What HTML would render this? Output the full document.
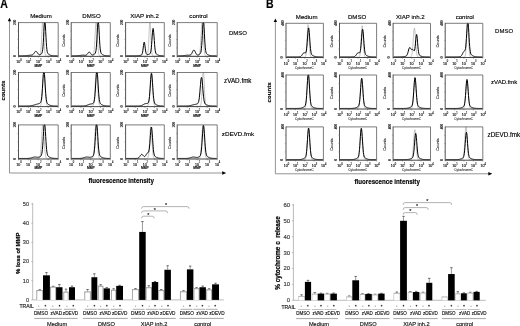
<!DOCTYPE html>
<html><head><meta charset="utf-8"><style>
html,body{margin:0;padding:0;background:#fff;width:520px;height:326px;overflow:hidden}
svg{display:block}
#w{filter:grayscale(1);width:520px;height:326px}
text{font-family:"Liberation Sans", sans-serif}
</style></head><body>
<div id="w"><svg width="520" height="326" viewBox="0 0 520 326">
<rect width="520" height="326" fill="#fff"/>
<text x="0.35" y="8.20" font-size="12" text-anchor="start" fill="#000" font-weight="bold" textLength="7.6" lengthAdjust="spacingAndGlyphs" stroke="#000" stroke-width="0.14">A</text>
<text x="266.10" y="8.20" font-size="12" text-anchor="start" fill="#000" font-weight="bold" textLength="7.6" lengthAdjust="spacingAndGlyphs" stroke="#000" stroke-width="0.14">B</text>
<path d="M19.00,56.10 L19.30,56.10 L19.60,56.10 L19.90,56.10 L20.20,56.10 L20.50,56.10 L20.80,56.10 L21.10,56.10 L21.40,56.10 L21.70,56.10 L22.00,56.10 L22.30,56.10 L22.60,56.10 L22.90,56.10 L23.20,56.10 L23.50,56.10 L23.80,56.10 L24.10,56.10 L24.40,56.10 L24.70,56.10 L25.00,56.10 L25.30,56.10 L25.60,56.10 L25.90,56.10 L26.20,56.10 L26.50,56.10 L26.80,56.10 L27.10,56.10 L27.40,56.10 L27.70,56.10 L28.00,56.10 L28.30,56.10 L28.60,56.10 L28.90,56.10 L29.20,56.10 L29.50,56.10 L29.80,56.10 L30.10,56.10 L30.40,56.10 L30.70,56.10 L31.00,56.10 L31.30,56.10 L31.60,56.10 L31.90,56.10 L32.20,56.10 L32.50,56.10 L32.80,56.10 L33.10,56.10 L33.40,56.10 L33.70,56.10 L34.00,56.10 L34.30,56.10 L34.60,56.10 L34.90,56.10 L35.20,56.10 L35.50,56.10 L35.80,56.10 L36.10,56.10 L36.40,56.10 L36.70,56.10 L37.00,56.10 L37.30,56.10 L37.60,56.10 L37.90,56.10 L38.20,56.10 L38.50,56.10 L38.80,56.09 L39.10,56.06 L39.40,55.99 L39.70,55.81 L40.00,55.40 L40.30,54.55 L40.60,52.97 L40.90,50.31 L41.20,46.32 L41.50,40.99 L41.80,34.77 L42.10,28.57 L42.40,23.63 L42.70,22.60 L43.00,22.60 L43.30,25.06 L43.60,30.56 L43.90,36.89 L44.20,42.90 L44.50,47.81 L44.80,51.34 L45.10,53.60 L45.40,54.90 L45.70,55.58 L46.00,55.89 L46.30,56.02 L46.60,56.07 L46.90,56.09 L47.20,56.10 L47.50,56.10 L47.80,56.10 L48.10,56.10 L48.40,56.10 L48.70,56.10 L49.00,56.10 L49.30,56.10 L49.60,56.10 L49.90,56.10 L50.20,56.10 L50.50,56.10 L50.80,56.10 L51.10,56.10 L51.40,56.10 L51.70,56.10 L52.00,56.10 L52.30,56.10 L52.60,56.10 L52.90,56.10 L53.20,56.10 L53.50,56.10 L53.80,56.10 L54.10,56.10 L54.40,56.10 L54.70,56.10 L55.00,56.10 L55.30,56.10 L55.60,56.10 L55.90,56.10 L56.20,56.10 L56.50,56.10 L56.80,56.10 L57.10,56.10 L57.40,56.10 L57.70,56.10" stroke="#959595" stroke-width="0.55" fill="none"/>
<path d="M19.00,55.85 L19.30,55.85 L19.60,55.85 L19.90,55.85 L20.20,55.85 L20.50,55.85 L20.80,55.85 L21.10,55.85 L21.40,55.85 L21.70,55.84 L22.00,55.84 L22.30,55.84 L22.60,55.84 L22.90,55.83 L23.20,55.83 L23.50,55.82 L23.80,55.81 L24.10,55.80 L24.40,55.79 L24.70,55.78 L25.00,55.76 L25.30,55.74 L25.60,55.72 L25.90,55.69 L26.20,55.66 L26.50,55.63 L26.80,55.60 L27.10,55.56 L27.40,55.52 L27.70,55.48 L28.00,55.44 L28.30,55.40 L28.60,55.36 L28.90,55.33 L29.20,55.29 L29.50,55.26 L29.80,55.23 L30.10,55.20 L30.40,55.18 L30.70,55.16 L31.00,55.14 L31.30,55.11 L31.60,55.08 L31.90,55.02 L32.20,54.93 L32.50,54.80 L32.80,54.62 L33.10,54.38 L33.40,54.08 L33.70,53.71 L34.00,53.29 L34.30,52.84 L34.60,52.39 L34.90,51.97 L35.20,51.62 L35.50,51.38 L35.80,51.28 L36.10,51.32 L36.40,51.50 L36.70,51.80 L37.00,52.19 L37.30,52.64 L37.60,53.10 L37.90,53.54 L38.20,53.93 L38.50,54.25 L38.80,54.48 L39.10,54.64 L39.40,54.71 L39.70,54.72 L40.00,54.67 L40.30,54.57 L40.60,54.43 L40.90,54.26 L41.20,54.04 L41.50,53.76 L41.80,53.34 L42.10,52.67 L42.40,51.53 L42.70,49.64 L43.00,46.70 L43.30,42.53 L43.60,37.27 L43.90,31.45 L44.20,26.03 L44.50,22.60 L44.80,22.60 L45.10,22.60 L45.40,26.03 L45.70,31.45 L46.00,37.27 L46.30,42.54 L46.60,46.70 L46.90,49.64 L47.20,51.53 L47.50,52.67 L47.80,53.35 L48.10,53.77 L48.40,54.06 L48.70,54.29 L49.00,54.49 L49.30,54.67 L49.60,54.84 L49.90,54.99 L50.20,55.12 L50.50,55.24 L50.80,55.35 L51.10,55.44 L51.40,55.52 L51.70,55.58 L52.00,55.64 L52.30,55.68 L52.60,55.72 L52.90,55.75 L53.20,55.77 L53.50,55.79 L53.80,55.81 L54.10,55.82 L54.40,55.83 L54.70,55.83 L55.00,55.84 L55.30,55.84 L55.60,55.84 L55.90,55.84 L56.20,55.85 L56.50,55.85 L56.80,55.85 L57.10,55.85 L57.40,55.85 L57.70,55.85" stroke="#000" stroke-width="1.0" fill="none" stroke-linejoin="round"/>
<line x1="18.50" y1="22.60" x2="58.20" y2="22.60" stroke="#5a5a5a" stroke-width="0.8"/>
<line x1="58.20" y1="22.60" x2="58.20" y2="56.40" stroke="#5a5a5a" stroke-width="0.8"/>
<line x1="18.50" y1="22.20" x2="18.50" y2="56.80" stroke="#404040" stroke-width="0.9"/>
<line x1="18.50" y1="56.40" x2="58.20" y2="56.40" stroke="#333" stroke-width="0.9"/>
<line x1="17.30" y1="31.05" x2="18.50" y2="31.05" stroke="#777" stroke-width="0.5"/>
<line x1="17.30" y1="39.50" x2="18.50" y2="39.50" stroke="#777" stroke-width="0.5"/>
<line x1="17.30" y1="47.95" x2="18.50" y2="47.95" stroke="#777" stroke-width="0.5"/>
<line x1="18.50" y1="56.40" x2="18.50" y2="57.70" stroke="#555" stroke-width="0.5"/>
<line x1="28.43" y1="56.40" x2="28.43" y2="57.70" stroke="#555" stroke-width="0.5"/>
<line x1="38.35" y1="56.40" x2="38.35" y2="57.70" stroke="#555" stroke-width="0.5"/>
<line x1="48.28" y1="56.40" x2="48.28" y2="57.70" stroke="#555" stroke-width="0.5"/>
<line x1="58.20" y1="56.40" x2="58.20" y2="57.70" stroke="#555" stroke-width="0.5"/>
<text x="16.25" y="22.40" font-size="3.1" text-anchor="middle" fill="#222" transform="rotate(-90 16.25 22.40)" stroke="#222" stroke-width="0.12">200</text>
<text x="15.90" y="56.20" font-size="3.1" text-anchor="middle" fill="#222" transform="rotate(-90 15.90 56.20)" stroke="#222" stroke-width="0.15">0</text>
<text x="18.20" y="62.90" font-size="3.6" text-anchor="middle" fill="#111" stroke="#111" stroke-width="0.15">10</text>
<text x="20.90" y="60.70" font-size="2.6" text-anchor="middle" fill="#111" stroke="#111" stroke-width="0.1">0</text>
<text x="28.12" y="62.90" font-size="3.6" text-anchor="middle" fill="#111" stroke="#111" stroke-width="0.15">10</text>
<text x="30.82" y="60.70" font-size="2.6" text-anchor="middle" fill="#111" stroke="#111" stroke-width="0.1">1</text>
<text x="38.05" y="62.90" font-size="3.6" text-anchor="middle" fill="#111" stroke="#111" stroke-width="0.15">10</text>
<text x="40.75" y="60.70" font-size="2.6" text-anchor="middle" fill="#111" stroke="#111" stroke-width="0.1">2</text>
<text x="47.98" y="62.90" font-size="3.6" text-anchor="middle" fill="#111" stroke="#111" stroke-width="0.15">10</text>
<text x="50.68" y="60.70" font-size="2.6" text-anchor="middle" fill="#111" stroke="#111" stroke-width="0.1">3</text>
<text x="57.90" y="62.90" font-size="3.6" text-anchor="middle" fill="#111" stroke="#111" stroke-width="0.15">10</text>
<text x="60.60" y="60.70" font-size="2.6" text-anchor="middle" fill="#111" stroke="#111" stroke-width="0.1">4</text>
<text x="38.35" y="66.60" font-size="3.3" text-anchor="middle" fill="#111" font-weight="bold" stroke="#111" stroke-width="0.12">MMP</text>
<path d="M71.70,56.10 L72.00,56.10 L72.30,56.10 L72.60,56.10 L72.90,56.10 L73.20,56.10 L73.50,56.10 L73.80,56.10 L74.10,56.10 L74.40,56.10 L74.70,56.10 L75.00,56.10 L75.30,56.10 L75.60,56.10 L75.90,56.10 L76.20,56.10 L76.50,56.10 L76.80,56.10 L77.10,56.10 L77.40,56.10 L77.70,56.10 L78.00,56.10 L78.30,56.10 L78.60,56.10 L78.90,56.10 L79.20,56.10 L79.50,56.10 L79.80,56.10 L80.10,56.10 L80.40,56.10 L80.70,56.10 L81.00,56.10 L81.30,56.10 L81.60,56.10 L81.90,56.10 L82.20,56.10 L82.50,56.10 L82.80,56.10 L83.10,56.10 L83.40,56.10 L83.70,56.10 L84.00,56.10 L84.30,56.10 L84.60,56.10 L84.90,56.10 L85.20,56.10 L85.50,56.10 L85.80,56.10 L86.10,56.10 L86.40,56.10 L86.70,56.10 L87.00,56.10 L87.30,56.10 L87.60,56.10 L87.90,56.10 L88.20,56.10 L88.50,56.10 L88.80,56.10 L89.10,56.10 L89.40,56.10 L89.70,56.10 L90.00,56.10 L90.30,56.10 L90.60,56.10 L90.90,56.10 L91.20,56.10 L91.50,56.10 L91.80,56.09 L92.10,56.07 L92.40,56.01 L92.70,55.88 L93.00,55.59 L93.30,55.01 L93.60,53.95 L93.90,52.15 L94.20,49.36 L94.50,45.44 L94.80,40.45 L95.10,34.77 L95.40,29.10 L95.70,24.38 L96.00,22.60 L96.30,22.60 L96.60,23.18 L96.90,27.37 L97.20,32.83 L97.50,38.60 L97.80,43.89 L98.10,48.19 L98.40,51.34 L98.70,53.44 L99.00,54.72 L99.30,55.44 L99.60,55.80 L99.90,55.98 L100.20,56.05 L100.50,56.08 L100.80,56.09 L101.10,56.10 L101.40,56.10 L101.70,56.10 L102.00,56.10 L102.30,56.10 L102.60,56.10 L102.90,56.10 L103.20,56.10 L103.50,56.10 L103.80,56.10 L104.10,56.10 L104.40,56.10 L104.70,56.10 L105.00,56.10 L105.30,56.10 L105.60,56.10 L105.90,56.10 L106.20,56.10 L106.50,56.10 L106.80,56.10 L107.10,56.10 L107.40,56.10 L107.70,56.10 L108.00,56.10 L108.30,56.10 L108.60,56.10 L108.90,56.10 L109.20,56.10 L109.50,56.10 L109.80,56.10" stroke="#959595" stroke-width="0.55" fill="none"/>
<path d="M71.70,55.85 L72.00,55.85 L72.30,55.85 L72.60,55.85 L72.90,55.85 L73.20,55.85 L73.50,55.84 L73.80,55.84 L74.10,55.84 L74.40,55.84 L74.70,55.83 L75.00,55.83 L75.30,55.82 L75.60,55.82 L75.90,55.81 L76.20,55.80 L76.50,55.79 L76.80,55.77 L77.10,55.75 L77.40,55.73 L77.70,55.71 L78.00,55.68 L78.30,55.65 L78.60,55.62 L78.90,55.59 L79.20,55.55 L79.50,55.51 L79.80,55.47 L80.10,55.43 L80.40,55.39 L80.70,55.35 L81.00,55.31 L81.30,55.28 L81.60,55.25 L81.90,55.22 L82.20,55.20 L82.50,55.19 L82.80,55.18 L83.10,55.18 L83.40,55.19 L83.70,55.20 L84.00,55.21 L84.30,55.23 L84.60,55.25 L84.90,55.27 L85.20,55.28 L85.50,55.26 L85.80,55.22 L86.10,55.14 L86.40,55.00 L86.70,54.79 L87.00,54.50 L87.30,54.14 L87.60,53.72 L87.90,53.27 L88.20,52.83 L88.50,52.46 L88.80,52.18 L89.10,52.05 L89.40,52.09 L89.70,52.27 L90.00,52.59 L90.30,52.99 L90.60,53.44 L90.90,53.87 L91.20,54.26 L91.50,54.57 L91.80,54.80 L92.10,54.94 L92.40,55.01 L92.70,55.00 L93.00,54.94 L93.30,54.84 L93.60,54.70 L93.90,54.54 L94.20,54.35 L94.50,54.14 L94.80,53.87 L95.10,53.51 L95.40,52.94 L95.70,51.98 L96.00,50.37 L96.30,47.81 L96.60,44.06 L96.90,39.12 L97.20,33.40 L97.50,27.72 L97.80,23.20 L98.10,22.60 L98.40,22.60 L98.70,24.51 L99.00,29.54 L99.30,35.35 L99.60,40.88 L99.90,45.45 L100.20,48.79 L100.50,51.00 L100.80,52.35 L101.10,53.16 L101.40,53.65 L101.70,53.97 L102.00,54.22 L102.30,54.43 L102.60,54.62 L102.90,54.79 L103.20,54.94 L103.50,55.08 L103.80,55.21 L104.10,55.32 L104.40,55.41 L104.70,55.49 L105.00,55.56 L105.30,55.62 L105.60,55.67 L105.90,55.71 L106.20,55.74 L106.50,55.76 L106.80,55.79 L107.10,55.80 L107.40,55.81 L107.70,55.82 L108.00,55.83 L108.30,55.84 L108.60,55.84 L108.90,55.84 L109.20,55.84 L109.50,55.85 L109.80,55.85" stroke="#000" stroke-width="1.0" fill="none" stroke-linejoin="round"/>
<line x1="71.20" y1="22.60" x2="110.30" y2="22.60" stroke="#5a5a5a" stroke-width="0.8"/>
<line x1="110.30" y1="22.60" x2="110.30" y2="56.40" stroke="#5a5a5a" stroke-width="0.8"/>
<line x1="71.20" y1="22.20" x2="71.20" y2="56.80" stroke="#404040" stroke-width="0.9"/>
<line x1="71.20" y1="56.40" x2="110.30" y2="56.40" stroke="#333" stroke-width="0.9"/>
<line x1="70.00" y1="31.05" x2="71.20" y2="31.05" stroke="#777" stroke-width="0.5"/>
<line x1="70.00" y1="39.50" x2="71.20" y2="39.50" stroke="#777" stroke-width="0.5"/>
<line x1="70.00" y1="47.95" x2="71.20" y2="47.95" stroke="#777" stroke-width="0.5"/>
<line x1="71.20" y1="56.40" x2="71.20" y2="57.70" stroke="#555" stroke-width="0.5"/>
<line x1="80.97" y1="56.40" x2="80.97" y2="57.70" stroke="#555" stroke-width="0.5"/>
<line x1="90.75" y1="56.40" x2="90.75" y2="57.70" stroke="#555" stroke-width="0.5"/>
<line x1="100.53" y1="56.40" x2="100.53" y2="57.70" stroke="#555" stroke-width="0.5"/>
<line x1="110.30" y1="56.40" x2="110.30" y2="57.70" stroke="#555" stroke-width="0.5"/>
<text x="68.95" y="22.40" font-size="3.1" text-anchor="middle" fill="#222" transform="rotate(-90 68.95 22.40)" stroke="#222" stroke-width="0.12">200</text>
<text x="68.60" y="56.20" font-size="3.1" text-anchor="middle" fill="#222" transform="rotate(-90 68.60 56.20)" stroke="#222" stroke-width="0.15">0</text>
<text x="64.55" y="40.50" font-size="3.9" text-anchor="middle" fill="#444" transform="rotate(-90 64.55 40.50)" stroke="#444" stroke-width="0.15">Counts</text>
<text x="70.90" y="62.90" font-size="3.6" text-anchor="middle" fill="#111" stroke="#111" stroke-width="0.15">10</text>
<text x="73.60" y="60.70" font-size="2.6" text-anchor="middle" fill="#111" stroke="#111" stroke-width="0.1">0</text>
<text x="80.67" y="62.90" font-size="3.6" text-anchor="middle" fill="#111" stroke="#111" stroke-width="0.15">10</text>
<text x="83.38" y="60.70" font-size="2.6" text-anchor="middle" fill="#111" stroke="#111" stroke-width="0.1">1</text>
<text x="90.45" y="62.90" font-size="3.6" text-anchor="middle" fill="#111" stroke="#111" stroke-width="0.15">10</text>
<text x="93.15" y="60.70" font-size="2.6" text-anchor="middle" fill="#111" stroke="#111" stroke-width="0.1">2</text>
<text x="100.23" y="62.90" font-size="3.6" text-anchor="middle" fill="#111" stroke="#111" stroke-width="0.15">10</text>
<text x="102.93" y="60.70" font-size="2.6" text-anchor="middle" fill="#111" stroke="#111" stroke-width="0.1">3</text>
<text x="110.00" y="62.90" font-size="3.6" text-anchor="middle" fill="#111" stroke="#111" stroke-width="0.15">10</text>
<text x="112.70" y="60.70" font-size="2.6" text-anchor="middle" fill="#111" stroke="#111" stroke-width="0.1">4</text>
<text x="90.75" y="66.60" font-size="3.3" text-anchor="middle" fill="#111" font-weight="bold" stroke="#111" stroke-width="0.12">MMP</text>
<path d="M126.10,56.10 L126.40,56.10 L126.70,56.10 L127.00,56.10 L127.30,56.10 L127.60,56.10 L127.90,56.10 L128.20,56.10 L128.50,56.10 L128.80,56.10 L129.10,56.10 L129.40,56.10 L129.70,56.10 L130.00,56.10 L130.30,56.10 L130.60,56.10 L130.90,56.10 L131.20,56.10 L131.50,56.10 L131.80,56.10 L132.10,56.10 L132.40,56.10 L132.70,56.10 L133.00,56.10 L133.30,56.10 L133.60,56.10 L133.90,56.10 L134.20,56.10 L134.50,56.10 L134.80,56.10 L135.10,56.10 L135.40,56.10 L135.70,56.10 L136.00,56.10 L136.30,56.10 L136.60,56.10 L136.90,56.10 L137.20,56.10 L137.50,56.10 L137.80,56.10 L138.10,56.10 L138.40,56.10 L138.70,56.10 L139.00,56.10 L139.30,56.10 L139.60,56.10 L139.90,56.10 L140.20,56.10 L140.50,56.10 L140.80,56.10 L141.10,56.10 L141.40,56.10 L141.70,56.10 L142.00,56.10 L142.30,56.10 L142.60,56.10 L142.90,56.10 L143.20,56.10 L143.50,56.10 L143.80,56.10 L144.10,56.10 L144.40,56.10 L144.70,56.10 L145.00,56.10 L145.30,56.10 L145.60,56.10 L145.90,56.10 L146.20,56.09 L146.50,56.07 L146.80,56.01 L147.10,55.82 L147.40,55.36 L147.70,54.33 L148.00,52.31 L148.30,48.86 L148.60,43.71 L148.90,37.13 L149.20,30.11 L149.50,24.23 L149.80,22.60 L150.10,22.60 L150.40,25.96 L150.70,32.40 L151.00,39.43 L151.30,45.61 L151.60,50.19 L151.90,53.12 L152.20,54.76 L152.50,55.56 L152.80,55.90 L153.10,56.04 L153.40,56.08 L153.70,56.10 L154.00,56.10 L154.30,56.10 L154.60,56.10 L154.90,56.10 L155.20,56.10 L155.50,56.10 L155.80,56.10 L156.10,56.10 L156.40,56.10 L156.70,56.10 L157.00,56.10 L157.30,56.10 L157.60,56.10 L157.90,56.10 L158.20,56.10 L158.50,56.10 L158.80,56.10 L159.10,56.10 L159.40,56.10 L159.70,56.10 L160.00,56.10 L160.30,56.10 L160.60,56.10 L160.90,56.10 L161.20,56.10 L161.50,56.10 L161.80,56.10 L162.10,56.10 L162.40,56.10 L162.70,56.10 L163.00,56.10 L163.30,56.10 L163.60,56.10" stroke="#959595" stroke-width="0.55" fill="none"/>
<path d="M126.10,55.85 L126.40,55.85 L126.70,55.85 L127.00,55.85 L127.30,55.85 L127.60,55.85 L127.90,55.85 L128.20,55.85 L128.50,55.85 L128.80,55.85 L129.10,55.85 L129.40,55.85 L129.70,55.85 L130.00,55.85 L130.30,55.85 L130.60,55.85 L130.90,55.85 L131.20,55.85 L131.50,55.85 L131.80,55.85 L132.10,55.85 L132.40,55.85 L132.70,55.85 L133.00,55.85 L133.30,55.85 L133.60,55.85 L133.90,55.85 L134.20,55.85 L134.50,55.85 L134.80,55.85 L135.10,55.84 L135.40,55.84 L135.70,55.84 L136.00,55.83 L136.30,55.83 L136.60,55.82 L136.90,55.81 L137.20,55.80 L137.50,55.78 L137.80,55.76 L138.10,55.74 L138.40,55.71 L138.70,55.67 L139.00,55.63 L139.30,55.58 L139.60,55.52 L139.90,55.46 L140.20,55.38 L140.50,55.30 L140.80,55.21 L141.10,55.10 L141.40,54.95 L141.70,54.70 L142.00,54.26 L142.30,53.49 L142.60,52.21 L142.90,50.34 L143.20,47.96 L143.50,45.42 L143.80,43.29 L144.10,42.16 L144.40,42.38 L144.70,43.86 L145.00,46.17 L145.30,48.67 L145.60,50.87 L145.90,52.49 L146.20,53.53 L146.50,54.12 L146.80,54.41 L147.10,54.54 L147.40,54.58 L147.70,54.58 L148.00,54.56 L148.30,54.52 L148.60,54.46 L148.90,54.37 L149.20,54.27 L149.50,54.12 L149.80,53.90 L150.10,53.53 L150.40,52.92 L150.70,51.89 L151.00,50.24 L151.30,47.78 L151.60,44.46 L151.90,40.42 L152.20,36.10 L152.50,32.17 L152.80,29.41 L153.10,28.41 L153.40,29.42 L153.70,32.18 L154.00,36.11 L154.30,40.44 L154.60,44.49 L154.90,47.83 L155.20,50.30 L155.50,51.97 L155.80,53.02 L156.10,53.67 L156.40,54.06 L156.70,54.32 L157.00,54.52 L157.30,54.68 L157.60,54.83 L157.90,54.96 L158.20,55.08 L158.50,55.19 L158.80,55.29 L159.10,55.38 L159.40,55.45 L159.70,55.52 L160.00,55.58 L160.30,55.63 L160.60,55.67 L160.90,55.71 L161.20,55.74 L161.50,55.76 L161.80,55.78 L162.10,55.80 L162.40,55.81 L162.70,55.82 L163.00,55.83 L163.30,55.83 L163.60,55.84" stroke="#000" stroke-width="1.0" fill="none" stroke-linejoin="round"/>
<line x1="125.60" y1="22.60" x2="164.30" y2="22.60" stroke="#5a5a5a" stroke-width="0.8"/>
<line x1="164.30" y1="22.60" x2="164.30" y2="56.40" stroke="#5a5a5a" stroke-width="0.8"/>
<line x1="125.60" y1="22.20" x2="125.60" y2="56.80" stroke="#404040" stroke-width="0.9"/>
<line x1="125.60" y1="56.40" x2="164.30" y2="56.40" stroke="#333" stroke-width="0.9"/>
<line x1="124.40" y1="31.05" x2="125.60" y2="31.05" stroke="#777" stroke-width="0.5"/>
<line x1="124.40" y1="39.50" x2="125.60" y2="39.50" stroke="#777" stroke-width="0.5"/>
<line x1="124.40" y1="47.95" x2="125.60" y2="47.95" stroke="#777" stroke-width="0.5"/>
<line x1="125.60" y1="56.40" x2="125.60" y2="57.70" stroke="#555" stroke-width="0.5"/>
<line x1="135.28" y1="56.40" x2="135.28" y2="57.70" stroke="#555" stroke-width="0.5"/>
<line x1="144.95" y1="56.40" x2="144.95" y2="57.70" stroke="#555" stroke-width="0.5"/>
<line x1="154.62" y1="56.40" x2="154.62" y2="57.70" stroke="#555" stroke-width="0.5"/>
<line x1="164.30" y1="56.40" x2="164.30" y2="57.70" stroke="#555" stroke-width="0.5"/>
<text x="123.35" y="22.40" font-size="3.1" text-anchor="middle" fill="#222" transform="rotate(-90 123.35 22.40)" stroke="#222" stroke-width="0.12">200</text>
<text x="123.00" y="56.20" font-size="3.1" text-anchor="middle" fill="#222" transform="rotate(-90 123.00 56.20)" stroke="#222" stroke-width="0.15">0</text>
<text x="118.95" y="40.50" font-size="3.9" text-anchor="middle" fill="#444" transform="rotate(-90 118.95 40.50)" stroke="#444" stroke-width="0.15">Counts</text>
<text x="125.30" y="62.90" font-size="3.6" text-anchor="middle" fill="#111" stroke="#111" stroke-width="0.15">10</text>
<text x="128.00" y="60.70" font-size="2.6" text-anchor="middle" fill="#111" stroke="#111" stroke-width="0.1">0</text>
<text x="134.97" y="62.90" font-size="3.6" text-anchor="middle" fill="#111" stroke="#111" stroke-width="0.15">10</text>
<text x="137.68" y="60.70" font-size="2.6" text-anchor="middle" fill="#111" stroke="#111" stroke-width="0.1">1</text>
<text x="144.65" y="62.90" font-size="3.6" text-anchor="middle" fill="#111" stroke="#111" stroke-width="0.15">10</text>
<text x="147.35" y="60.70" font-size="2.6" text-anchor="middle" fill="#111" stroke="#111" stroke-width="0.1">2</text>
<text x="154.32" y="62.90" font-size="3.6" text-anchor="middle" fill="#111" stroke="#111" stroke-width="0.15">10</text>
<text x="157.03" y="60.70" font-size="2.6" text-anchor="middle" fill="#111" stroke="#111" stroke-width="0.1">3</text>
<text x="164.00" y="62.90" font-size="3.6" text-anchor="middle" fill="#111" stroke="#111" stroke-width="0.15">10</text>
<text x="166.70" y="60.70" font-size="2.6" text-anchor="middle" fill="#111" stroke="#111" stroke-width="0.1">4</text>
<text x="144.95" y="66.60" font-size="3.3" text-anchor="middle" fill="#111" font-weight="bold" stroke="#111" stroke-width="0.12">MMP</text>
<path d="M177.70,56.10 L178.00,56.10 L178.30,56.10 L178.60,56.10 L178.90,56.10 L179.20,56.10 L179.50,56.10 L179.80,56.10 L180.10,56.10 L180.40,56.10 L180.70,56.10 L181.00,56.10 L181.30,56.10 L181.60,56.10 L181.90,56.10 L182.20,56.10 L182.50,56.10 L182.80,56.10 L183.10,56.10 L183.40,56.10 L183.70,56.10 L184.00,56.10 L184.30,56.10 L184.60,56.10 L184.90,56.10 L185.20,56.10 L185.50,56.10 L185.80,56.10 L186.10,56.10 L186.40,56.10 L186.70,56.10 L187.00,56.10 L187.30,56.10 L187.60,56.10 L187.90,56.10 L188.20,56.10 L188.50,56.10 L188.80,56.10 L189.10,56.10 L189.40,56.10 L189.70,56.10 L190.00,56.10 L190.30,56.10 L190.60,56.10 L190.90,56.10 L191.20,56.10 L191.50,56.10 L191.80,56.10 L192.10,56.10 L192.40,56.10 L192.70,56.10 L193.00,56.10 L193.30,56.10 L193.60,56.10 L193.90,56.10 L194.20,56.10 L194.50,56.10 L194.80,56.10 L195.10,56.10 L195.40,56.10 L195.70,56.10 L196.00,56.10 L196.30,56.10 L196.60,56.10 L196.90,56.10 L197.20,56.10 L197.50,56.10 L197.80,56.09 L198.10,56.07 L198.40,56.01 L198.70,55.88 L199.00,55.59 L199.30,55.01 L199.60,53.95 L199.90,52.15 L200.20,49.36 L200.50,45.44 L200.80,40.45 L201.10,34.77 L201.40,29.10 L201.70,24.38 L202.00,22.60 L202.30,22.60 L202.60,23.18 L202.90,27.37 L203.20,32.83 L203.50,38.60 L203.80,43.89 L204.10,48.19 L204.40,51.34 L204.70,53.44 L205.00,54.72 L205.30,55.44 L205.60,55.80 L205.90,55.98 L206.20,56.05 L206.50,56.08 L206.80,56.09 L207.10,56.10 L207.40,56.10 L207.70,56.10 L208.00,56.10 L208.30,56.10 L208.60,56.10 L208.90,56.10 L209.20,56.10 L209.50,56.10 L209.80,56.10 L210.10,56.10 L210.40,56.10 L210.70,56.10 L211.00,56.10 L211.30,56.10 L211.60,56.10 L211.90,56.10 L212.20,56.10 L212.50,56.10 L212.80,56.10 L213.10,56.10 L213.40,56.10 L213.70,56.10 L214.00,56.10 L214.30,56.10 L214.60,56.10 L214.90,56.10 L215.20,56.10 L215.50,56.10 L215.80,56.10 L216.10,56.10 L216.40,56.10 L216.70,56.10" stroke="#959595" stroke-width="0.55" fill="none"/>
<path d="M177.70,55.85 L178.00,55.85 L178.30,55.85 L178.60,55.84 L178.90,55.84 L179.20,55.84 L179.50,55.84 L179.80,55.83 L180.10,55.83 L180.40,55.82 L180.70,55.81 L181.00,55.81 L181.30,55.79 L181.60,55.78 L181.90,55.76 L182.20,55.75 L182.50,55.72 L182.80,55.70 L183.10,55.67 L183.40,55.64 L183.70,55.61 L184.00,55.57 L184.30,55.54 L184.60,55.50 L184.90,55.46 L185.20,55.42 L185.50,55.38 L185.80,55.34 L186.10,55.30 L186.40,55.27 L186.70,55.24 L187.00,55.22 L187.30,55.20 L187.60,55.19 L187.90,55.18 L188.20,55.18 L188.50,55.18 L188.80,55.19 L189.10,55.19 L189.40,55.19 L189.70,55.17 L190.00,55.12 L190.30,55.03 L190.60,54.88 L190.90,54.66 L191.20,54.34 L191.50,53.93 L191.80,53.41 L192.10,52.81 L192.40,52.17 L192.70,51.52 L193.00,50.92 L193.30,50.45 L193.60,50.14 L193.90,50.04 L194.20,50.16 L194.50,50.49 L194.80,50.98 L195.10,51.59 L195.40,52.26 L195.70,52.91 L196.00,53.51 L196.30,54.02 L196.60,54.43 L196.90,54.71 L197.20,54.90 L197.50,54.99 L197.80,55.01 L198.10,54.97 L198.40,54.88 L198.70,54.75 L199.00,54.60 L199.30,54.42 L199.60,54.21 L199.90,53.97 L200.20,53.65 L200.50,53.16 L200.80,52.35 L201.10,51.00 L201.40,48.79 L201.70,45.45 L202.00,40.88 L202.30,35.35 L202.60,29.54 L202.90,24.51 L203.20,22.60 L203.50,22.60 L203.80,23.20 L204.10,27.72 L204.40,33.40 L204.70,39.12 L205.00,44.06 L205.30,47.81 L205.60,50.37 L205.90,51.98 L206.20,52.94 L206.50,53.51 L206.80,53.88 L207.10,54.14 L207.40,54.36 L207.70,54.55 L208.00,54.73 L208.30,54.89 L208.60,55.04 L208.90,55.17 L209.20,55.28 L209.50,55.38 L209.80,55.47 L210.10,55.54 L210.40,55.60 L210.70,55.65 L211.00,55.69 L211.30,55.73 L211.60,55.76 L211.90,55.78 L212.20,55.80 L212.50,55.81 L212.80,55.82 L213.10,55.83 L213.40,55.83 L213.70,55.84 L214.00,55.84 L214.30,55.84 L214.60,55.85 L214.90,55.85 L215.20,55.85 L215.50,55.85 L215.80,55.85 L216.10,55.85 L216.40,55.85 L216.70,55.85" stroke="#000" stroke-width="1.0" fill="none" stroke-linejoin="round"/>
<line x1="177.20" y1="22.60" x2="217.20" y2="22.60" stroke="#5a5a5a" stroke-width="0.8"/>
<line x1="217.20" y1="22.60" x2="217.20" y2="56.40" stroke="#5a5a5a" stroke-width="0.8"/>
<line x1="177.20" y1="22.20" x2="177.20" y2="56.80" stroke="#404040" stroke-width="0.9"/>
<line x1="177.20" y1="56.40" x2="217.20" y2="56.40" stroke="#333" stroke-width="0.9"/>
<line x1="176.00" y1="31.05" x2="177.20" y2="31.05" stroke="#777" stroke-width="0.5"/>
<line x1="176.00" y1="39.50" x2="177.20" y2="39.50" stroke="#777" stroke-width="0.5"/>
<line x1="176.00" y1="47.95" x2="177.20" y2="47.95" stroke="#777" stroke-width="0.5"/>
<line x1="177.20" y1="56.40" x2="177.20" y2="57.70" stroke="#555" stroke-width="0.5"/>
<line x1="187.20" y1="56.40" x2="187.20" y2="57.70" stroke="#555" stroke-width="0.5"/>
<line x1="197.20" y1="56.40" x2="197.20" y2="57.70" stroke="#555" stroke-width="0.5"/>
<line x1="207.20" y1="56.40" x2="207.20" y2="57.70" stroke="#555" stroke-width="0.5"/>
<line x1="217.20" y1="56.40" x2="217.20" y2="57.70" stroke="#555" stroke-width="0.5"/>
<text x="174.95" y="22.40" font-size="3.1" text-anchor="middle" fill="#222" transform="rotate(-90 174.95 22.40)" stroke="#222" stroke-width="0.12">200</text>
<text x="174.60" y="56.20" font-size="3.1" text-anchor="middle" fill="#222" transform="rotate(-90 174.60 56.20)" stroke="#222" stroke-width="0.15">0</text>
<text x="170.55" y="40.50" font-size="3.9" text-anchor="middle" fill="#444" transform="rotate(-90 170.55 40.50)" stroke="#444" stroke-width="0.15">Counts</text>
<text x="176.90" y="62.90" font-size="3.6" text-anchor="middle" fill="#111" stroke="#111" stroke-width="0.15">10</text>
<text x="179.60" y="60.70" font-size="2.6" text-anchor="middle" fill="#111" stroke="#111" stroke-width="0.1">0</text>
<text x="186.90" y="62.90" font-size="3.6" text-anchor="middle" fill="#111" stroke="#111" stroke-width="0.15">10</text>
<text x="189.60" y="60.70" font-size="2.6" text-anchor="middle" fill="#111" stroke="#111" stroke-width="0.1">1</text>
<text x="196.90" y="62.90" font-size="3.6" text-anchor="middle" fill="#111" stroke="#111" stroke-width="0.15">10</text>
<text x="199.60" y="60.70" font-size="2.6" text-anchor="middle" fill="#111" stroke="#111" stroke-width="0.1">2</text>
<text x="206.90" y="62.90" font-size="3.6" text-anchor="middle" fill="#111" stroke="#111" stroke-width="0.15">10</text>
<text x="209.60" y="60.70" font-size="2.6" text-anchor="middle" fill="#111" stroke="#111" stroke-width="0.1">3</text>
<text x="216.90" y="62.90" font-size="3.6" text-anchor="middle" fill="#111" stroke="#111" stroke-width="0.15">10</text>
<text x="219.60" y="60.70" font-size="2.6" text-anchor="middle" fill="#111" stroke="#111" stroke-width="0.1">4</text>
<text x="197.20" y="66.60" font-size="3.3" text-anchor="middle" fill="#111" font-weight="bold" stroke="#111" stroke-width="0.12">MMP</text>
<path d="M19.00,106.30 L19.30,106.30 L19.60,106.30 L19.90,106.30 L20.20,106.30 L20.50,106.30 L20.80,106.30 L21.10,106.30 L21.40,106.30 L21.70,106.30 L22.00,106.30 L22.30,106.30 L22.60,106.30 L22.90,106.30 L23.20,106.30 L23.50,106.30 L23.80,106.30 L24.10,106.30 L24.40,106.30 L24.70,106.30 L25.00,106.30 L25.30,106.30 L25.60,106.30 L25.90,106.30 L26.20,106.30 L26.50,106.30 L26.80,106.30 L27.10,106.30 L27.40,106.30 L27.70,106.30 L28.00,106.30 L28.30,106.30 L28.60,106.30 L28.90,106.30 L29.20,106.30 L29.50,106.30 L29.80,106.30 L30.10,106.30 L30.40,106.30 L30.70,106.30 L31.00,106.30 L31.30,106.30 L31.60,106.30 L31.90,106.30 L32.20,106.30 L32.50,106.30 L32.80,106.30 L33.10,106.30 L33.40,106.30 L33.70,106.30 L34.00,106.30 L34.30,106.30 L34.60,106.30 L34.90,106.30 L35.20,106.30 L35.50,106.30 L35.80,106.30 L36.10,106.30 L36.40,106.30 L36.70,106.30 L37.00,106.30 L37.30,106.30 L37.60,106.30 L37.90,106.30 L38.20,106.30 L38.50,106.30 L38.80,106.30 L39.10,106.29 L39.40,106.27 L39.70,106.22 L40.00,106.12 L40.30,105.91 L40.60,105.49 L40.90,104.74 L41.20,103.48 L41.50,101.50 L41.80,98.62 L42.10,94.78 L42.40,90.05 L42.70,84.77 L43.00,79.51 L43.30,74.98 L43.60,72.50 L43.90,72.50 L44.20,72.50 L44.50,74.98 L44.80,79.51 L45.10,84.77 L45.40,90.05 L45.70,94.78 L46.00,98.62 L46.30,101.50 L46.60,103.48 L46.90,104.74 L47.20,105.49 L47.50,105.91 L47.80,106.12 L48.10,106.22 L48.40,106.27 L48.70,106.29 L49.00,106.30 L49.30,106.30 L49.60,106.30 L49.90,106.30 L50.20,106.30 L50.50,106.30 L50.80,106.30 L51.10,106.30 L51.40,106.30 L51.70,106.30 L52.00,106.30 L52.30,106.30 L52.60,106.30 L52.90,106.30 L53.20,106.30 L53.50,106.30 L53.80,106.30 L54.10,106.30 L54.40,106.30 L54.70,106.30 L55.00,106.30 L55.30,106.30 L55.60,106.30 L55.90,106.30 L56.20,106.30 L56.50,106.30 L56.80,106.30 L57.10,106.30 L57.40,106.30 L57.70,106.30" stroke="#959595" stroke-width="0.55" fill="none"/>
<path d="M19.00,106.05 L19.30,106.05 L19.60,106.05 L19.90,106.05 L20.20,106.05 L20.50,106.05 L20.80,106.05 L21.10,106.05 L21.40,106.05 L21.70,106.05 L22.00,106.05 L22.30,106.05 L22.60,106.05 L22.90,106.05 L23.20,106.05 L23.50,106.05 L23.80,106.05 L24.10,106.05 L24.40,106.05 L24.70,106.04 L25.00,106.04 L25.30,106.04 L25.60,106.04 L25.90,106.04 L26.20,106.04 L26.50,106.03 L26.80,106.03 L27.10,106.02 L27.40,106.02 L27.70,106.01 L28.00,106.00 L28.30,105.99 L28.60,105.97 L28.90,105.95 L29.20,105.93 L29.50,105.91 L29.80,105.88 L30.10,105.85 L30.40,105.82 L30.70,105.78 L31.00,105.73 L31.30,105.68 L31.60,105.63 L31.90,105.57 L32.20,105.51 L32.50,105.44 L32.80,105.37 L33.10,105.29 L33.40,105.21 L33.70,105.13 L34.00,105.04 L34.30,104.96 L34.60,104.87 L34.90,104.79 L35.20,104.70 L35.50,104.61 L35.80,104.52 L36.10,104.44 L36.40,104.35 L36.70,104.26 L37.00,104.18 L37.30,104.09 L37.60,104.00 L37.90,103.91 L38.20,103.82 L38.50,103.72 L38.80,103.62 L39.10,103.52 L39.40,103.40 L39.70,103.26 L40.00,103.09 L40.30,102.83 L40.60,102.43 L40.90,101.76 L41.20,100.67 L41.50,98.97 L41.80,96.45 L42.10,93.00 L42.40,88.68 L42.70,83.75 L43.00,78.76 L43.30,74.42 L43.60,72.50 L43.90,72.50 L44.20,72.50 L44.50,74.55 L44.80,78.96 L45.10,84.02 L45.40,89.01 L45.70,93.41 L46.00,96.92 L46.30,99.52 L46.60,101.30 L46.90,102.46 L47.20,103.21 L47.50,103.68 L47.80,104.01 L48.10,104.26 L48.40,104.46 L48.70,104.64 L49.00,104.80 L49.30,104.95 L49.60,105.09 L49.90,105.22 L50.20,105.33 L50.50,105.44 L50.80,105.53 L51.10,105.61 L51.40,105.68 L51.70,105.74 L52.00,105.80 L52.30,105.84 L52.60,105.88 L52.90,105.91 L53.20,105.94 L53.50,105.96 L53.80,105.98 L54.10,105.99 L54.40,106.01 L54.70,106.02 L55.00,106.02 L55.30,106.03 L55.60,106.03 L55.90,106.04 L56.20,106.04 L56.50,106.04 L56.80,106.04 L57.10,106.04 L57.40,106.05 L57.70,106.05" stroke="#000" stroke-width="1.0" fill="none" stroke-linejoin="round"/>
<line x1="18.50" y1="72.50" x2="58.20" y2="72.50" stroke="#5a5a5a" stroke-width="0.8"/>
<line x1="58.20" y1="72.50" x2="58.20" y2="106.60" stroke="#5a5a5a" stroke-width="0.8"/>
<line x1="18.50" y1="72.10" x2="18.50" y2="107.00" stroke="#404040" stroke-width="0.9"/>
<line x1="18.50" y1="106.60" x2="58.20" y2="106.60" stroke="#333" stroke-width="0.9"/>
<line x1="17.30" y1="81.03" x2="18.50" y2="81.03" stroke="#777" stroke-width="0.5"/>
<line x1="17.30" y1="89.55" x2="18.50" y2="89.55" stroke="#777" stroke-width="0.5"/>
<line x1="17.30" y1="98.07" x2="18.50" y2="98.07" stroke="#777" stroke-width="0.5"/>
<line x1="18.50" y1="106.60" x2="18.50" y2="107.90" stroke="#555" stroke-width="0.5"/>
<line x1="28.43" y1="106.60" x2="28.43" y2="107.90" stroke="#555" stroke-width="0.5"/>
<line x1="38.35" y1="106.60" x2="38.35" y2="107.90" stroke="#555" stroke-width="0.5"/>
<line x1="48.28" y1="106.60" x2="48.28" y2="107.90" stroke="#555" stroke-width="0.5"/>
<line x1="58.20" y1="106.60" x2="58.20" y2="107.90" stroke="#555" stroke-width="0.5"/>
<text x="16.25" y="72.30" font-size="3.1" text-anchor="middle" fill="#222" transform="rotate(-90 16.25 72.30)" stroke="#222" stroke-width="0.12">200</text>
<text x="15.90" y="106.40" font-size="3.1" text-anchor="middle" fill="#222" transform="rotate(-90 15.90 106.40)" stroke="#222" stroke-width="0.15">0</text>
<text x="18.20" y="113.10" font-size="3.6" text-anchor="middle" fill="#111" stroke="#111" stroke-width="0.15">10</text>
<text x="20.90" y="110.90" font-size="2.6" text-anchor="middle" fill="#111" stroke="#111" stroke-width="0.1">0</text>
<text x="28.12" y="113.10" font-size="3.6" text-anchor="middle" fill="#111" stroke="#111" stroke-width="0.15">10</text>
<text x="30.82" y="110.90" font-size="2.6" text-anchor="middle" fill="#111" stroke="#111" stroke-width="0.1">1</text>
<text x="38.05" y="113.10" font-size="3.6" text-anchor="middle" fill="#111" stroke="#111" stroke-width="0.15">10</text>
<text x="40.75" y="110.90" font-size="2.6" text-anchor="middle" fill="#111" stroke="#111" stroke-width="0.1">2</text>
<text x="47.98" y="113.10" font-size="3.6" text-anchor="middle" fill="#111" stroke="#111" stroke-width="0.15">10</text>
<text x="50.68" y="110.90" font-size="2.6" text-anchor="middle" fill="#111" stroke="#111" stroke-width="0.1">3</text>
<text x="57.90" y="113.10" font-size="3.6" text-anchor="middle" fill="#111" stroke="#111" stroke-width="0.15">10</text>
<text x="60.60" y="110.90" font-size="2.6" text-anchor="middle" fill="#111" stroke="#111" stroke-width="0.1">4</text>
<text x="38.35" y="116.80" font-size="3.3" text-anchor="middle" fill="#111" font-weight="bold" stroke="#111" stroke-width="0.12">MMP</text>
<path d="M71.70,106.30 L72.00,106.30 L72.30,106.30 L72.60,106.30 L72.90,106.30 L73.20,106.30 L73.50,106.30 L73.80,106.30 L74.10,106.30 L74.40,106.30 L74.70,106.30 L75.00,106.30 L75.30,106.30 L75.60,106.30 L75.90,106.30 L76.20,106.30 L76.50,106.30 L76.80,106.30 L77.10,106.30 L77.40,106.30 L77.70,106.30 L78.00,106.30 L78.30,106.30 L78.60,106.30 L78.90,106.30 L79.20,106.30 L79.50,106.30 L79.80,106.30 L80.10,106.30 L80.40,106.30 L80.70,106.30 L81.00,106.30 L81.30,106.30 L81.60,106.30 L81.90,106.30 L82.20,106.30 L82.50,106.30 L82.80,106.30 L83.10,106.30 L83.40,106.30 L83.70,106.30 L84.00,106.30 L84.30,106.30 L84.60,106.30 L84.90,106.30 L85.20,106.30 L85.50,106.30 L85.80,106.30 L86.10,106.30 L86.40,106.30 L86.70,106.30 L87.00,106.30 L87.30,106.30 L87.60,106.30 L87.90,106.30 L88.20,106.30 L88.50,106.30 L88.80,106.30 L89.10,106.30 L89.40,106.30 L89.70,106.30 L90.00,106.30 L90.30,106.30 L90.60,106.30 L90.90,106.30 L91.20,106.30 L91.50,106.29 L91.80,106.28 L92.10,106.24 L92.40,106.16 L92.70,105.99 L93.00,105.66 L93.30,105.04 L93.60,103.97 L93.90,102.25 L94.20,99.69 L94.50,96.17 L94.80,91.71 L95.10,86.56 L95.40,81.22 L95.70,76.36 L96.00,72.73 L96.30,72.50 L96.60,72.50 L96.90,73.76 L97.20,77.88 L97.50,82.98 L97.80,88.33 L98.10,93.29 L98.40,97.45 L98.70,100.65 L99.00,102.91 L99.30,104.39 L99.60,105.29 L99.90,105.80 L100.20,106.06 L100.50,106.20 L100.80,106.26 L101.10,106.28 L101.40,106.29 L101.70,106.30 L102.00,106.30 L102.30,106.30 L102.60,106.30 L102.90,106.30 L103.20,106.30 L103.50,106.30 L103.80,106.30 L104.10,106.30 L104.40,106.30 L104.70,106.30 L105.00,106.30 L105.30,106.30 L105.60,106.30 L105.90,106.30 L106.20,106.30 L106.50,106.30 L106.80,106.30 L107.10,106.30 L107.40,106.30 L107.70,106.30 L108.00,106.30 L108.30,106.30 L108.60,106.30 L108.90,106.30 L109.20,106.30 L109.50,106.30 L109.80,106.30" stroke="#959595" stroke-width="0.55" fill="none"/>
<path d="M71.70,106.05 L72.00,106.05 L72.30,106.05 L72.60,106.05 L72.90,106.05 L73.20,106.05 L73.50,106.05 L73.80,106.05 L74.10,106.05 L74.40,106.05 L74.70,106.05 L75.00,106.05 L75.30,106.05 L75.60,106.05 L75.90,106.05 L76.20,106.05 L76.50,106.05 L76.80,106.05 L77.10,106.05 L77.40,106.05 L77.70,106.05 L78.00,106.05 L78.30,106.05 L78.60,106.05 L78.90,106.05 L79.20,106.05 L79.50,106.05 L79.80,106.05 L80.10,106.05 L80.40,106.05 L80.70,106.05 L81.00,106.04 L81.30,106.04 L81.60,106.04 L81.90,106.04 L82.20,106.03 L82.50,106.03 L82.80,106.02 L83.10,106.01 L83.40,105.99 L83.70,105.98 L84.00,105.95 L84.30,105.92 L84.60,105.88 L84.90,105.84 L85.20,105.78 L85.50,105.72 L85.80,105.65 L86.10,105.56 L86.40,105.47 L86.70,105.37 L87.00,105.26 L87.30,105.14 L87.60,105.02 L87.90,104.90 L88.20,104.78 L88.50,104.66 L88.80,104.55 L89.10,104.45 L89.40,104.35 L89.70,104.26 L90.00,104.18 L90.30,104.11 L90.60,104.05 L90.90,103.99 L91.20,103.94 L91.50,103.88 L91.80,103.82 L92.10,103.76 L92.40,103.68 L92.70,103.58 L93.00,103.43 L93.30,103.19 L93.60,102.80 L93.90,102.14 L94.20,101.04 L94.50,99.33 L94.80,96.79 L95.10,93.33 L95.40,88.98 L95.70,84.03 L96.00,79.01 L96.30,74.64 L96.60,72.50 L96.90,72.50 L97.20,72.50 L97.50,74.68 L97.80,79.07 L98.10,84.11 L98.40,89.08 L98.70,93.47 L99.00,96.97 L99.30,99.56 L99.60,101.33 L99.90,102.49 L100.20,103.23 L100.50,103.70 L100.80,104.02 L101.10,104.27 L101.40,104.47 L101.70,104.64 L102.00,104.81 L102.30,104.95 L102.60,105.09 L102.90,105.22 L103.20,105.33 L103.50,105.44 L103.80,105.53 L104.10,105.61 L104.40,105.68 L104.70,105.74 L105.00,105.80 L105.30,105.84 L105.60,105.88 L105.90,105.91 L106.20,105.94 L106.50,105.96 L106.80,105.98 L107.10,105.99 L107.40,106.01 L107.70,106.02 L108.00,106.02 L108.30,106.03 L108.60,106.03 L108.90,106.04 L109.20,106.04 L109.50,106.04 L109.80,106.04" stroke="#000" stroke-width="1.0" fill="none" stroke-linejoin="round"/>
<line x1="71.20" y1="72.50" x2="110.30" y2="72.50" stroke="#5a5a5a" stroke-width="0.8"/>
<line x1="110.30" y1="72.50" x2="110.30" y2="106.60" stroke="#5a5a5a" stroke-width="0.8"/>
<line x1="71.20" y1="72.10" x2="71.20" y2="107.00" stroke="#404040" stroke-width="0.9"/>
<line x1="71.20" y1="106.60" x2="110.30" y2="106.60" stroke="#333" stroke-width="0.9"/>
<line x1="70.00" y1="81.03" x2="71.20" y2="81.03" stroke="#777" stroke-width="0.5"/>
<line x1="70.00" y1="89.55" x2="71.20" y2="89.55" stroke="#777" stroke-width="0.5"/>
<line x1="70.00" y1="98.07" x2="71.20" y2="98.07" stroke="#777" stroke-width="0.5"/>
<line x1="71.20" y1="106.60" x2="71.20" y2="107.90" stroke="#555" stroke-width="0.5"/>
<line x1="80.97" y1="106.60" x2="80.97" y2="107.90" stroke="#555" stroke-width="0.5"/>
<line x1="90.75" y1="106.60" x2="90.75" y2="107.90" stroke="#555" stroke-width="0.5"/>
<line x1="100.53" y1="106.60" x2="100.53" y2="107.90" stroke="#555" stroke-width="0.5"/>
<line x1="110.30" y1="106.60" x2="110.30" y2="107.90" stroke="#555" stroke-width="0.5"/>
<text x="68.95" y="72.30" font-size="3.1" text-anchor="middle" fill="#222" transform="rotate(-90 68.95 72.30)" stroke="#222" stroke-width="0.12">200</text>
<text x="68.60" y="106.40" font-size="3.1" text-anchor="middle" fill="#222" transform="rotate(-90 68.60 106.40)" stroke="#222" stroke-width="0.15">0</text>
<text x="64.55" y="90.55" font-size="3.9" text-anchor="middle" fill="#444" transform="rotate(-90 64.55 90.55)" stroke="#444" stroke-width="0.15">Counts</text>
<text x="70.90" y="113.10" font-size="3.6" text-anchor="middle" fill="#111" stroke="#111" stroke-width="0.15">10</text>
<text x="73.60" y="110.90" font-size="2.6" text-anchor="middle" fill="#111" stroke="#111" stroke-width="0.1">0</text>
<text x="80.67" y="113.10" font-size="3.6" text-anchor="middle" fill="#111" stroke="#111" stroke-width="0.15">10</text>
<text x="83.38" y="110.90" font-size="2.6" text-anchor="middle" fill="#111" stroke="#111" stroke-width="0.1">1</text>
<text x="90.45" y="113.10" font-size="3.6" text-anchor="middle" fill="#111" stroke="#111" stroke-width="0.15">10</text>
<text x="93.15" y="110.90" font-size="2.6" text-anchor="middle" fill="#111" stroke="#111" stroke-width="0.1">2</text>
<text x="100.23" y="113.10" font-size="3.6" text-anchor="middle" fill="#111" stroke="#111" stroke-width="0.15">10</text>
<text x="102.93" y="110.90" font-size="2.6" text-anchor="middle" fill="#111" stroke="#111" stroke-width="0.1">3</text>
<text x="110.00" y="113.10" font-size="3.6" text-anchor="middle" fill="#111" stroke="#111" stroke-width="0.15">10</text>
<text x="112.70" y="110.90" font-size="2.6" text-anchor="middle" fill="#111" stroke="#111" stroke-width="0.1">4</text>
<text x="90.75" y="116.80" font-size="3.3" text-anchor="middle" fill="#111" font-weight="bold" stroke="#111" stroke-width="0.12">MMP</text>
<path d="M126.10,106.30 L126.40,106.30 L126.70,106.30 L127.00,106.30 L127.30,106.30 L127.60,106.30 L127.90,106.30 L128.20,106.30 L128.50,106.30 L128.80,106.30 L129.10,106.30 L129.40,106.30 L129.70,106.30 L130.00,106.30 L130.30,106.30 L130.60,106.30 L130.90,106.30 L131.20,106.30 L131.50,106.30 L131.80,106.30 L132.10,106.30 L132.40,106.30 L132.70,106.30 L133.00,106.30 L133.30,106.30 L133.60,106.30 L133.90,106.30 L134.20,106.30 L134.50,106.30 L134.80,106.30 L135.10,106.30 L135.40,106.30 L135.70,106.30 L136.00,106.30 L136.30,106.30 L136.60,106.30 L136.90,106.30 L137.20,106.30 L137.50,106.30 L137.80,106.30 L138.10,106.30 L138.40,106.30 L138.70,106.30 L139.00,106.30 L139.30,106.30 L139.60,106.30 L139.90,106.30 L140.20,106.30 L140.50,106.30 L140.80,106.30 L141.10,106.30 L141.40,106.30 L141.70,106.30 L142.00,106.30 L142.30,106.30 L142.60,106.30 L142.90,106.30 L143.20,106.30 L143.50,106.30 L143.80,106.30 L144.10,106.30 L144.40,106.30 L144.70,106.30 L145.00,106.30 L145.30,106.30 L145.60,106.30 L145.90,106.30 L146.20,106.30 L146.50,106.29 L146.80,106.27 L147.10,106.23 L147.40,106.13 L147.70,105.92 L148.00,105.53 L148.30,104.81 L148.60,103.61 L148.90,101.73 L149.20,98.99 L149.50,95.33 L149.80,90.83 L150.10,85.80 L150.40,80.79 L150.70,76.47 L151.00,73.54 L151.30,72.50 L151.60,73.54 L151.90,76.47 L152.20,80.79 L152.50,85.80 L152.80,90.83 L153.10,95.33 L153.40,98.99 L153.70,101.73 L154.00,103.61 L154.30,104.81 L154.60,105.53 L154.90,105.92 L155.20,106.13 L155.50,106.23 L155.80,106.27 L156.10,106.29 L156.40,106.30 L156.70,106.30 L157.00,106.30 L157.30,106.30 L157.60,106.30 L157.90,106.30 L158.20,106.30 L158.50,106.30 L158.80,106.30 L159.10,106.30 L159.40,106.30 L159.70,106.30 L160.00,106.30 L160.30,106.30 L160.60,106.30 L160.90,106.30 L161.20,106.30 L161.50,106.30 L161.80,106.30 L162.10,106.30 L162.40,106.30 L162.70,106.30 L163.00,106.30 L163.30,106.30 L163.60,106.30" stroke="#959595" stroke-width="0.55" fill="none"/>
<path d="M126.10,106.05 L126.40,106.05 L126.70,106.05 L127.00,106.05 L127.30,106.05 L127.60,106.05 L127.90,106.05 L128.20,106.05 L128.50,106.05 L128.80,106.05 L129.10,106.05 L129.40,106.05 L129.70,106.05 L130.00,106.05 L130.30,106.05 L130.60,106.05 L130.90,106.05 L131.20,106.05 L131.50,106.05 L131.80,106.05 L132.10,106.05 L132.40,106.05 L132.70,106.05 L133.00,106.05 L133.30,106.05 L133.60,106.05 L133.90,106.05 L134.20,106.05 L134.50,106.05 L134.80,106.05 L135.10,106.05 L135.40,106.05 L135.70,106.05 L136.00,106.05 L136.30,106.05 L136.60,106.05 L136.90,106.04 L137.20,106.04 L137.50,106.04 L137.80,106.04 L138.10,106.03 L138.40,106.03 L138.70,106.02 L139.00,106.00 L139.30,105.98 L139.60,105.95 L139.90,105.92 L140.20,105.87 L140.50,105.81 L140.80,105.74 L141.10,105.66 L141.40,105.55 L141.70,105.43 L142.00,105.30 L142.30,105.15 L142.60,104.98 L142.90,104.81 L143.20,104.64 L143.50,104.46 L143.80,104.29 L144.10,104.14 L144.40,103.99 L144.70,103.87 L145.00,103.76 L145.30,103.68 L145.60,103.62 L145.90,103.57 L146.20,103.54 L146.50,103.51 L146.80,103.49 L147.10,103.46 L147.40,103.40 L147.70,103.29 L148.00,103.09 L148.30,102.70 L148.60,102.01 L148.90,100.87 L149.20,99.07 L149.50,96.47 L149.80,93.00 L150.10,88.77 L150.40,84.13 L150.70,79.62 L151.00,75.94 L151.30,73.73 L151.60,73.40 L151.90,75.03 L152.20,78.31 L152.50,82.64 L152.80,87.35 L153.10,91.81 L153.40,95.60 L153.70,98.55 L154.00,100.67 L154.30,102.10 L154.60,103.02 L154.90,103.61 L155.20,103.99 L155.50,104.26 L155.80,104.47 L156.10,104.64 L156.40,104.80 L156.70,104.95 L157.00,105.08 L157.30,105.21 L157.60,105.32 L157.90,105.42 L158.20,105.51 L158.50,105.59 L158.80,105.67 L159.10,105.73 L159.40,105.78 L159.70,105.83 L160.00,105.87 L160.30,105.90 L160.60,105.93 L160.90,105.95 L161.20,105.97 L161.50,105.99 L161.80,106.00 L162.10,106.01 L162.40,106.02 L162.70,106.03 L163.00,106.03 L163.30,106.04 L163.60,106.04" stroke="#000" stroke-width="1.0" fill="none" stroke-linejoin="round"/>
<line x1="125.60" y1="72.50" x2="164.30" y2="72.50" stroke="#5a5a5a" stroke-width="0.8"/>
<line x1="164.30" y1="72.50" x2="164.30" y2="106.60" stroke="#5a5a5a" stroke-width="0.8"/>
<line x1="125.60" y1="72.10" x2="125.60" y2="107.00" stroke="#404040" stroke-width="0.9"/>
<line x1="125.60" y1="106.60" x2="164.30" y2="106.60" stroke="#333" stroke-width="0.9"/>
<line x1="124.40" y1="81.03" x2="125.60" y2="81.03" stroke="#777" stroke-width="0.5"/>
<line x1="124.40" y1="89.55" x2="125.60" y2="89.55" stroke="#777" stroke-width="0.5"/>
<line x1="124.40" y1="98.07" x2="125.60" y2="98.07" stroke="#777" stroke-width="0.5"/>
<line x1="125.60" y1="106.60" x2="125.60" y2="107.90" stroke="#555" stroke-width="0.5"/>
<line x1="135.28" y1="106.60" x2="135.28" y2="107.90" stroke="#555" stroke-width="0.5"/>
<line x1="144.95" y1="106.60" x2="144.95" y2="107.90" stroke="#555" stroke-width="0.5"/>
<line x1="154.62" y1="106.60" x2="154.62" y2="107.90" stroke="#555" stroke-width="0.5"/>
<line x1="164.30" y1="106.60" x2="164.30" y2="107.90" stroke="#555" stroke-width="0.5"/>
<text x="123.35" y="72.30" font-size="3.1" text-anchor="middle" fill="#222" transform="rotate(-90 123.35 72.30)" stroke="#222" stroke-width="0.12">200</text>
<text x="123.00" y="106.40" font-size="3.1" text-anchor="middle" fill="#222" transform="rotate(-90 123.00 106.40)" stroke="#222" stroke-width="0.15">0</text>
<text x="118.95" y="90.55" font-size="3.9" text-anchor="middle" fill="#444" transform="rotate(-90 118.95 90.55)" stroke="#444" stroke-width="0.15">Counts</text>
<text x="125.30" y="113.10" font-size="3.6" text-anchor="middle" fill="#111" stroke="#111" stroke-width="0.15">10</text>
<text x="128.00" y="110.90" font-size="2.6" text-anchor="middle" fill="#111" stroke="#111" stroke-width="0.1">0</text>
<text x="134.97" y="113.10" font-size="3.6" text-anchor="middle" fill="#111" stroke="#111" stroke-width="0.15">10</text>
<text x="137.68" y="110.90" font-size="2.6" text-anchor="middle" fill="#111" stroke="#111" stroke-width="0.1">1</text>
<text x="144.65" y="113.10" font-size="3.6" text-anchor="middle" fill="#111" stroke="#111" stroke-width="0.15">10</text>
<text x="147.35" y="110.90" font-size="2.6" text-anchor="middle" fill="#111" stroke="#111" stroke-width="0.1">2</text>
<text x="154.32" y="113.10" font-size="3.6" text-anchor="middle" fill="#111" stroke="#111" stroke-width="0.15">10</text>
<text x="157.03" y="110.90" font-size="2.6" text-anchor="middle" fill="#111" stroke="#111" stroke-width="0.1">3</text>
<text x="164.00" y="113.10" font-size="3.6" text-anchor="middle" fill="#111" stroke="#111" stroke-width="0.15">10</text>
<text x="166.70" y="110.90" font-size="2.6" text-anchor="middle" fill="#111" stroke="#111" stroke-width="0.1">4</text>
<text x="144.95" y="116.80" font-size="3.3" text-anchor="middle" fill="#111" font-weight="bold" stroke="#111" stroke-width="0.12">MMP</text>
<path d="M177.70,106.30 L178.00,106.30 L178.30,106.30 L178.60,106.30 L178.90,106.30 L179.20,106.30 L179.50,106.30 L179.80,106.30 L180.10,106.30 L180.40,106.30 L180.70,106.30 L181.00,106.30 L181.30,106.30 L181.60,106.30 L181.90,106.30 L182.20,106.30 L182.50,106.30 L182.80,106.30 L183.10,106.30 L183.40,106.30 L183.70,106.30 L184.00,106.30 L184.30,106.30 L184.60,106.30 L184.90,106.30 L185.20,106.30 L185.50,106.30 L185.80,106.30 L186.10,106.30 L186.40,106.30 L186.70,106.30 L187.00,106.30 L187.30,106.30 L187.60,106.30 L187.90,106.30 L188.20,106.30 L188.50,106.30 L188.80,106.30 L189.10,106.30 L189.40,106.30 L189.70,106.30 L190.00,106.30 L190.30,106.30 L190.60,106.30 L190.90,106.30 L191.20,106.30 L191.50,106.30 L191.80,106.30 L192.10,106.30 L192.40,106.30 L192.70,106.30 L193.00,106.30 L193.30,106.30 L193.60,106.30 L193.90,106.30 L194.20,106.30 L194.50,106.30 L194.80,106.30 L195.10,106.30 L195.40,106.30 L195.70,106.30 L196.00,106.30 L196.30,106.30 L196.60,106.30 L196.90,106.30 L197.20,106.30 L197.50,106.30 L197.80,106.30 L198.10,106.30 L198.40,106.30 L198.70,106.30 L199.00,106.30 L199.30,106.29 L199.60,106.26 L199.90,106.19 L200.20,106.01 L200.50,105.60 L200.80,104.74 L201.10,103.14 L201.40,100.46 L201.70,96.43 L202.00,91.06 L202.30,84.77 L202.60,78.52 L202.90,73.54 L203.20,72.50 L203.50,72.50 L203.80,74.98 L204.10,80.53 L204.40,86.92 L204.70,92.98 L205.00,97.93 L205.30,101.50 L205.60,103.78 L205.90,105.09 L206.20,105.77 L206.50,106.09 L206.80,106.22 L207.10,106.27 L207.40,106.29 L207.70,106.30 L208.00,106.30 L208.30,106.30 L208.60,106.30 L208.90,106.30 L209.20,106.30 L209.50,106.30 L209.80,106.30 L210.10,106.30 L210.40,106.30 L210.70,106.30 L211.00,106.30 L211.30,106.30 L211.60,106.30 L211.90,106.30 L212.20,106.30 L212.50,106.30 L212.80,106.30 L213.10,106.30 L213.40,106.30 L213.70,106.30 L214.00,106.30 L214.30,106.30 L214.60,106.30 L214.90,106.30 L215.20,106.30 L215.50,106.30 L215.80,106.30 L216.10,106.30 L216.40,106.30 L216.70,106.30" stroke="#959595" stroke-width="0.55" fill="none"/>
<path d="M177.70,106.05 L178.00,106.05 L178.30,106.05 L178.60,106.05 L178.90,106.05 L179.20,106.05 L179.50,106.05 L179.80,106.05 L180.10,106.05 L180.40,106.05 L180.70,106.05 L181.00,106.05 L181.30,106.05 L181.60,106.05 L181.90,106.05 L182.20,106.05 L182.50,106.05 L182.80,106.05 L183.10,106.05 L183.40,106.05 L183.70,106.04 L184.00,106.04 L184.30,106.04 L184.60,106.04 L184.90,106.04 L185.20,106.03 L185.50,106.03 L185.80,106.02 L186.10,106.01 L186.40,106.01 L186.70,105.99 L187.00,105.98 L187.30,105.96 L187.60,105.94 L187.90,105.91 L188.20,105.88 L188.50,105.85 L188.80,105.81 L189.10,105.77 L189.40,105.71 L189.70,105.66 L190.00,105.60 L190.30,105.53 L190.60,105.46 L190.90,105.39 L191.20,105.31 L191.50,105.24 L191.80,105.16 L192.10,105.08 L192.40,105.00 L192.70,104.92 L193.00,104.84 L193.30,104.77 L193.60,104.70 L193.90,104.63 L194.20,104.57 L194.50,104.50 L194.80,104.44 L195.10,104.39 L195.40,104.33 L195.70,104.27 L196.00,104.21 L196.30,104.14 L196.60,104.07 L196.90,103.98 L197.20,103.87 L197.50,103.70 L197.80,103.44 L198.10,103.03 L198.40,102.38 L198.70,101.37 L199.00,99.87 L199.30,97.78 L199.60,95.05 L199.90,91.74 L200.20,88.06 L200.50,84.33 L200.80,81.02 L201.10,78.58 L201.40,77.39 L201.70,77.65 L202.00,79.31 L202.30,82.11 L202.60,85.64 L202.90,89.42 L203.20,93.05 L203.50,96.21 L203.80,98.77 L204.10,100.69 L204.40,102.06 L204.70,102.99 L205.00,103.61 L205.30,104.02 L205.60,104.29 L205.90,104.50 L206.20,104.67 L206.50,104.81 L206.80,104.94 L207.10,105.06 L207.40,105.17 L207.70,105.27 L208.00,105.36 L208.30,105.45 L208.60,105.53 L208.90,105.60 L209.20,105.66 L209.50,105.72 L209.80,105.77 L210.10,105.81 L210.40,105.85 L210.70,105.88 L211.00,105.91 L211.30,105.94 L211.60,105.96 L211.90,105.97 L212.20,105.99 L212.50,106.00 L212.80,106.01 L213.10,106.02 L213.40,106.02 L213.70,106.03 L214.00,106.03 L214.30,106.04 L214.60,106.04 L214.90,106.04 L215.20,106.04 L215.50,106.04 L215.80,106.04 L216.10,106.05 L216.40,106.05 L216.70,106.05" stroke="#000" stroke-width="1.0" fill="none" stroke-linejoin="round"/>
<line x1="177.20" y1="72.50" x2="217.20" y2="72.50" stroke="#5a5a5a" stroke-width="0.8"/>
<line x1="217.20" y1="72.50" x2="217.20" y2="106.60" stroke="#5a5a5a" stroke-width="0.8"/>
<line x1="177.20" y1="72.10" x2="177.20" y2="107.00" stroke="#404040" stroke-width="0.9"/>
<line x1="177.20" y1="106.60" x2="217.20" y2="106.60" stroke="#333" stroke-width="0.9"/>
<line x1="176.00" y1="81.03" x2="177.20" y2="81.03" stroke="#777" stroke-width="0.5"/>
<line x1="176.00" y1="89.55" x2="177.20" y2="89.55" stroke="#777" stroke-width="0.5"/>
<line x1="176.00" y1="98.07" x2="177.20" y2="98.07" stroke="#777" stroke-width="0.5"/>
<line x1="177.20" y1="106.60" x2="177.20" y2="107.90" stroke="#555" stroke-width="0.5"/>
<line x1="187.20" y1="106.60" x2="187.20" y2="107.90" stroke="#555" stroke-width="0.5"/>
<line x1="197.20" y1="106.60" x2="197.20" y2="107.90" stroke="#555" stroke-width="0.5"/>
<line x1="207.20" y1="106.60" x2="207.20" y2="107.90" stroke="#555" stroke-width="0.5"/>
<line x1="217.20" y1="106.60" x2="217.20" y2="107.90" stroke="#555" stroke-width="0.5"/>
<text x="174.95" y="72.30" font-size="3.1" text-anchor="middle" fill="#222" transform="rotate(-90 174.95 72.30)" stroke="#222" stroke-width="0.12">200</text>
<text x="174.60" y="106.40" font-size="3.1" text-anchor="middle" fill="#222" transform="rotate(-90 174.60 106.40)" stroke="#222" stroke-width="0.15">0</text>
<text x="170.55" y="90.55" font-size="3.9" text-anchor="middle" fill="#444" transform="rotate(-90 170.55 90.55)" stroke="#444" stroke-width="0.15">Counts</text>
<text x="176.90" y="113.10" font-size="3.6" text-anchor="middle" fill="#111" stroke="#111" stroke-width="0.15">10</text>
<text x="179.60" y="110.90" font-size="2.6" text-anchor="middle" fill="#111" stroke="#111" stroke-width="0.1">0</text>
<text x="186.90" y="113.10" font-size="3.6" text-anchor="middle" fill="#111" stroke="#111" stroke-width="0.15">10</text>
<text x="189.60" y="110.90" font-size="2.6" text-anchor="middle" fill="#111" stroke="#111" stroke-width="0.1">1</text>
<text x="196.90" y="113.10" font-size="3.6" text-anchor="middle" fill="#111" stroke="#111" stroke-width="0.15">10</text>
<text x="199.60" y="110.90" font-size="2.6" text-anchor="middle" fill="#111" stroke="#111" stroke-width="0.1">2</text>
<text x="206.90" y="113.10" font-size="3.6" text-anchor="middle" fill="#111" stroke="#111" stroke-width="0.15">10</text>
<text x="209.60" y="110.90" font-size="2.6" text-anchor="middle" fill="#111" stroke="#111" stroke-width="0.1">3</text>
<text x="216.90" y="113.10" font-size="3.6" text-anchor="middle" fill="#111" stroke="#111" stroke-width="0.15">10</text>
<text x="219.60" y="110.90" font-size="2.6" text-anchor="middle" fill="#111" stroke="#111" stroke-width="0.1">4</text>
<text x="197.20" y="116.80" font-size="3.3" text-anchor="middle" fill="#111" font-weight="bold" stroke="#111" stroke-width="0.12">MMP</text>
<path d="M19.00,158.70 L19.30,158.70 L19.60,158.70 L19.90,158.70 L20.20,158.70 L20.50,158.70 L20.80,158.70 L21.10,158.70 L21.40,158.70 L21.70,158.70 L22.00,158.70 L22.30,158.70 L22.60,158.70 L22.90,158.70 L23.20,158.70 L23.50,158.70 L23.80,158.70 L24.10,158.70 L24.40,158.70 L24.70,158.70 L25.00,158.70 L25.30,158.70 L25.60,158.70 L25.90,158.70 L26.20,158.70 L26.50,158.70 L26.80,158.70 L27.10,158.70 L27.40,158.70 L27.70,158.70 L28.00,158.70 L28.30,158.70 L28.60,158.70 L28.90,158.70 L29.20,158.70 L29.50,158.70 L29.80,158.70 L30.10,158.70 L30.40,158.70 L30.70,158.70 L31.00,158.70 L31.30,158.70 L31.60,158.70 L31.90,158.70 L32.20,158.70 L32.50,158.70 L32.80,158.70 L33.10,158.70 L33.40,158.70 L33.70,158.70 L34.00,158.70 L34.30,158.70 L34.60,158.70 L34.90,158.70 L35.20,158.70 L35.50,158.70 L35.80,158.70 L36.10,158.70 L36.40,158.70 L36.70,158.70 L37.00,158.70 L37.30,158.70 L37.60,158.70 L37.90,158.69 L38.20,158.68 L38.50,158.66 L38.80,158.60 L39.10,158.46 L39.40,158.20 L39.70,157.69 L40.00,156.79 L40.30,155.31 L40.60,153.05 L40.90,149.85 L41.20,145.69 L41.50,140.73 L41.80,135.38 L42.10,130.28 L42.40,126.16 L42.70,124.90 L43.00,124.90 L43.30,125.13 L43.60,128.76 L43.90,133.62 L44.20,138.96 L44.50,144.11 L44.80,148.57 L45.10,152.09 L45.40,154.65 L45.70,156.37 L46.00,157.44 L46.30,158.06 L46.60,158.39 L46.90,158.56 L47.20,158.64 L47.50,158.68 L47.80,158.69 L48.10,158.70 L48.40,158.70 L48.70,158.70 L49.00,158.70 L49.30,158.70 L49.60,158.70 L49.90,158.70 L50.20,158.70 L50.50,158.70 L50.80,158.70 L51.10,158.70 L51.40,158.70 L51.70,158.70 L52.00,158.70 L52.30,158.70 L52.60,158.70 L52.90,158.70 L53.20,158.70 L53.50,158.70 L53.80,158.70 L54.10,158.70 L54.40,158.70 L54.70,158.70 L55.00,158.70 L55.30,158.70 L55.60,158.70 L55.90,158.70 L56.20,158.70 L56.50,158.70 L56.80,158.70 L57.10,158.70 L57.40,158.70 L57.70,158.70" stroke="#959595" stroke-width="0.55" fill="none"/>
<path d="M19.00,158.45 L19.30,158.45 L19.60,158.45 L19.90,158.45 L20.20,158.45 L20.50,158.45 L20.80,158.45 L21.10,158.45 L21.40,158.45 L21.70,158.45 L22.00,158.45 L22.30,158.45 L22.60,158.45 L22.90,158.45 L23.20,158.45 L23.50,158.45 L23.80,158.45 L24.10,158.45 L24.40,158.45 L24.70,158.45 L25.00,158.45 L25.30,158.45 L25.60,158.45 L25.90,158.44 L26.20,158.44 L26.50,158.44 L26.80,158.44 L27.10,158.43 L27.40,158.43 L27.70,158.42 L28.00,158.41 L28.30,158.39 L28.60,158.37 L28.90,158.35 L29.20,158.32 L29.50,158.28 L29.80,158.23 L30.10,158.18 L30.40,158.12 L30.70,158.05 L31.00,157.97 L31.30,157.88 L31.60,157.79 L31.90,157.69 L32.20,157.59 L32.50,157.49 L32.80,157.39 L33.10,157.30 L33.40,157.22 L33.70,157.15 L34.00,157.09 L34.30,157.05 L34.60,157.03 L34.90,157.02 L35.20,157.03 L35.50,157.05 L35.80,157.08 L36.10,157.11 L36.40,157.15 L36.70,157.19 L37.00,157.23 L37.30,157.26 L37.60,157.27 L37.90,157.27 L38.20,157.25 L38.50,157.22 L38.80,157.16 L39.10,157.09 L39.40,156.99 L39.70,156.87 L40.00,156.74 L40.30,156.57 L40.60,156.35 L40.90,156.04 L41.20,155.58 L41.50,154.86 L41.80,153.71 L42.10,151.94 L42.40,149.36 L42.70,145.86 L43.00,141.48 L43.30,136.51 L43.60,131.47 L43.90,127.09 L44.20,124.90 L44.50,124.90 L44.80,124.90 L45.10,127.09 L45.40,131.47 L45.70,136.51 L46.00,141.49 L46.30,145.87 L46.60,149.37 L46.90,151.96 L47.20,153.73 L47.50,154.89 L47.80,155.63 L48.10,156.10 L48.40,156.42 L48.70,156.67 L49.00,156.87 L49.30,157.04 L49.60,157.21 L49.90,157.35 L50.20,157.49 L50.50,157.62 L50.80,157.73 L51.10,157.84 L51.40,157.93 L51.70,158.01 L52.00,158.08 L52.30,158.14 L52.60,158.20 L52.90,158.24 L53.20,158.28 L53.50,158.31 L53.80,158.34 L54.10,158.36 L54.40,158.38 L54.70,158.39 L55.00,158.41 L55.30,158.42 L55.60,158.42 L55.90,158.43 L56.20,158.43 L56.50,158.44 L56.80,158.44 L57.10,158.44 L57.40,158.44 L57.70,158.44" stroke="#000" stroke-width="1.0" fill="none" stroke-linejoin="round"/>
<line x1="18.50" y1="124.90" x2="58.20" y2="124.90" stroke="#5a5a5a" stroke-width="0.8"/>
<line x1="58.20" y1="124.90" x2="58.20" y2="159.00" stroke="#5a5a5a" stroke-width="0.8"/>
<line x1="18.50" y1="124.50" x2="18.50" y2="159.40" stroke="#404040" stroke-width="0.9"/>
<line x1="18.50" y1="159.00" x2="58.20" y2="159.00" stroke="#333" stroke-width="0.9"/>
<line x1="17.30" y1="133.43" x2="18.50" y2="133.43" stroke="#777" stroke-width="0.5"/>
<line x1="17.30" y1="141.95" x2="18.50" y2="141.95" stroke="#777" stroke-width="0.5"/>
<line x1="17.30" y1="150.47" x2="18.50" y2="150.47" stroke="#777" stroke-width="0.5"/>
<line x1="18.50" y1="159.00" x2="18.50" y2="160.30" stroke="#555" stroke-width="0.5"/>
<line x1="28.43" y1="159.00" x2="28.43" y2="160.30" stroke="#555" stroke-width="0.5"/>
<line x1="38.35" y1="159.00" x2="38.35" y2="160.30" stroke="#555" stroke-width="0.5"/>
<line x1="48.28" y1="159.00" x2="48.28" y2="160.30" stroke="#555" stroke-width="0.5"/>
<line x1="58.20" y1="159.00" x2="58.20" y2="160.30" stroke="#555" stroke-width="0.5"/>
<text x="16.25" y="124.70" font-size="3.1" text-anchor="middle" fill="#222" transform="rotate(-90 16.25 124.70)" stroke="#222" stroke-width="0.12">200</text>
<text x="15.90" y="158.80" font-size="3.1" text-anchor="middle" fill="#222" transform="rotate(-90 15.90 158.80)" stroke="#222" stroke-width="0.15">0</text>
<text x="18.20" y="165.50" font-size="3.6" text-anchor="middle" fill="#111" stroke="#111" stroke-width="0.15">10</text>
<text x="20.90" y="163.30" font-size="2.6" text-anchor="middle" fill="#111" stroke="#111" stroke-width="0.1">0</text>
<text x="28.12" y="165.50" font-size="3.6" text-anchor="middle" fill="#111" stroke="#111" stroke-width="0.15">10</text>
<text x="30.82" y="163.30" font-size="2.6" text-anchor="middle" fill="#111" stroke="#111" stroke-width="0.1">1</text>
<text x="38.05" y="165.50" font-size="3.6" text-anchor="middle" fill="#111" stroke="#111" stroke-width="0.15">10</text>
<text x="40.75" y="163.30" font-size="2.6" text-anchor="middle" fill="#111" stroke="#111" stroke-width="0.1">2</text>
<text x="47.98" y="165.50" font-size="3.6" text-anchor="middle" fill="#111" stroke="#111" stroke-width="0.15">10</text>
<text x="50.68" y="163.30" font-size="2.6" text-anchor="middle" fill="#111" stroke="#111" stroke-width="0.1">3</text>
<text x="57.90" y="165.50" font-size="3.6" text-anchor="middle" fill="#111" stroke="#111" stroke-width="0.15">10</text>
<text x="60.60" y="163.30" font-size="2.6" text-anchor="middle" fill="#111" stroke="#111" stroke-width="0.1">4</text>
<text x="38.35" y="169.20" font-size="3.3" text-anchor="middle" fill="#111" font-weight="bold" stroke="#111" stroke-width="0.12">MMP</text>
<path d="M71.70,158.70 L72.00,158.70 L72.30,158.70 L72.60,158.70 L72.90,158.70 L73.20,158.70 L73.50,158.70 L73.80,158.70 L74.10,158.70 L74.40,158.70 L74.70,158.70 L75.00,158.70 L75.30,158.70 L75.60,158.70 L75.90,158.70 L76.20,158.70 L76.50,158.70 L76.80,158.70 L77.10,158.70 L77.40,158.70 L77.70,158.70 L78.00,158.70 L78.30,158.70 L78.60,158.70 L78.90,158.70 L79.20,158.70 L79.50,158.70 L79.80,158.70 L80.10,158.70 L80.40,158.70 L80.70,158.70 L81.00,158.70 L81.30,158.70 L81.60,158.70 L81.90,158.70 L82.20,158.70 L82.50,158.70 L82.80,158.70 L83.10,158.70 L83.40,158.70 L83.70,158.70 L84.00,158.70 L84.30,158.70 L84.60,158.70 L84.90,158.70 L85.20,158.70 L85.50,158.70 L85.80,158.70 L86.10,158.70 L86.40,158.70 L86.70,158.70 L87.00,158.70 L87.30,158.70 L87.60,158.70 L87.90,158.70 L88.20,158.70 L88.50,158.70 L88.80,158.70 L89.10,158.70 L89.40,158.70 L89.70,158.70 L90.00,158.70 L90.30,158.70 L90.60,158.70 L90.90,158.70 L91.20,158.69 L91.50,158.67 L91.80,158.62 L92.10,158.52 L92.40,158.31 L92.70,157.89 L93.00,157.14 L93.30,155.88 L93.60,153.90 L93.90,151.02 L94.20,147.18 L94.50,142.45 L94.80,137.17 L95.10,131.91 L95.40,127.38 L95.70,124.90 L96.00,124.90 L96.30,124.90 L96.60,127.38 L96.90,131.91 L97.20,137.17 L97.50,142.45 L97.80,147.18 L98.10,151.02 L98.40,153.90 L98.70,155.88 L99.00,157.14 L99.30,157.89 L99.60,158.31 L99.90,158.52 L100.20,158.62 L100.50,158.67 L100.80,158.69 L101.10,158.70 L101.40,158.70 L101.70,158.70 L102.00,158.70 L102.30,158.70 L102.60,158.70 L102.90,158.70 L103.20,158.70 L103.50,158.70 L103.80,158.70 L104.10,158.70 L104.40,158.70 L104.70,158.70 L105.00,158.70 L105.30,158.70 L105.60,158.70 L105.90,158.70 L106.20,158.70 L106.50,158.70 L106.80,158.70 L107.10,158.70 L107.40,158.70 L107.70,158.70 L108.00,158.70 L108.30,158.70 L108.60,158.70 L108.90,158.70 L109.20,158.70 L109.50,158.70 L109.80,158.70" stroke="#959595" stroke-width="0.55" fill="none"/>
<path d="M71.70,158.45 L72.00,158.45 L72.30,158.45 L72.60,158.45 L72.90,158.45 L73.20,158.45 L73.50,158.45 L73.80,158.45 L74.10,158.45 L74.40,158.45 L74.70,158.45 L75.00,158.45 L75.30,158.45 L75.60,158.45 L75.90,158.45 L76.20,158.45 L76.50,158.45 L76.80,158.45 L77.10,158.45 L77.40,158.45 L77.70,158.45 L78.00,158.44 L78.30,158.44 L78.60,158.44 L78.90,158.44 L79.20,158.43 L79.50,158.42 L79.80,158.41 L80.10,158.40 L80.40,158.39 L80.70,158.36 L81.00,158.34 L81.30,158.30 L81.60,158.26 L81.90,158.22 L82.20,158.16 L82.50,158.09 L82.80,158.02 L83.10,157.94 L83.40,157.85 L83.70,157.75 L84.00,157.66 L84.30,157.56 L84.60,157.46 L84.90,157.36 L85.20,157.27 L85.50,157.20 L85.80,157.13 L86.10,157.08 L86.40,157.05 L86.70,157.03 L87.00,157.03 L87.30,157.04 L87.60,157.07 L87.90,157.10 L88.20,157.14 L88.50,157.19 L88.80,157.23 L89.10,157.26 L89.40,157.29 L89.70,157.30 L90.00,157.30 L90.30,157.28 L90.60,157.24 L90.90,157.18 L91.20,157.11 L91.50,157.01 L91.80,156.89 L92.10,156.75 L92.40,156.57 L92.70,156.35 L93.00,156.05 L93.30,155.59 L93.60,154.86 L93.90,153.71 L94.20,151.94 L94.50,149.36 L94.80,145.86 L95.10,141.48 L95.40,136.51 L95.70,131.47 L96.00,127.09 L96.30,124.90 L96.60,124.90 L96.90,124.90 L97.20,127.09 L97.50,131.47 L97.80,136.51 L98.10,141.49 L98.40,145.87 L98.70,149.37 L99.00,151.96 L99.30,153.73 L99.60,154.89 L99.90,155.63 L100.20,156.10 L100.50,156.42 L100.80,156.67 L101.10,156.87 L101.40,157.04 L101.70,157.21 L102.00,157.35 L102.30,157.49 L102.60,157.62 L102.90,157.73 L103.20,157.84 L103.50,157.93 L103.80,158.01 L104.10,158.08 L104.40,158.14 L104.70,158.20 L105.00,158.24 L105.30,158.28 L105.60,158.31 L105.90,158.34 L106.20,158.36 L106.50,158.38 L106.80,158.39 L107.10,158.41 L107.40,158.42 L107.70,158.42 L108.00,158.43 L108.30,158.43 L108.60,158.44 L108.90,158.44 L109.20,158.44 L109.50,158.44 L109.80,158.44" stroke="#000" stroke-width="1.0" fill="none" stroke-linejoin="round"/>
<line x1="71.20" y1="124.90" x2="110.30" y2="124.90" stroke="#5a5a5a" stroke-width="0.8"/>
<line x1="110.30" y1="124.90" x2="110.30" y2="159.00" stroke="#5a5a5a" stroke-width="0.8"/>
<line x1="71.20" y1="124.50" x2="71.20" y2="159.40" stroke="#404040" stroke-width="0.9"/>
<line x1="71.20" y1="159.00" x2="110.30" y2="159.00" stroke="#333" stroke-width="0.9"/>
<line x1="70.00" y1="133.43" x2="71.20" y2="133.43" stroke="#777" stroke-width="0.5"/>
<line x1="70.00" y1="141.95" x2="71.20" y2="141.95" stroke="#777" stroke-width="0.5"/>
<line x1="70.00" y1="150.47" x2="71.20" y2="150.47" stroke="#777" stroke-width="0.5"/>
<line x1="71.20" y1="159.00" x2="71.20" y2="160.30" stroke="#555" stroke-width="0.5"/>
<line x1="80.97" y1="159.00" x2="80.97" y2="160.30" stroke="#555" stroke-width="0.5"/>
<line x1="90.75" y1="159.00" x2="90.75" y2="160.30" stroke="#555" stroke-width="0.5"/>
<line x1="100.53" y1="159.00" x2="100.53" y2="160.30" stroke="#555" stroke-width="0.5"/>
<line x1="110.30" y1="159.00" x2="110.30" y2="160.30" stroke="#555" stroke-width="0.5"/>
<text x="68.95" y="124.70" font-size="3.1" text-anchor="middle" fill="#222" transform="rotate(-90 68.95 124.70)" stroke="#222" stroke-width="0.12">200</text>
<text x="68.60" y="158.80" font-size="3.1" text-anchor="middle" fill="#222" transform="rotate(-90 68.60 158.80)" stroke="#222" stroke-width="0.15">0</text>
<text x="64.55" y="142.95" font-size="3.9" text-anchor="middle" fill="#444" transform="rotate(-90 64.55 142.95)" stroke="#444" stroke-width="0.15">Counts</text>
<text x="70.90" y="165.50" font-size="3.6" text-anchor="middle" fill="#111" stroke="#111" stroke-width="0.15">10</text>
<text x="73.60" y="163.30" font-size="2.6" text-anchor="middle" fill="#111" stroke="#111" stroke-width="0.1">0</text>
<text x="80.67" y="165.50" font-size="3.6" text-anchor="middle" fill="#111" stroke="#111" stroke-width="0.15">10</text>
<text x="83.38" y="163.30" font-size="2.6" text-anchor="middle" fill="#111" stroke="#111" stroke-width="0.1">1</text>
<text x="90.45" y="165.50" font-size="3.6" text-anchor="middle" fill="#111" stroke="#111" stroke-width="0.15">10</text>
<text x="93.15" y="163.30" font-size="2.6" text-anchor="middle" fill="#111" stroke="#111" stroke-width="0.1">2</text>
<text x="100.23" y="165.50" font-size="3.6" text-anchor="middle" fill="#111" stroke="#111" stroke-width="0.15">10</text>
<text x="102.93" y="163.30" font-size="2.6" text-anchor="middle" fill="#111" stroke="#111" stroke-width="0.1">3</text>
<text x="110.00" y="165.50" font-size="3.6" text-anchor="middle" fill="#111" stroke="#111" stroke-width="0.15">10</text>
<text x="112.70" y="163.30" font-size="2.6" text-anchor="middle" fill="#111" stroke="#111" stroke-width="0.1">4</text>
<text x="90.75" y="169.20" font-size="3.3" text-anchor="middle" fill="#111" font-weight="bold" stroke="#111" stroke-width="0.12">MMP</text>
<path d="M126.10,158.70 L126.40,158.70 L126.70,158.70 L127.00,158.70 L127.30,158.70 L127.60,158.70 L127.90,158.70 L128.20,158.70 L128.50,158.70 L128.80,158.70 L129.10,158.70 L129.40,158.70 L129.70,158.70 L130.00,158.70 L130.30,158.70 L130.60,158.70 L130.90,158.70 L131.20,158.70 L131.50,158.70 L131.80,158.70 L132.10,158.70 L132.40,158.70 L132.70,158.70 L133.00,158.70 L133.30,158.70 L133.60,158.70 L133.90,158.70 L134.20,158.70 L134.50,158.70 L134.80,158.70 L135.10,158.70 L135.40,158.70 L135.70,158.70 L136.00,158.70 L136.30,158.70 L136.60,158.70 L136.90,158.70 L137.20,158.70 L137.50,158.70 L137.80,158.70 L138.10,158.70 L138.40,158.70 L138.70,158.70 L139.00,158.70 L139.30,158.70 L139.60,158.70 L139.90,158.70 L140.20,158.70 L140.50,158.70 L140.80,158.70 L141.10,158.70 L141.40,158.70 L141.70,158.70 L142.00,158.70 L142.30,158.70 L142.60,158.70 L142.90,158.70 L143.20,158.70 L143.50,158.70 L143.80,158.70 L144.10,158.70 L144.40,158.70 L144.70,158.70 L145.00,158.70 L145.30,158.70 L145.60,158.70 L145.90,158.70 L146.20,158.69 L146.50,158.68 L146.80,158.66 L147.10,158.59 L147.40,158.43 L147.70,158.09 L148.00,157.44 L148.30,156.27 L148.60,154.35 L148.90,151.48 L149.20,147.55 L149.50,142.73 L149.80,137.46 L150.10,132.48 L150.40,128.64 L150.70,126.72 L151.00,127.12 L151.30,129.74 L151.60,134.05 L151.90,139.22 L152.20,144.41 L152.50,148.97 L152.80,152.55 L153.10,155.09 L153.40,156.73 L153.70,157.71 L154.00,158.23 L154.30,158.50 L154.60,158.62 L154.90,158.67 L155.20,158.69 L155.50,158.70 L155.80,158.70 L156.10,158.70 L156.40,158.70 L156.70,158.70 L157.00,158.70 L157.30,158.70 L157.60,158.70 L157.90,158.70 L158.20,158.70 L158.50,158.70 L158.80,158.70 L159.10,158.70 L159.40,158.70 L159.70,158.70 L160.00,158.70 L160.30,158.70 L160.60,158.70 L160.90,158.70 L161.20,158.70 L161.50,158.70 L161.80,158.70 L162.10,158.70 L162.40,158.70 L162.70,158.70 L163.00,158.70 L163.30,158.70 L163.60,158.70" stroke="#959595" stroke-width="0.55" fill="none"/>
<path d="M126.10,158.45 L126.40,158.45 L126.70,158.45 L127.00,158.45 L127.30,158.45 L127.60,158.45 L127.90,158.45 L128.20,158.45 L128.50,158.45 L128.80,158.45 L129.10,158.45 L129.40,158.45 L129.70,158.45 L130.00,158.45 L130.30,158.45 L130.60,158.45 L130.90,158.45 L131.20,158.45 L131.50,158.45 L131.80,158.45 L132.10,158.45 L132.40,158.45 L132.70,158.45 L133.00,158.45 L133.30,158.45 L133.60,158.45 L133.90,158.45 L134.20,158.45 L134.50,158.45 L134.80,158.45 L135.10,158.45 L135.40,158.45 L135.70,158.44 L136.00,158.44 L136.30,158.43 L136.60,158.42 L136.90,158.40 L137.20,158.37 L137.50,158.32 L137.80,158.24 L138.10,158.12 L138.40,157.96 L138.70,157.74 L139.00,157.47 L139.30,157.12 L139.60,156.72 L139.90,156.28 L140.20,155.82 L140.50,155.36 L140.80,154.96 L141.10,154.63 L141.40,154.41 L141.70,154.32 L142.00,154.37 L142.30,154.55 L142.60,154.83 L142.90,155.18 L143.20,155.56 L143.50,155.92 L143.80,156.22 L144.10,156.44 L144.40,156.54 L144.70,156.50 L145.00,156.33 L145.30,156.03 L145.60,155.63 L145.90,155.14 L146.20,154.62 L146.50,154.11 L146.80,153.65 L147.10,153.28 L147.40,153.01 L147.70,152.83 L148.00,152.68 L148.30,152.45 L148.60,151.97 L148.90,151.04 L149.20,149.45 L149.50,147.04 L149.80,143.76 L150.10,139.79 L150.40,135.51 L150.70,131.53 L151.00,128.52 L151.30,127.04 L151.60,127.41 L151.90,129.58 L152.20,133.14 L152.50,137.50 L152.80,141.99 L153.10,146.09 L153.40,149.47 L153.70,152.02 L154.00,153.82 L154.30,155.00 L154.60,155.76 L154.90,156.25 L155.20,156.57 L155.50,156.80 L155.80,156.99 L156.10,157.15 L156.40,157.30 L156.70,157.44 L157.00,157.56 L157.30,157.68 L157.60,157.78 L157.90,157.88 L158.20,157.96 L158.50,158.04 L158.80,158.10 L159.10,158.16 L159.40,158.21 L159.70,158.25 L160.00,158.29 L160.30,158.32 L160.60,158.34 L160.90,158.37 L161.20,158.38 L161.50,158.40 L161.80,158.41 L162.10,158.42 L162.40,158.42 L162.70,158.43 L163.00,158.43 L163.30,158.44 L163.60,158.44" stroke="#000" stroke-width="1.0" fill="none" stroke-linejoin="round"/>
<line x1="125.60" y1="124.90" x2="164.30" y2="124.90" stroke="#5a5a5a" stroke-width="0.8"/>
<line x1="164.30" y1="124.90" x2="164.30" y2="159.00" stroke="#5a5a5a" stroke-width="0.8"/>
<line x1="125.60" y1="124.50" x2="125.60" y2="159.40" stroke="#404040" stroke-width="0.9"/>
<line x1="125.60" y1="159.00" x2="164.30" y2="159.00" stroke="#333" stroke-width="0.9"/>
<line x1="124.40" y1="133.43" x2="125.60" y2="133.43" stroke="#777" stroke-width="0.5"/>
<line x1="124.40" y1="141.95" x2="125.60" y2="141.95" stroke="#777" stroke-width="0.5"/>
<line x1="124.40" y1="150.47" x2="125.60" y2="150.47" stroke="#777" stroke-width="0.5"/>
<line x1="125.60" y1="159.00" x2="125.60" y2="160.30" stroke="#555" stroke-width="0.5"/>
<line x1="135.28" y1="159.00" x2="135.28" y2="160.30" stroke="#555" stroke-width="0.5"/>
<line x1="144.95" y1="159.00" x2="144.95" y2="160.30" stroke="#555" stroke-width="0.5"/>
<line x1="154.62" y1="159.00" x2="154.62" y2="160.30" stroke="#555" stroke-width="0.5"/>
<line x1="164.30" y1="159.00" x2="164.30" y2="160.30" stroke="#555" stroke-width="0.5"/>
<text x="123.35" y="124.70" font-size="3.1" text-anchor="middle" fill="#222" transform="rotate(-90 123.35 124.70)" stroke="#222" stroke-width="0.12">200</text>
<text x="123.00" y="158.80" font-size="3.1" text-anchor="middle" fill="#222" transform="rotate(-90 123.00 158.80)" stroke="#222" stroke-width="0.15">0</text>
<text x="118.95" y="142.95" font-size="3.9" text-anchor="middle" fill="#444" transform="rotate(-90 118.95 142.95)" stroke="#444" stroke-width="0.15">Counts</text>
<text x="125.30" y="165.50" font-size="3.6" text-anchor="middle" fill="#111" stroke="#111" stroke-width="0.15">10</text>
<text x="128.00" y="163.30" font-size="2.6" text-anchor="middle" fill="#111" stroke="#111" stroke-width="0.1">0</text>
<text x="134.97" y="165.50" font-size="3.6" text-anchor="middle" fill="#111" stroke="#111" stroke-width="0.15">10</text>
<text x="137.68" y="163.30" font-size="2.6" text-anchor="middle" fill="#111" stroke="#111" stroke-width="0.1">1</text>
<text x="144.65" y="165.50" font-size="3.6" text-anchor="middle" fill="#111" stroke="#111" stroke-width="0.15">10</text>
<text x="147.35" y="163.30" font-size="2.6" text-anchor="middle" fill="#111" stroke="#111" stroke-width="0.1">2</text>
<text x="154.32" y="165.50" font-size="3.6" text-anchor="middle" fill="#111" stroke="#111" stroke-width="0.15">10</text>
<text x="157.03" y="163.30" font-size="2.6" text-anchor="middle" fill="#111" stroke="#111" stroke-width="0.1">3</text>
<text x="164.00" y="165.50" font-size="3.6" text-anchor="middle" fill="#111" stroke="#111" stroke-width="0.15">10</text>
<text x="166.70" y="163.30" font-size="2.6" text-anchor="middle" fill="#111" stroke="#111" stroke-width="0.1">4</text>
<text x="144.95" y="169.20" font-size="3.3" text-anchor="middle" fill="#111" font-weight="bold" stroke="#111" stroke-width="0.12">MMP</text>
<path d="M177.70,158.70 L178.00,158.70 L178.30,158.70 L178.60,158.70 L178.90,158.70 L179.20,158.70 L179.50,158.70 L179.80,158.70 L180.10,158.70 L180.40,158.70 L180.70,158.70 L181.00,158.70 L181.30,158.70 L181.60,158.70 L181.90,158.70 L182.20,158.70 L182.50,158.70 L182.80,158.70 L183.10,158.70 L183.40,158.70 L183.70,158.70 L184.00,158.70 L184.30,158.70 L184.60,158.70 L184.90,158.70 L185.20,158.70 L185.50,158.70 L185.80,158.70 L186.10,158.70 L186.40,158.70 L186.70,158.70 L187.00,158.70 L187.30,158.70 L187.60,158.70 L187.90,158.70 L188.20,158.70 L188.50,158.70 L188.80,158.70 L189.10,158.70 L189.40,158.70 L189.70,158.70 L190.00,158.70 L190.30,158.70 L190.60,158.70 L190.90,158.70 L191.20,158.70 L191.50,158.70 L191.80,158.70 L192.10,158.70 L192.40,158.70 L192.70,158.70 L193.00,158.70 L193.30,158.70 L193.60,158.70 L193.90,158.70 L194.20,158.70 L194.50,158.70 L194.80,158.70 L195.10,158.70 L195.40,158.70 L195.70,158.70 L196.00,158.70 L196.30,158.70 L196.60,158.70 L196.90,158.70 L197.20,158.70 L197.50,158.70 L197.80,158.70 L198.10,158.69 L198.40,158.68 L198.70,158.64 L199.00,158.57 L199.30,158.41 L199.60,158.09 L199.90,157.50 L200.20,156.48 L200.50,154.84 L200.80,152.40 L201.10,149.05 L201.40,144.80 L201.70,139.90 L202.00,134.82 L202.30,130.19 L202.60,126.73 L202.90,125.02 L203.20,125.37 L203.50,127.71 L203.80,131.64 L204.10,136.49 L204.40,141.59 L204.70,146.31 L205.00,150.27 L205.30,153.31 L205.60,155.47 L205.90,156.88 L206.20,157.73 L206.50,158.22 L206.80,158.48 L207.10,158.60 L207.40,158.66 L207.70,158.68 L208.00,158.69 L208.30,158.70 L208.60,158.70 L208.90,158.70 L209.20,158.70 L209.50,158.70 L209.80,158.70 L210.10,158.70 L210.40,158.70 L210.70,158.70 L211.00,158.70 L211.30,158.70 L211.60,158.70 L211.90,158.70 L212.20,158.70 L212.50,158.70 L212.80,158.70 L213.10,158.70 L213.40,158.70 L213.70,158.70 L214.00,158.70 L214.30,158.70 L214.60,158.70 L214.90,158.70 L215.20,158.70 L215.50,158.70 L215.80,158.70 L216.10,158.70 L216.40,158.70 L216.70,158.70" stroke="#959595" stroke-width="0.55" fill="none"/>
<path d="M177.70,158.45 L178.00,158.45 L178.30,158.45 L178.60,158.45 L178.90,158.45 L179.20,158.45 L179.50,158.45 L179.80,158.45 L180.10,158.45 L180.40,158.45 L180.70,158.45 L181.00,158.45 L181.30,158.45 L181.60,158.45 L181.90,158.45 L182.20,158.45 L182.50,158.45 L182.80,158.45 L183.10,158.45 L183.40,158.45 L183.70,158.45 L184.00,158.45 L184.30,158.45 L184.60,158.44 L184.90,158.44 L185.20,158.44 L185.50,158.44 L185.80,158.43 L186.10,158.42 L186.40,158.41 L186.70,158.40 L187.00,158.39 L187.30,158.36 L187.60,158.34 L187.90,158.30 L188.20,158.26 L188.50,158.22 L188.80,158.16 L189.10,158.09 L189.40,158.02 L189.70,157.94 L190.00,157.85 L190.30,157.76 L190.60,157.66 L190.90,157.56 L191.20,157.46 L191.50,157.37 L191.80,157.28 L192.10,157.20 L192.40,157.14 L192.70,157.09 L193.00,157.06 L193.30,157.05 L193.60,157.05 L193.90,157.07 L194.20,157.10 L194.50,157.14 L194.80,157.19 L195.10,157.24 L195.40,157.30 L195.70,157.34 L196.00,157.38 L196.30,157.41 L196.60,157.43 L196.90,157.43 L197.20,157.41 L197.50,157.37 L197.80,157.31 L198.10,157.23 L198.40,157.13 L198.70,157.02 L199.00,156.88 L199.30,156.72 L199.60,156.51 L199.90,156.22 L200.20,155.79 L200.50,155.11 L200.80,154.03 L201.10,152.38 L201.40,149.97 L201.70,146.70 L202.00,142.62 L202.30,137.97 L202.60,133.27 L202.90,129.18 L203.20,126.37 L203.50,125.37 L203.80,126.37 L204.10,129.18 L204.40,133.27 L204.70,137.97 L205.00,142.62 L205.30,146.71 L205.60,149.98 L205.90,152.39 L206.20,154.05 L206.50,155.13 L206.80,155.81 L207.10,156.26 L207.40,156.56 L207.70,156.78 L208.00,156.97 L208.30,157.14 L208.60,157.29 L208.90,157.43 L209.20,157.56 L209.50,157.67 L209.80,157.78 L210.10,157.88 L210.40,157.96 L210.70,158.04 L211.00,158.11 L211.30,158.16 L211.60,158.21 L211.90,158.26 L212.20,158.29 L212.50,158.32 L212.80,158.35 L213.10,158.37 L213.40,158.38 L213.70,158.40 L214.00,158.41 L214.30,158.42 L214.60,158.42 L214.90,158.43 L215.20,158.43 L215.50,158.44 L215.80,158.44 L216.10,158.44 L216.40,158.44 L216.70,158.44" stroke="#000" stroke-width="1.0" fill="none" stroke-linejoin="round"/>
<line x1="177.20" y1="124.90" x2="217.20" y2="124.90" stroke="#5a5a5a" stroke-width="0.8"/>
<line x1="217.20" y1="124.90" x2="217.20" y2="159.00" stroke="#5a5a5a" stroke-width="0.8"/>
<line x1="177.20" y1="124.50" x2="177.20" y2="159.40" stroke="#404040" stroke-width="0.9"/>
<line x1="177.20" y1="159.00" x2="217.20" y2="159.00" stroke="#333" stroke-width="0.9"/>
<line x1="176.00" y1="133.43" x2="177.20" y2="133.43" stroke="#777" stroke-width="0.5"/>
<line x1="176.00" y1="141.95" x2="177.20" y2="141.95" stroke="#777" stroke-width="0.5"/>
<line x1="176.00" y1="150.47" x2="177.20" y2="150.47" stroke="#777" stroke-width="0.5"/>
<line x1="177.20" y1="159.00" x2="177.20" y2="160.30" stroke="#555" stroke-width="0.5"/>
<line x1="187.20" y1="159.00" x2="187.20" y2="160.30" stroke="#555" stroke-width="0.5"/>
<line x1="197.20" y1="159.00" x2="197.20" y2="160.30" stroke="#555" stroke-width="0.5"/>
<line x1="207.20" y1="159.00" x2="207.20" y2="160.30" stroke="#555" stroke-width="0.5"/>
<line x1="217.20" y1="159.00" x2="217.20" y2="160.30" stroke="#555" stroke-width="0.5"/>
<text x="174.95" y="124.70" font-size="3.1" text-anchor="middle" fill="#222" transform="rotate(-90 174.95 124.70)" stroke="#222" stroke-width="0.12">200</text>
<text x="174.60" y="158.80" font-size="3.1" text-anchor="middle" fill="#222" transform="rotate(-90 174.60 158.80)" stroke="#222" stroke-width="0.15">0</text>
<text x="170.55" y="142.95" font-size="3.9" text-anchor="middle" fill="#444" transform="rotate(-90 170.55 142.95)" stroke="#444" stroke-width="0.15">Counts</text>
<text x="176.90" y="165.50" font-size="3.6" text-anchor="middle" fill="#111" stroke="#111" stroke-width="0.15">10</text>
<text x="179.60" y="163.30" font-size="2.6" text-anchor="middle" fill="#111" stroke="#111" stroke-width="0.1">0</text>
<text x="186.90" y="165.50" font-size="3.6" text-anchor="middle" fill="#111" stroke="#111" stroke-width="0.15">10</text>
<text x="189.60" y="163.30" font-size="2.6" text-anchor="middle" fill="#111" stroke="#111" stroke-width="0.1">1</text>
<text x="196.90" y="165.50" font-size="3.6" text-anchor="middle" fill="#111" stroke="#111" stroke-width="0.15">10</text>
<text x="199.60" y="163.30" font-size="2.6" text-anchor="middle" fill="#111" stroke="#111" stroke-width="0.1">2</text>
<text x="206.90" y="165.50" font-size="3.6" text-anchor="middle" fill="#111" stroke="#111" stroke-width="0.15">10</text>
<text x="209.60" y="163.30" font-size="2.6" text-anchor="middle" fill="#111" stroke="#111" stroke-width="0.1">3</text>
<text x="216.90" y="165.50" font-size="3.6" text-anchor="middle" fill="#111" stroke="#111" stroke-width="0.15">10</text>
<text x="219.60" y="163.30" font-size="2.6" text-anchor="middle" fill="#111" stroke="#111" stroke-width="0.1">4</text>
<text x="197.20" y="169.20" font-size="3.3" text-anchor="middle" fill="#111" font-weight="bold" stroke="#111" stroke-width="0.12">MMP</text>
<path d="M286.50,57.20 L286.80,57.20 L287.10,57.20 L287.40,57.20 L287.70,57.20 L288.00,57.20 L288.30,57.20 L288.60,57.20 L288.90,57.20 L289.20,57.20 L289.50,57.20 L289.80,57.20 L290.10,57.20 L290.40,57.20 L290.70,57.20 L291.00,57.20 L291.30,57.20 L291.60,57.20 L291.90,57.20 L292.20,57.20 L292.50,57.20 L292.80,57.20 L293.10,57.20 L293.40,57.20 L293.70,57.20 L294.00,57.20 L294.30,57.20 L294.60,57.20 L294.90,57.20 L295.20,57.20 L295.50,57.20 L295.80,57.20 L296.10,57.20 L296.40,57.20 L296.70,57.20 L297.00,57.20 L297.30,57.20 L297.60,57.20 L297.90,57.20 L298.20,57.20 L298.50,57.20 L298.80,57.20 L299.10,57.20 L299.40,57.20 L299.70,57.20 L300.00,57.20 L300.30,57.20 L300.60,57.20 L300.90,57.20 L301.20,57.20 L301.50,57.20 L301.80,57.20 L302.10,57.20 L302.40,57.20 L302.70,57.20 L303.00,57.20 L303.30,57.20 L303.60,57.20 L303.90,57.20 L304.20,57.19 L304.50,57.18 L304.80,57.12 L305.10,56.98 L305.40,56.63 L305.70,55.86 L306.00,54.37 L306.30,51.79 L306.60,47.84 L306.90,42.54 L307.20,36.42 L307.50,30.54 L307.80,26.24 L308.10,24.66 L308.40,26.24 L308.70,30.54 L309.00,36.42 L309.30,42.54 L309.60,47.84 L309.90,51.79 L310.20,54.37 L310.50,55.86 L310.80,56.63 L311.10,56.98 L311.40,57.12 L311.70,57.18 L312.00,57.19 L312.30,57.20 L312.60,57.20 L312.90,57.20 L313.20,57.20 L313.50,57.20 L313.80,57.20 L314.10,57.20 L314.40,57.20 L314.70,57.20 L315.00,57.20 L315.30,57.20 L315.60,57.20 L315.90,57.20 L316.20,57.20 L316.50,57.20 L316.80,57.20 L317.10,57.20 L317.40,57.20 L317.70,57.20 L318.00,57.20 L318.30,57.20 L318.60,57.20 L318.90,57.20 L319.20,57.20 L319.50,57.20 L319.80,57.20 L320.10,57.20 L320.40,57.20 L320.70,57.20 L321.00,57.20 L321.30,57.20 L321.60,57.20 L321.90,57.20 L322.20,57.20 L322.50,57.20 L322.80,57.20" stroke="#959595" stroke-width="0.55" fill="none"/>
<path d="M286.50,56.95 L286.80,56.95 L287.10,56.95 L287.40,56.95 L287.70,56.95 L288.00,56.95 L288.30,56.95 L288.60,56.95 L288.90,56.95 L289.20,56.95 L289.50,56.95 L289.80,56.95 L290.10,56.95 L290.40,56.95 L290.70,56.95 L291.00,56.95 L291.30,56.95 L291.60,56.95 L291.90,56.95 L292.20,56.95 L292.50,56.95 L292.80,56.95 L293.10,56.95 L293.40,56.95 L293.70,56.95 L294.00,56.95 L294.30,56.95 L294.60,56.95 L294.90,56.95 L295.20,56.95 L295.50,56.95 L295.80,56.94 L296.10,56.94 L296.40,56.94 L296.70,56.94 L297.00,56.94 L297.30,56.94 L297.60,56.93 L297.90,56.93 L298.20,56.92 L298.50,56.91 L298.80,56.89 L299.10,56.87 L299.40,56.84 L299.70,56.79 L300.00,56.71 L300.30,56.61 L300.60,56.46 L300.90,56.27 L301.20,56.01 L301.50,55.69 L301.80,55.32 L302.10,54.90 L302.40,54.45 L302.70,54.00 L303.00,53.58 L303.30,53.23 L303.60,52.96 L303.90,52.81 L304.20,52.76 L304.50,52.81 L304.80,52.90 L305.10,52.99 L305.40,52.98 L305.70,52.75 L306.00,52.13 L306.30,50.91 L306.60,48.92 L306.90,46.05 L307.20,42.35 L307.50,38.12 L307.80,33.89 L308.10,30.38 L308.40,28.24 L308.70,27.93 L309.00,29.52 L309.30,32.68 L309.60,36.80 L309.90,41.17 L310.20,45.21 L310.50,48.53 L310.80,51.02 L311.10,52.74 L311.40,53.85 L311.70,54.54 L312.00,54.98 L312.30,55.27 L312.60,55.48 L312.90,55.65 L313.20,55.80 L313.50,55.94 L313.80,56.07 L314.10,56.18 L314.40,56.29 L314.70,56.39 L315.00,56.47 L315.30,56.55 L315.60,56.61 L315.90,56.67 L316.20,56.72 L316.50,56.76 L316.80,56.80 L317.10,56.83 L317.40,56.85 L317.70,56.87 L318.00,56.89 L318.30,56.90 L318.60,56.91 L318.90,56.92 L319.20,56.93 L319.50,56.93 L319.80,56.94 L320.10,56.94 L320.40,56.94 L320.70,56.94 L321.00,56.94 L321.30,56.94 L321.60,56.95 L321.90,56.95 L322.20,56.95 L322.50,56.95 L322.80,56.95" stroke="#000" stroke-width="1.0" fill="none" stroke-linejoin="round"/>
<line x1="286.00" y1="23.30" x2="323.40" y2="23.30" stroke="#5a5a5a" stroke-width="0.8"/>
<line x1="323.40" y1="23.30" x2="323.40" y2="57.50" stroke="#5a5a5a" stroke-width="0.8"/>
<line x1="286.00" y1="22.90" x2="286.00" y2="57.90" stroke="#404040" stroke-width="0.9"/>
<line x1="286.00" y1="57.50" x2="323.40" y2="57.50" stroke="#333" stroke-width="0.9"/>
<line x1="284.80" y1="31.85" x2="286.00" y2="31.85" stroke="#777" stroke-width="0.5"/>
<line x1="284.80" y1="40.40" x2="286.00" y2="40.40" stroke="#777" stroke-width="0.5"/>
<line x1="284.80" y1="48.95" x2="286.00" y2="48.95" stroke="#777" stroke-width="0.5"/>
<line x1="286.00" y1="57.50" x2="286.00" y2="58.80" stroke="#555" stroke-width="0.5"/>
<line x1="295.35" y1="57.50" x2="295.35" y2="58.80" stroke="#555" stroke-width="0.5"/>
<line x1="304.70" y1="57.50" x2="304.70" y2="58.80" stroke="#555" stroke-width="0.5"/>
<line x1="314.05" y1="57.50" x2="314.05" y2="58.80" stroke="#555" stroke-width="0.5"/>
<line x1="323.40" y1="57.50" x2="323.40" y2="58.80" stroke="#555" stroke-width="0.5"/>
<text x="283.75" y="23.10" font-size="3.1" text-anchor="middle" fill="#222" transform="rotate(-90 283.75 23.10)" stroke="#222" stroke-width="0.12">400</text>
<text x="283.40" y="57.30" font-size="3.1" text-anchor="middle" fill="#222" transform="rotate(-90 283.40 57.30)" stroke="#222" stroke-width="0.15">0</text>
<text x="285.70" y="64.60" font-size="3.6" text-anchor="middle" fill="#111" stroke="#111" stroke-width="0.15">10</text>
<text x="288.40" y="62.40" font-size="2.6" text-anchor="middle" fill="#111" stroke="#111" stroke-width="0.1">0</text>
<text x="295.05" y="64.60" font-size="3.6" text-anchor="middle" fill="#111" stroke="#111" stroke-width="0.15">10</text>
<text x="297.75" y="62.40" font-size="2.6" text-anchor="middle" fill="#111" stroke="#111" stroke-width="0.1">1</text>
<text x="304.40" y="64.60" font-size="3.6" text-anchor="middle" fill="#111" stroke="#111" stroke-width="0.15">10</text>
<text x="307.10" y="62.40" font-size="2.6" text-anchor="middle" fill="#111" stroke="#111" stroke-width="0.1">2</text>
<text x="313.75" y="64.60" font-size="3.6" text-anchor="middle" fill="#111" stroke="#111" stroke-width="0.15">10</text>
<text x="316.45" y="62.40" font-size="2.6" text-anchor="middle" fill="#111" stroke="#111" stroke-width="0.1">3</text>
<text x="323.10" y="64.60" font-size="3.6" text-anchor="middle" fill="#111" stroke="#111" stroke-width="0.15">10</text>
<text x="325.80" y="62.40" font-size="2.6" text-anchor="middle" fill="#111" stroke="#111" stroke-width="0.1">4</text>
<text x="304.40" y="68.50" font-size="3.3" text-anchor="middle" fill="#333" stroke="#333" stroke-width="0.1" textLength="18.8" lengthAdjust="spacingAndGlyphs">CytochromeC</text>
<path d="M340.00,57.20 L340.30,57.20 L340.60,57.20 L340.90,57.20 L341.20,57.20 L341.50,57.20 L341.80,57.20 L342.10,57.20 L342.40,57.20 L342.70,57.20 L343.00,57.20 L343.30,57.20 L343.60,57.20 L343.90,57.20 L344.20,57.20 L344.50,57.20 L344.80,57.20 L345.10,57.20 L345.40,57.20 L345.70,57.20 L346.00,57.20 L346.30,57.20 L346.60,57.20 L346.90,57.20 L347.20,57.20 L347.50,57.20 L347.80,57.20 L348.10,57.20 L348.40,57.20 L348.70,57.20 L349.00,57.20 L349.30,57.20 L349.60,57.20 L349.90,57.20 L350.20,57.20 L350.50,57.20 L350.80,57.20 L351.10,57.20 L351.40,57.20 L351.70,57.20 L352.00,57.20 L352.30,57.20 L352.60,57.20 L352.90,57.20 L353.20,57.20 L353.50,57.20 L353.80,57.20 L354.10,57.20 L354.40,57.20 L354.70,57.20 L355.00,57.20 L355.30,57.20 L355.60,57.20 L355.90,57.20 L356.20,57.20 L356.50,57.20 L356.80,57.20 L357.10,57.20 L357.40,57.20 L357.70,57.20 L358.00,57.20 L358.30,57.19 L358.60,57.18 L358.90,57.12 L359.20,56.98 L359.50,56.64 L359.80,55.90 L360.10,54.46 L360.40,51.96 L360.70,48.14 L361.00,43.00 L361.30,37.07 L361.60,31.37 L361.90,27.21 L362.20,25.67 L362.50,27.21 L362.80,31.37 L363.10,37.07 L363.40,43.00 L363.70,48.14 L364.00,51.96 L364.30,54.46 L364.60,55.90 L364.90,56.64 L365.20,56.98 L365.50,57.12 L365.80,57.18 L366.10,57.19 L366.40,57.20 L366.70,57.20 L367.00,57.20 L367.30,57.20 L367.60,57.20 L367.90,57.20 L368.20,57.20 L368.50,57.20 L368.80,57.20 L369.10,57.20 L369.40,57.20 L369.70,57.20 L370.00,57.20 L370.30,57.20 L370.60,57.20 L370.90,57.20 L371.20,57.20 L371.50,57.20 L371.80,57.20 L372.10,57.20 L372.40,57.20 L372.70,57.20 L373.00,57.20 L373.30,57.20 L373.60,57.20 L373.90,57.20 L374.20,57.20 L374.50,57.20 L374.80,57.20 L375.10,57.20 L375.40,57.20 L375.70,57.20 L376.00,57.20" stroke="#959595" stroke-width="0.55" fill="none"/>
<path d="M340.00,56.95 L340.30,56.95 L340.60,56.95 L340.90,56.95 L341.20,56.95 L341.50,56.95 L341.80,56.95 L342.10,56.95 L342.40,56.95 L342.70,56.95 L343.00,56.95 L343.30,56.95 L343.60,56.95 L343.90,56.95 L344.20,56.95 L344.50,56.95 L344.80,56.95 L345.10,56.95 L345.40,56.95 L345.70,56.95 L346.00,56.95 L346.30,56.95 L346.60,56.95 L346.90,56.95 L347.20,56.95 L347.50,56.95 L347.80,56.95 L348.10,56.95 L348.40,56.95 L348.70,56.95 L349.00,56.95 L349.30,56.95 L349.60,56.95 L349.90,56.94 L350.20,56.94 L350.50,56.94 L350.80,56.94 L351.10,56.94 L351.40,56.94 L351.70,56.93 L352.00,56.93 L352.30,56.92 L352.60,56.91 L352.90,56.89 L353.20,56.87 L353.50,56.83 L353.80,56.78 L354.10,56.71 L354.40,56.61 L354.70,56.46 L355.00,56.26 L355.30,56.01 L355.60,55.69 L355.90,55.31 L356.20,54.89 L356.50,54.44 L356.80,53.99 L357.10,53.58 L357.40,53.23 L357.70,52.97 L358.00,52.82 L358.30,52.77 L358.60,52.81 L358.90,52.90 L359.20,52.98 L359.50,52.93 L359.80,52.63 L360.10,51.89 L360.40,50.54 L360.70,48.39 L361.00,45.39 L361.30,41.67 L361.60,37.59 L361.90,33.72 L362.20,30.75 L362.50,29.27 L362.80,29.59 L363.10,31.65 L363.40,35.05 L363.70,39.13 L364.00,43.25 L364.30,46.90 L364.60,49.80 L364.90,51.92 L365.20,53.34 L365.50,54.25 L365.80,54.81 L366.10,55.17 L366.40,55.42 L366.70,55.60 L367.00,55.76 L367.30,55.90 L367.60,56.03 L367.90,56.15 L368.20,56.25 L368.50,56.35 L368.80,56.44 L369.10,56.52 L369.40,56.59 L369.70,56.65 L370.00,56.70 L370.30,56.75 L370.60,56.78 L370.90,56.82 L371.20,56.84 L371.50,56.86 L371.80,56.88 L372.10,56.90 L372.40,56.91 L372.70,56.92 L373.00,56.92 L373.30,56.93 L373.60,56.93 L373.90,56.94 L374.20,56.94 L374.50,56.94 L374.80,56.94 L375.10,56.94 L375.40,56.94 L375.70,56.95 L376.00,56.95" stroke="#000" stroke-width="1.0" fill="none" stroke-linejoin="round"/>
<line x1="339.50" y1="23.30" x2="376.60" y2="23.30" stroke="#5a5a5a" stroke-width="0.8"/>
<line x1="376.60" y1="23.30" x2="376.60" y2="57.50" stroke="#5a5a5a" stroke-width="0.8"/>
<line x1="339.50" y1="22.90" x2="339.50" y2="57.90" stroke="#404040" stroke-width="0.9"/>
<line x1="339.50" y1="57.50" x2="376.60" y2="57.50" stroke="#333" stroke-width="0.9"/>
<line x1="338.30" y1="31.85" x2="339.50" y2="31.85" stroke="#777" stroke-width="0.5"/>
<line x1="338.30" y1="40.40" x2="339.50" y2="40.40" stroke="#777" stroke-width="0.5"/>
<line x1="338.30" y1="48.95" x2="339.50" y2="48.95" stroke="#777" stroke-width="0.5"/>
<line x1="339.50" y1="57.50" x2="339.50" y2="58.80" stroke="#555" stroke-width="0.5"/>
<line x1="348.77" y1="57.50" x2="348.77" y2="58.80" stroke="#555" stroke-width="0.5"/>
<line x1="358.05" y1="57.50" x2="358.05" y2="58.80" stroke="#555" stroke-width="0.5"/>
<line x1="367.33" y1="57.50" x2="367.33" y2="58.80" stroke="#555" stroke-width="0.5"/>
<line x1="376.60" y1="57.50" x2="376.60" y2="58.80" stroke="#555" stroke-width="0.5"/>
<text x="337.25" y="23.10" font-size="3.1" text-anchor="middle" fill="#222" transform="rotate(-90 337.25 23.10)" stroke="#222" stroke-width="0.12">400</text>
<text x="336.90" y="57.30" font-size="3.1" text-anchor="middle" fill="#222" transform="rotate(-90 336.90 57.30)" stroke="#222" stroke-width="0.15">0</text>
<text x="332.85" y="41.40" font-size="3.9" text-anchor="middle" fill="#444" transform="rotate(-90 332.85 41.40)" stroke="#444" stroke-width="0.15">Counts</text>
<text x="339.20" y="64.60" font-size="3.6" text-anchor="middle" fill="#111" stroke="#111" stroke-width="0.15">10</text>
<text x="341.90" y="62.40" font-size="2.6" text-anchor="middle" fill="#111" stroke="#111" stroke-width="0.1">0</text>
<text x="348.47" y="64.60" font-size="3.6" text-anchor="middle" fill="#111" stroke="#111" stroke-width="0.15">10</text>
<text x="351.17" y="62.40" font-size="2.6" text-anchor="middle" fill="#111" stroke="#111" stroke-width="0.1">1</text>
<text x="357.75" y="64.60" font-size="3.6" text-anchor="middle" fill="#111" stroke="#111" stroke-width="0.15">10</text>
<text x="360.45" y="62.40" font-size="2.6" text-anchor="middle" fill="#111" stroke="#111" stroke-width="0.1">2</text>
<text x="367.03" y="64.60" font-size="3.6" text-anchor="middle" fill="#111" stroke="#111" stroke-width="0.15">10</text>
<text x="369.73" y="62.40" font-size="2.6" text-anchor="middle" fill="#111" stroke="#111" stroke-width="0.1">3</text>
<text x="376.30" y="64.60" font-size="3.6" text-anchor="middle" fill="#111" stroke="#111" stroke-width="0.15">10</text>
<text x="379.00" y="62.40" font-size="2.6" text-anchor="middle" fill="#111" stroke="#111" stroke-width="0.1">4</text>
<text x="357.75" y="68.50" font-size="3.3" text-anchor="middle" fill="#333" stroke="#333" stroke-width="0.1" textLength="18.8" lengthAdjust="spacingAndGlyphs">CytochromeC</text>
<path d="M393.60,57.20 L393.90,57.20 L394.20,57.20 L394.50,57.20 L394.80,57.20 L395.10,57.20 L395.40,57.20 L395.70,57.20 L396.00,57.20 L396.30,57.20 L396.60,57.20 L396.90,57.20 L397.20,57.20 L397.50,57.20 L397.80,57.20 L398.10,57.20 L398.40,57.20 L398.70,57.20 L399.00,57.20 L399.30,57.20 L399.60,57.20 L399.90,57.20 L400.20,57.20 L400.50,57.20 L400.80,57.20 L401.10,57.20 L401.40,57.20 L401.70,57.20 L402.00,57.20 L402.30,57.20 L402.60,57.20 L402.90,57.20 L403.20,57.20 L403.50,57.20 L403.80,57.20 L404.10,57.20 L404.40,57.20 L404.70,57.20 L405.00,57.20 L405.30,57.20 L405.60,57.20 L405.90,57.20 L406.20,57.20 L406.50,57.20 L406.80,57.20 L407.10,57.20 L407.40,57.20 L407.70,57.20 L408.00,57.20 L408.30,57.20 L408.60,57.20 L408.90,57.20 L409.20,57.20 L409.50,57.20 L409.80,57.19 L410.10,57.17 L410.40,57.13 L410.70,57.04 L411.00,56.83 L411.30,56.43 L411.60,55.70 L411.90,54.46 L412.20,52.52 L412.50,49.75 L412.80,46.12 L413.10,41.81 L413.40,37.22 L413.70,32.98 L414.00,29.76 L414.30,28.16 L414.60,28.48 L414.90,30.68 L415.20,34.31 L415.50,38.75 L415.80,43.30 L416.10,47.42 L416.40,50.77 L416.70,53.25 L417.00,54.94 L417.30,55.99 L417.60,56.59 L417.90,56.92 L418.20,57.08 L418.50,57.15 L418.80,57.18 L419.10,57.19 L419.40,57.20 L419.70,57.20 L420.00,57.20 L420.30,57.20 L420.60,57.20 L420.90,57.20 L421.20,57.20 L421.50,57.20 L421.80,57.20 L422.10,57.20 L422.40,57.20 L422.70,57.20 L423.00,57.20 L423.30,57.20 L423.60,57.20 L423.90,57.20 L424.20,57.20 L424.50,57.20 L424.80,57.20 L425.10,57.20 L425.40,57.20 L425.70,57.20 L426.00,57.20 L426.30,57.20 L426.60,57.20 L426.90,57.20 L427.20,57.20 L427.50,57.20 L427.80,57.20 L428.10,57.20 L428.40,57.20 L428.70,57.20 L429.00,57.20 L429.30,57.20 L429.60,57.20 L429.90,57.20" stroke="#959595" stroke-width="0.55" fill="none"/>
<path d="M393.60,56.95 L393.90,56.95 L394.20,56.95 L394.50,56.95 L394.80,56.95 L395.10,56.94 L395.40,56.94 L395.70,56.94 L396.00,56.94 L396.30,56.94 L396.60,56.94 L396.90,56.94 L397.20,56.94 L397.50,56.93 L397.80,56.93 L398.10,56.93 L398.40,56.92 L398.70,56.92 L399.00,56.91 L399.30,56.91 L399.60,56.90 L399.90,56.89 L400.20,56.88 L400.50,56.87 L400.80,56.85 L401.10,56.84 L401.40,56.82 L401.70,56.80 L402.00,56.78 L402.30,56.76 L402.60,56.73 L402.90,56.71 L403.20,56.68 L403.50,56.65 L403.80,56.61 L404.10,56.58 L404.40,56.54 L404.70,56.49 L405.00,56.44 L405.30,56.38 L405.60,56.29 L405.90,56.17 L406.20,55.99 L406.50,55.73 L406.80,55.36 L407.10,54.84 L407.40,54.15 L407.70,53.29 L408.00,52.28 L408.30,51.17 L408.60,50.04 L408.90,49.01 L409.20,48.19 L409.50,47.66 L409.80,47.47 L410.10,47.60 L410.40,47.97 L410.70,48.48 L411.00,48.99 L411.30,49.38 L411.60,49.60 L411.90,49.64 L412.20,49.58 L412.50,49.51 L412.80,49.53 L413.10,49.72 L413.40,50.07 L413.70,50.48 L414.00,50.80 L414.30,50.77 L414.60,50.12 L414.90,48.64 L415.20,46.24 L415.50,43.08 L415.80,39.63 L416.10,36.58 L416.40,34.69 L416.70,34.45 L417.00,35.97 L417.30,38.87 L417.60,42.51 L417.90,46.18 L418.20,49.33 L418.50,51.73 L418.80,53.38 L419.10,54.41 L419.40,55.03 L419.70,55.41 L420.00,55.65 L420.30,55.83 L420.60,55.97 L420.90,56.10 L421.20,56.22 L421.50,56.32 L421.80,56.42 L422.10,56.50 L422.40,56.58 L422.70,56.64 L423.00,56.70 L423.30,56.75 L423.60,56.79 L423.90,56.82 L424.20,56.85 L424.50,56.87 L424.80,56.89 L425.10,56.90 L425.40,56.91 L425.70,56.92 L426.00,56.93 L426.30,56.93 L426.60,56.94 L426.90,56.94 L427.20,56.94 L427.50,56.94 L427.80,56.94 L428.10,56.95 L428.40,56.95 L428.70,56.95 L429.00,56.95 L429.30,56.95 L429.60,56.95 L429.90,56.95" stroke="#000" stroke-width="1.0" fill="none" stroke-linejoin="round"/>
<line x1="393.10" y1="23.30" x2="430.50" y2="23.30" stroke="#5a5a5a" stroke-width="0.8"/>
<line x1="430.50" y1="23.30" x2="430.50" y2="57.50" stroke="#5a5a5a" stroke-width="0.8"/>
<line x1="393.10" y1="22.90" x2="393.10" y2="57.90" stroke="#404040" stroke-width="0.9"/>
<line x1="393.10" y1="57.50" x2="430.50" y2="57.50" stroke="#333" stroke-width="0.9"/>
<line x1="391.90" y1="31.85" x2="393.10" y2="31.85" stroke="#777" stroke-width="0.5"/>
<line x1="391.90" y1="40.40" x2="393.10" y2="40.40" stroke="#777" stroke-width="0.5"/>
<line x1="391.90" y1="48.95" x2="393.10" y2="48.95" stroke="#777" stroke-width="0.5"/>
<line x1="393.10" y1="57.50" x2="393.10" y2="58.80" stroke="#555" stroke-width="0.5"/>
<line x1="402.45" y1="57.50" x2="402.45" y2="58.80" stroke="#555" stroke-width="0.5"/>
<line x1="411.80" y1="57.50" x2="411.80" y2="58.80" stroke="#555" stroke-width="0.5"/>
<line x1="421.15" y1="57.50" x2="421.15" y2="58.80" stroke="#555" stroke-width="0.5"/>
<line x1="430.50" y1="57.50" x2="430.50" y2="58.80" stroke="#555" stroke-width="0.5"/>
<text x="390.85" y="23.10" font-size="3.1" text-anchor="middle" fill="#222" transform="rotate(-90 390.85 23.10)" stroke="#222" stroke-width="0.12">400</text>
<text x="390.50" y="57.30" font-size="3.1" text-anchor="middle" fill="#222" transform="rotate(-90 390.50 57.30)" stroke="#222" stroke-width="0.15">0</text>
<text x="386.45" y="41.40" font-size="3.9" text-anchor="middle" fill="#444" transform="rotate(-90 386.45 41.40)" stroke="#444" stroke-width="0.15">Counts</text>
<text x="392.80" y="64.60" font-size="3.6" text-anchor="middle" fill="#111" stroke="#111" stroke-width="0.15">10</text>
<text x="395.50" y="62.40" font-size="2.6" text-anchor="middle" fill="#111" stroke="#111" stroke-width="0.1">0</text>
<text x="402.15" y="64.60" font-size="3.6" text-anchor="middle" fill="#111" stroke="#111" stroke-width="0.15">10</text>
<text x="404.85" y="62.40" font-size="2.6" text-anchor="middle" fill="#111" stroke="#111" stroke-width="0.1">1</text>
<text x="411.50" y="64.60" font-size="3.6" text-anchor="middle" fill="#111" stroke="#111" stroke-width="0.15">10</text>
<text x="414.20" y="62.40" font-size="2.6" text-anchor="middle" fill="#111" stroke="#111" stroke-width="0.1">2</text>
<text x="420.85" y="64.60" font-size="3.6" text-anchor="middle" fill="#111" stroke="#111" stroke-width="0.15">10</text>
<text x="423.55" y="62.40" font-size="2.6" text-anchor="middle" fill="#111" stroke="#111" stroke-width="0.1">3</text>
<text x="430.20" y="64.60" font-size="3.6" text-anchor="middle" fill="#111" stroke="#111" stroke-width="0.15">10</text>
<text x="432.90" y="62.40" font-size="2.6" text-anchor="middle" fill="#111" stroke="#111" stroke-width="0.1">4</text>
<text x="411.50" y="68.50" font-size="3.3" text-anchor="middle" fill="#333" stroke="#333" stroke-width="0.1" textLength="18.8" lengthAdjust="spacingAndGlyphs">CytochromeC</text>
<path d="M445.70,57.20 L446.00,57.20 L446.30,57.20 L446.60,57.20 L446.90,57.20 L447.20,57.20 L447.50,57.20 L447.80,57.20 L448.10,57.20 L448.40,57.20 L448.70,57.20 L449.00,57.20 L449.30,57.20 L449.60,57.20 L449.90,57.20 L450.20,57.20 L450.50,57.20 L450.80,57.20 L451.10,57.20 L451.40,57.20 L451.70,57.20 L452.00,57.20 L452.30,57.20 L452.60,57.20 L452.90,57.20 L453.20,57.20 L453.50,57.20 L453.80,57.20 L454.10,57.20 L454.40,57.20 L454.70,57.20 L455.00,57.20 L455.30,57.20 L455.60,57.20 L455.90,57.20 L456.20,57.20 L456.50,57.20 L456.80,57.20 L457.10,57.20 L457.40,57.20 L457.70,57.20 L458.00,57.20 L458.30,57.20 L458.60,57.20 L458.90,57.20 L459.20,57.20 L459.50,57.20 L459.80,57.20 L460.10,57.20 L460.40,57.20 L460.70,57.20 L461.00,57.20 L461.30,57.20 L461.60,57.20 L461.90,57.20 L462.20,57.20 L462.50,57.20 L462.80,57.20 L463.10,57.20 L463.40,57.20 L463.70,57.19 L464.00,57.17 L464.30,57.12 L464.60,56.97 L464.90,56.60 L465.20,55.81 L465.50,54.25 L465.80,51.57 L466.10,47.45 L466.40,41.93 L466.70,35.56 L467.00,29.43 L467.30,24.95 L467.60,23.30 L467.90,24.95 L468.20,29.43 L468.50,35.56 L468.80,41.93 L469.10,47.45 L469.40,51.57 L469.70,54.25 L470.00,55.81 L470.30,56.60 L470.60,56.97 L470.90,57.12 L471.20,57.17 L471.50,57.19 L471.80,57.20 L472.10,57.20 L472.40,57.20 L472.70,57.20 L473.00,57.20 L473.30,57.20 L473.60,57.20 L473.90,57.20 L474.20,57.20 L474.50,57.20 L474.80,57.20 L475.10,57.20 L475.40,57.20 L475.70,57.20 L476.00,57.20 L476.30,57.20 L476.60,57.20 L476.90,57.20 L477.20,57.20 L477.50,57.20 L477.80,57.20 L478.10,57.20 L478.40,57.20 L478.70,57.20 L479.00,57.20 L479.30,57.20 L479.60,57.20 L479.90,57.20 L480.20,57.20 L480.50,57.20 L480.80,57.20 L481.10,57.20 L481.40,57.20 L481.70,57.20 L482.00,57.20 L482.30,57.20" stroke="#959595" stroke-width="0.55" fill="none"/>
<path d="M445.70,56.95 L446.00,56.95 L446.30,56.95 L446.60,56.95 L446.90,56.95 L447.20,56.95 L447.50,56.95 L447.80,56.95 L448.10,56.95 L448.40,56.95 L448.70,56.95 L449.00,56.95 L449.30,56.95 L449.60,56.95 L449.90,56.95 L450.20,56.95 L450.50,56.95 L450.80,56.95 L451.10,56.95 L451.40,56.95 L451.70,56.95 L452.00,56.95 L452.30,56.95 L452.60,56.95 L452.90,56.95 L453.20,56.95 L453.50,56.95 L453.80,56.95 L454.10,56.95 L454.40,56.95 L454.70,56.95 L455.00,56.94 L455.30,56.94 L455.60,56.94 L455.90,56.94 L456.20,56.94 L456.50,56.93 L456.80,56.93 L457.10,56.92 L457.40,56.92 L457.70,56.91 L458.00,56.90 L458.30,56.88 L458.60,56.86 L458.90,56.84 L459.20,56.80 L459.50,56.76 L459.80,56.70 L460.10,56.61 L460.40,56.50 L460.70,56.33 L461.00,56.11 L461.30,55.82 L461.60,55.44 L461.90,54.98 L462.20,54.43 L462.50,53.82 L462.80,53.19 L463.10,52.58 L463.40,52.03 L463.70,51.59 L464.00,51.26 L464.30,51.03 L464.60,50.82 L464.90,50.46 L465.20,49.75 L465.50,48.41 L465.80,46.17 L466.10,42.87 L466.40,38.55 L466.70,33.55 L467.00,28.53 L467.30,24.34 L467.60,23.30 L467.90,23.30 L468.20,23.43 L468.50,27.30 L468.80,32.34 L469.10,37.68 L469.40,42.61 L469.70,46.67 L470.00,49.71 L470.30,51.81 L470.60,53.16 L470.90,54.01 L471.20,54.54 L471.50,54.89 L471.80,55.15 L472.10,55.36 L472.40,55.55 L472.70,55.72 L473.00,55.87 L473.30,56.02 L473.60,56.15 L473.90,56.26 L474.20,56.37 L474.50,56.46 L474.80,56.54 L475.10,56.61 L475.40,56.67 L475.70,56.72 L476.00,56.77 L476.30,56.80 L476.60,56.83 L476.90,56.86 L477.20,56.88 L477.50,56.89 L477.80,56.90 L478.10,56.91 L478.40,56.92 L478.70,56.93 L479.00,56.93 L479.30,56.94 L479.60,56.94 L479.90,56.94 L480.20,56.94 L480.50,56.94 L480.80,56.94 L481.10,56.95 L481.40,56.95 L481.70,56.95 L482.00,56.95 L482.30,56.95" stroke="#000" stroke-width="1.0" fill="none" stroke-linejoin="round"/>
<line x1="445.20" y1="23.30" x2="482.80" y2="23.30" stroke="#5a5a5a" stroke-width="0.8"/>
<line x1="482.80" y1="23.30" x2="482.80" y2="57.50" stroke="#5a5a5a" stroke-width="0.8"/>
<line x1="445.20" y1="22.90" x2="445.20" y2="57.90" stroke="#404040" stroke-width="0.9"/>
<line x1="445.20" y1="57.50" x2="482.80" y2="57.50" stroke="#333" stroke-width="0.9"/>
<line x1="444.00" y1="31.85" x2="445.20" y2="31.85" stroke="#777" stroke-width="0.5"/>
<line x1="444.00" y1="40.40" x2="445.20" y2="40.40" stroke="#777" stroke-width="0.5"/>
<line x1="444.00" y1="48.95" x2="445.20" y2="48.95" stroke="#777" stroke-width="0.5"/>
<line x1="445.20" y1="57.50" x2="445.20" y2="58.80" stroke="#555" stroke-width="0.5"/>
<line x1="454.60" y1="57.50" x2="454.60" y2="58.80" stroke="#555" stroke-width="0.5"/>
<line x1="464.00" y1="57.50" x2="464.00" y2="58.80" stroke="#555" stroke-width="0.5"/>
<line x1="473.40" y1="57.50" x2="473.40" y2="58.80" stroke="#555" stroke-width="0.5"/>
<line x1="482.80" y1="57.50" x2="482.80" y2="58.80" stroke="#555" stroke-width="0.5"/>
<text x="442.95" y="23.10" font-size="3.1" text-anchor="middle" fill="#222" transform="rotate(-90 442.95 23.10)" stroke="#222" stroke-width="0.12">400</text>
<text x="442.60" y="57.30" font-size="3.1" text-anchor="middle" fill="#222" transform="rotate(-90 442.60 57.30)" stroke="#222" stroke-width="0.15">0</text>
<text x="438.55" y="41.40" font-size="3.9" text-anchor="middle" fill="#444" transform="rotate(-90 438.55 41.40)" stroke="#444" stroke-width="0.15">Counts</text>
<text x="444.90" y="64.60" font-size="3.6" text-anchor="middle" fill="#111" stroke="#111" stroke-width="0.15">10</text>
<text x="447.60" y="62.40" font-size="2.6" text-anchor="middle" fill="#111" stroke="#111" stroke-width="0.1">0</text>
<text x="454.30" y="64.60" font-size="3.6" text-anchor="middle" fill="#111" stroke="#111" stroke-width="0.15">10</text>
<text x="457.00" y="62.40" font-size="2.6" text-anchor="middle" fill="#111" stroke="#111" stroke-width="0.1">1</text>
<text x="463.70" y="64.60" font-size="3.6" text-anchor="middle" fill="#111" stroke="#111" stroke-width="0.15">10</text>
<text x="466.40" y="62.40" font-size="2.6" text-anchor="middle" fill="#111" stroke="#111" stroke-width="0.1">2</text>
<text x="473.10" y="64.60" font-size="3.6" text-anchor="middle" fill="#111" stroke="#111" stroke-width="0.15">10</text>
<text x="475.80" y="62.40" font-size="2.6" text-anchor="middle" fill="#111" stroke="#111" stroke-width="0.1">3</text>
<text x="482.50" y="64.60" font-size="3.6" text-anchor="middle" fill="#111" stroke="#111" stroke-width="0.15">10</text>
<text x="485.20" y="62.40" font-size="2.6" text-anchor="middle" fill="#111" stroke="#111" stroke-width="0.1">4</text>
<text x="463.70" y="68.50" font-size="3.3" text-anchor="middle" fill="#333" stroke="#333" stroke-width="0.1" textLength="18.8" lengthAdjust="spacingAndGlyphs">CytochromeC</text>
<path d="M286.50,108.70 L286.80,108.70 L287.10,108.70 L287.40,108.70 L287.70,108.70 L288.00,108.70 L288.30,108.70 L288.60,108.70 L288.90,108.70 L289.20,108.70 L289.50,108.70 L289.80,108.70 L290.10,108.70 L290.40,108.70 L290.70,108.70 L291.00,108.70 L291.30,108.70 L291.60,108.70 L291.90,108.70 L292.20,108.70 L292.50,108.70 L292.80,108.70 L293.10,108.70 L293.40,108.70 L293.70,108.70 L294.00,108.70 L294.30,108.70 L294.60,108.70 L294.90,108.70 L295.20,108.70 L295.50,108.70 L295.80,108.70 L296.10,108.70 L296.40,108.70 L296.70,108.70 L297.00,108.70 L297.30,108.70 L297.60,108.70 L297.90,108.70 L298.20,108.70 L298.50,108.70 L298.80,108.70 L299.10,108.70 L299.40,108.70 L299.70,108.70 L300.00,108.70 L300.30,108.70 L300.60,108.70 L300.90,108.70 L301.20,108.70 L301.50,108.70 L301.80,108.70 L302.10,108.70 L302.40,108.70 L302.70,108.70 L303.00,108.70 L303.30,108.69 L303.60,108.68 L303.90,108.66 L304.20,108.60 L304.50,108.48 L304.80,108.22 L305.10,107.74 L305.40,106.88 L305.70,105.48 L306.00,103.33 L306.30,100.30 L306.60,96.35 L306.90,91.64 L307.20,86.56 L307.50,81.72 L307.80,77.80 L308.10,75.46 L308.40,75.12 L308.70,76.82 L309.00,80.27 L309.30,84.89 L309.60,89.96 L309.90,94.85 L310.20,99.08 L310.50,102.42 L310.80,104.85 L311.10,106.48 L311.40,107.50 L311.70,108.09 L312.00,108.41 L312.30,108.57 L312.60,108.65 L312.90,108.68 L313.20,108.69 L313.50,108.70 L313.80,108.70 L314.10,108.70 L314.40,108.70 L314.70,108.70 L315.00,108.70 L315.30,108.70 L315.60,108.70 L315.90,108.70 L316.20,108.70 L316.50,108.70 L316.80,108.70 L317.10,108.70 L317.40,108.70 L317.70,108.70 L318.00,108.70 L318.30,108.70 L318.60,108.70 L318.90,108.70 L319.20,108.70 L319.50,108.70 L319.80,108.70 L320.10,108.70 L320.40,108.70 L320.70,108.70 L321.00,108.70 L321.30,108.70 L321.60,108.70 L321.90,108.70 L322.20,108.70 L322.50,108.70 L322.80,108.70" stroke="#959595" stroke-width="0.55" fill="none"/>
<path d="M286.50,108.45 L286.80,108.45 L287.10,108.45 L287.40,108.45 L287.70,108.45 L288.00,108.45 L288.30,108.45 L288.60,108.45 L288.90,108.45 L289.20,108.45 L289.50,108.45 L289.80,108.45 L290.10,108.45 L290.40,108.45 L290.70,108.45 L291.00,108.45 L291.30,108.45 L291.60,108.45 L291.90,108.45 L292.20,108.45 L292.50,108.45 L292.80,108.45 L293.10,108.45 L293.40,108.45 L293.70,108.45 L294.00,108.45 L294.30,108.45 L294.60,108.45 L294.90,108.45 L295.20,108.45 L295.50,108.45 L295.80,108.44 L296.10,108.44 L296.40,108.44 L296.70,108.44 L297.00,108.44 L297.30,108.43 L297.60,108.43 L297.90,108.42 L298.20,108.41 L298.50,108.40 L298.80,108.38 L299.10,108.36 L299.40,108.34 L299.70,108.31 L300.00,108.28 L300.30,108.24 L300.60,108.19 L300.90,108.14 L301.20,108.07 L301.50,107.99 L301.80,107.90 L302.10,107.80 L302.40,107.69 L302.70,107.57 L303.00,107.43 L303.30,107.28 L303.60,107.12 L303.90,106.94 L304.20,106.74 L304.50,106.50 L304.80,106.19 L305.10,105.73 L305.40,105.01 L305.70,103.86 L306.00,102.04 L306.30,99.35 L306.60,95.65 L306.90,91.01 L307.20,85.77 L307.50,80.57 L307.80,76.26 L308.10,75.00 L308.40,75.00 L308.70,75.17 L309.00,79.00 L309.30,83.99 L309.60,89.30 L309.90,94.20 L310.20,98.23 L310.50,101.25 L310.80,103.34 L311.10,104.69 L311.40,105.53 L311.70,106.06 L312.00,106.41 L312.30,106.66 L312.60,106.87 L312.90,107.06 L313.20,107.23 L313.50,107.38 L313.80,107.52 L314.10,107.65 L314.40,107.77 L314.70,107.87 L315.00,107.96 L315.30,108.04 L315.60,108.11 L315.90,108.17 L316.20,108.23 L316.50,108.27 L316.80,108.30 L317.10,108.33 L317.40,108.36 L317.70,108.38 L318.00,108.39 L318.30,108.41 L318.60,108.42 L318.90,108.42 L319.20,108.43 L319.50,108.43 L319.80,108.44 L320.10,108.44 L320.40,108.44 L320.70,108.44 L321.00,108.45 L321.30,108.45 L321.60,108.45 L321.90,108.45 L322.20,108.45 L322.50,108.45 L322.80,108.45" stroke="#000" stroke-width="1.0" fill="none" stroke-linejoin="round"/>
<line x1="286.00" y1="75.00" x2="323.40" y2="75.00" stroke="#5a5a5a" stroke-width="0.8"/>
<line x1="323.40" y1="75.00" x2="323.40" y2="109.00" stroke="#5a5a5a" stroke-width="0.8"/>
<line x1="286.00" y1="74.60" x2="286.00" y2="109.40" stroke="#404040" stroke-width="0.9"/>
<line x1="286.00" y1="109.00" x2="323.40" y2="109.00" stroke="#333" stroke-width="0.9"/>
<line x1="284.80" y1="83.50" x2="286.00" y2="83.50" stroke="#777" stroke-width="0.5"/>
<line x1="284.80" y1="92.00" x2="286.00" y2="92.00" stroke="#777" stroke-width="0.5"/>
<line x1="284.80" y1="100.50" x2="286.00" y2="100.50" stroke="#777" stroke-width="0.5"/>
<line x1="286.00" y1="109.00" x2="286.00" y2="110.30" stroke="#555" stroke-width="0.5"/>
<line x1="295.35" y1="109.00" x2="295.35" y2="110.30" stroke="#555" stroke-width="0.5"/>
<line x1="304.70" y1="109.00" x2="304.70" y2="110.30" stroke="#555" stroke-width="0.5"/>
<line x1="314.05" y1="109.00" x2="314.05" y2="110.30" stroke="#555" stroke-width="0.5"/>
<line x1="323.40" y1="109.00" x2="323.40" y2="110.30" stroke="#555" stroke-width="0.5"/>
<text x="283.75" y="74.80" font-size="3.1" text-anchor="middle" fill="#222" transform="rotate(-90 283.75 74.80)" stroke="#222" stroke-width="0.12">400</text>
<text x="283.40" y="108.80" font-size="3.1" text-anchor="middle" fill="#222" transform="rotate(-90 283.40 108.80)" stroke="#222" stroke-width="0.15">0</text>
<text x="285.70" y="116.10" font-size="3.6" text-anchor="middle" fill="#111" stroke="#111" stroke-width="0.15">10</text>
<text x="288.40" y="113.90" font-size="2.6" text-anchor="middle" fill="#111" stroke="#111" stroke-width="0.1">0</text>
<text x="295.05" y="116.10" font-size="3.6" text-anchor="middle" fill="#111" stroke="#111" stroke-width="0.15">10</text>
<text x="297.75" y="113.90" font-size="2.6" text-anchor="middle" fill="#111" stroke="#111" stroke-width="0.1">1</text>
<text x="304.40" y="116.10" font-size="3.6" text-anchor="middle" fill="#111" stroke="#111" stroke-width="0.15">10</text>
<text x="307.10" y="113.90" font-size="2.6" text-anchor="middle" fill="#111" stroke="#111" stroke-width="0.1">2</text>
<text x="313.75" y="116.10" font-size="3.6" text-anchor="middle" fill="#111" stroke="#111" stroke-width="0.15">10</text>
<text x="316.45" y="113.90" font-size="2.6" text-anchor="middle" fill="#111" stroke="#111" stroke-width="0.1">3</text>
<text x="323.10" y="116.10" font-size="3.6" text-anchor="middle" fill="#111" stroke="#111" stroke-width="0.15">10</text>
<text x="325.80" y="113.90" font-size="2.6" text-anchor="middle" fill="#111" stroke="#111" stroke-width="0.1">4</text>
<text x="304.40" y="120.00" font-size="3.3" text-anchor="middle" fill="#333" stroke="#333" stroke-width="0.1" textLength="18.8" lengthAdjust="spacingAndGlyphs">CytochromeC</text>
<path d="M340.00,108.70 L340.30,108.70 L340.60,108.70 L340.90,108.70 L341.20,108.70 L341.50,108.70 L341.80,108.70 L342.10,108.70 L342.40,108.70 L342.70,108.70 L343.00,108.70 L343.30,108.70 L343.60,108.70 L343.90,108.70 L344.20,108.70 L344.50,108.70 L344.80,108.70 L345.10,108.70 L345.40,108.70 L345.70,108.70 L346.00,108.70 L346.30,108.70 L346.60,108.70 L346.90,108.70 L347.20,108.70 L347.50,108.70 L347.80,108.70 L348.10,108.70 L348.40,108.70 L348.70,108.70 L349.00,108.70 L349.30,108.70 L349.60,108.70 L349.90,108.70 L350.20,108.70 L350.50,108.70 L350.80,108.70 L351.10,108.70 L351.40,108.70 L351.70,108.70 L352.00,108.70 L352.30,108.70 L352.60,108.70 L352.90,108.70 L353.20,108.70 L353.50,108.70 L353.80,108.70 L354.10,108.70 L354.40,108.70 L354.70,108.70 L355.00,108.70 L355.30,108.70 L355.60,108.70 L355.90,108.70 L356.20,108.70 L356.50,108.70 L356.80,108.69 L357.10,108.68 L357.40,108.65 L357.70,108.58 L358.00,108.44 L358.30,108.15 L358.60,107.62 L358.90,106.71 L359.20,105.24 L359.50,103.05 L359.80,100.04 L360.10,96.23 L360.40,91.83 L360.70,87.27 L361.00,83.12 L361.30,80.01 L361.60,78.48 L361.90,78.79 L362.20,80.89 L362.50,84.41 L362.80,88.77 L363.10,93.34 L363.40,97.58 L363.70,101.14 L364.00,103.87 L364.30,105.80 L364.60,107.06 L364.90,107.83 L365.20,108.27 L365.50,108.50 L365.80,108.61 L366.10,108.66 L366.40,108.69 L366.70,108.69 L367.00,108.70 L367.30,108.70 L367.60,108.70 L367.90,108.70 L368.20,108.70 L368.50,108.70 L368.80,108.70 L369.10,108.70 L369.40,108.70 L369.70,108.70 L370.00,108.70 L370.30,108.70 L370.60,108.70 L370.90,108.70 L371.20,108.70 L371.50,108.70 L371.80,108.70 L372.10,108.70 L372.40,108.70 L372.70,108.70 L373.00,108.70 L373.30,108.70 L373.60,108.70 L373.90,108.70 L374.20,108.70 L374.50,108.70 L374.80,108.70 L375.10,108.70 L375.40,108.70 L375.70,108.70 L376.00,108.70" stroke="#959595" stroke-width="0.55" fill="none"/>
<path d="M340.00,108.45 L340.30,108.45 L340.60,108.45 L340.90,108.45 L341.20,108.45 L341.50,108.45 L341.80,108.45 L342.10,108.45 L342.40,108.45 L342.70,108.45 L343.00,108.45 L343.30,108.45 L343.60,108.45 L343.90,108.45 L344.20,108.45 L344.50,108.45 L344.80,108.45 L345.10,108.45 L345.40,108.45 L345.70,108.45 L346.00,108.45 L346.30,108.45 L346.60,108.45 L346.90,108.45 L347.20,108.45 L347.50,108.45 L347.80,108.45 L348.10,108.45 L348.40,108.45 L348.70,108.45 L349.00,108.45 L349.30,108.44 L349.60,108.44 L349.90,108.44 L350.20,108.44 L350.50,108.44 L350.80,108.43 L351.10,108.43 L351.40,108.42 L351.70,108.41 L352.00,108.40 L352.30,108.39 L352.60,108.37 L352.90,108.35 L353.20,108.32 L353.50,108.29 L353.80,108.26 L354.10,108.21 L354.40,108.16 L354.70,108.10 L355.00,108.03 L355.30,107.95 L355.60,107.87 L355.90,107.77 L356.20,107.65 L356.50,107.53 L356.80,107.40 L357.10,107.26 L357.40,107.10 L357.70,106.92 L358.00,106.70 L358.30,106.40 L358.60,105.95 L358.90,105.22 L359.20,104.07 L359.50,102.28 L359.80,99.69 L360.10,96.24 L360.40,92.04 L360.70,87.49 L361.00,83.20 L361.30,79.92 L361.60,78.28 L361.90,78.61 L362.20,80.86 L362.50,84.56 L362.80,89.01 L363.10,93.50 L363.40,97.48 L363.70,100.65 L364.00,102.96 L364.30,104.51 L364.60,105.50 L364.90,106.12 L365.20,106.51 L365.50,106.78 L365.80,106.98 L366.10,107.15 L366.40,107.31 L366.70,107.45 L367.00,107.57 L367.30,107.69 L367.60,107.80 L367.90,107.90 L368.20,107.98 L368.50,108.06 L368.80,108.12 L369.10,108.18 L369.40,108.23 L369.70,108.27 L370.00,108.30 L370.30,108.33 L370.60,108.36 L370.90,108.38 L371.20,108.39 L371.50,108.41 L371.80,108.42 L372.10,108.42 L372.40,108.43 L372.70,108.43 L373.00,108.44 L373.30,108.44 L373.60,108.44 L373.90,108.44 L374.20,108.45 L374.50,108.45 L374.80,108.45 L375.10,108.45 L375.40,108.45 L375.70,108.45 L376.00,108.45" stroke="#000" stroke-width="1.0" fill="none" stroke-linejoin="round"/>
<line x1="339.50" y1="75.00" x2="376.60" y2="75.00" stroke="#5a5a5a" stroke-width="0.8"/>
<line x1="376.60" y1="75.00" x2="376.60" y2="109.00" stroke="#5a5a5a" stroke-width="0.8"/>
<line x1="339.50" y1="74.60" x2="339.50" y2="109.40" stroke="#404040" stroke-width="0.9"/>
<line x1="339.50" y1="109.00" x2="376.60" y2="109.00" stroke="#333" stroke-width="0.9"/>
<line x1="338.30" y1="83.50" x2="339.50" y2="83.50" stroke="#777" stroke-width="0.5"/>
<line x1="338.30" y1="92.00" x2="339.50" y2="92.00" stroke="#777" stroke-width="0.5"/>
<line x1="338.30" y1="100.50" x2="339.50" y2="100.50" stroke="#777" stroke-width="0.5"/>
<line x1="339.50" y1="109.00" x2="339.50" y2="110.30" stroke="#555" stroke-width="0.5"/>
<line x1="348.77" y1="109.00" x2="348.77" y2="110.30" stroke="#555" stroke-width="0.5"/>
<line x1="358.05" y1="109.00" x2="358.05" y2="110.30" stroke="#555" stroke-width="0.5"/>
<line x1="367.33" y1="109.00" x2="367.33" y2="110.30" stroke="#555" stroke-width="0.5"/>
<line x1="376.60" y1="109.00" x2="376.60" y2="110.30" stroke="#555" stroke-width="0.5"/>
<text x="337.25" y="74.80" font-size="3.1" text-anchor="middle" fill="#222" transform="rotate(-90 337.25 74.80)" stroke="#222" stroke-width="0.12">400</text>
<text x="336.90" y="108.80" font-size="3.1" text-anchor="middle" fill="#222" transform="rotate(-90 336.90 108.80)" stroke="#222" stroke-width="0.15">0</text>
<text x="332.85" y="93.00" font-size="3.9" text-anchor="middle" fill="#444" transform="rotate(-90 332.85 93.00)" stroke="#444" stroke-width="0.15">Counts</text>
<text x="339.20" y="116.10" font-size="3.6" text-anchor="middle" fill="#111" stroke="#111" stroke-width="0.15">10</text>
<text x="341.90" y="113.90" font-size="2.6" text-anchor="middle" fill="#111" stroke="#111" stroke-width="0.1">0</text>
<text x="348.47" y="116.10" font-size="3.6" text-anchor="middle" fill="#111" stroke="#111" stroke-width="0.15">10</text>
<text x="351.17" y="113.90" font-size="2.6" text-anchor="middle" fill="#111" stroke="#111" stroke-width="0.1">1</text>
<text x="357.75" y="116.10" font-size="3.6" text-anchor="middle" fill="#111" stroke="#111" stroke-width="0.15">10</text>
<text x="360.45" y="113.90" font-size="2.6" text-anchor="middle" fill="#111" stroke="#111" stroke-width="0.1">2</text>
<text x="367.03" y="116.10" font-size="3.6" text-anchor="middle" fill="#111" stroke="#111" stroke-width="0.15">10</text>
<text x="369.73" y="113.90" font-size="2.6" text-anchor="middle" fill="#111" stroke="#111" stroke-width="0.1">3</text>
<text x="376.30" y="116.10" font-size="3.6" text-anchor="middle" fill="#111" stroke="#111" stroke-width="0.15">10</text>
<text x="379.00" y="113.90" font-size="2.6" text-anchor="middle" fill="#111" stroke="#111" stroke-width="0.1">4</text>
<text x="357.75" y="120.00" font-size="3.3" text-anchor="middle" fill="#333" stroke="#333" stroke-width="0.1" textLength="18.8" lengthAdjust="spacingAndGlyphs">CytochromeC</text>
<path d="M393.60,108.70 L393.90,108.70 L394.20,108.70 L394.50,108.70 L394.80,108.70 L395.10,108.70 L395.40,108.70 L395.70,108.70 L396.00,108.70 L396.30,108.70 L396.60,108.70 L396.90,108.70 L397.20,108.70 L397.50,108.70 L397.80,108.70 L398.10,108.70 L398.40,108.70 L398.70,108.70 L399.00,108.70 L399.30,108.70 L399.60,108.70 L399.90,108.70 L400.20,108.70 L400.50,108.70 L400.80,108.70 L401.10,108.70 L401.40,108.70 L401.70,108.70 L402.00,108.70 L402.30,108.70 L402.60,108.70 L402.90,108.70 L403.20,108.70 L403.50,108.70 L403.80,108.70 L404.10,108.70 L404.40,108.70 L404.70,108.70 L405.00,108.70 L405.30,108.70 L405.60,108.70 L405.90,108.70 L406.20,108.70 L406.50,108.70 L406.80,108.70 L407.10,108.70 L407.40,108.70 L407.70,108.70 L408.00,108.70 L408.30,108.70 L408.60,108.70 L408.90,108.70 L409.20,108.70 L409.50,108.70 L409.80,108.70 L410.10,108.69 L410.40,108.68 L410.70,108.65 L411.00,108.58 L411.30,108.44 L411.60,108.15 L411.90,107.62 L412.20,106.71 L412.50,105.24 L412.80,103.05 L413.10,100.04 L413.40,96.23 L413.70,91.83 L414.00,87.27 L414.30,83.12 L414.60,80.01 L414.90,78.48 L415.20,78.79 L415.50,80.89 L415.80,84.41 L416.10,88.77 L416.40,93.34 L416.70,97.58 L417.00,101.14 L417.30,103.87 L417.60,105.80 L417.90,107.06 L418.20,107.83 L418.50,108.27 L418.80,108.50 L419.10,108.61 L419.40,108.66 L419.70,108.69 L420.00,108.69 L420.30,108.70 L420.60,108.70 L420.90,108.70 L421.20,108.70 L421.50,108.70 L421.80,108.70 L422.10,108.70 L422.40,108.70 L422.70,108.70 L423.00,108.70 L423.30,108.70 L423.60,108.70 L423.90,108.70 L424.20,108.70 L424.50,108.70 L424.80,108.70 L425.10,108.70 L425.40,108.70 L425.70,108.70 L426.00,108.70 L426.30,108.70 L426.60,108.70 L426.90,108.70 L427.20,108.70 L427.50,108.70 L427.80,108.70 L428.10,108.70 L428.40,108.70 L428.70,108.70 L429.00,108.70 L429.30,108.70 L429.60,108.70 L429.90,108.70" stroke="#959595" stroke-width="0.55" fill="none"/>
<path d="M393.60,108.45 L393.90,108.45 L394.20,108.45 L394.50,108.45 L394.80,108.45 L395.10,108.45 L395.40,108.45 L395.70,108.45 L396.00,108.45 L396.30,108.45 L396.60,108.45 L396.90,108.45 L397.20,108.45 L397.50,108.45 L397.80,108.45 L398.10,108.45 L398.40,108.45 L398.70,108.45 L399.00,108.45 L399.30,108.45 L399.60,108.45 L399.90,108.45 L400.20,108.45 L400.50,108.45 L400.80,108.45 L401.10,108.45 L401.40,108.45 L401.70,108.45 L402.00,108.45 L402.30,108.45 L402.60,108.44 L402.90,108.44 L403.20,108.44 L403.50,108.44 L403.80,108.44 L404.10,108.43 L404.40,108.43 L404.70,108.42 L405.00,108.41 L405.30,108.40 L405.60,108.39 L405.90,108.37 L406.20,108.35 L406.50,108.32 L406.80,108.29 L407.10,108.25 L407.40,108.21 L407.70,108.16 L408.00,108.09 L408.30,108.02 L408.60,107.94 L408.90,107.85 L409.20,107.75 L409.50,107.64 L409.80,107.51 L410.10,107.38 L410.40,107.23 L410.70,107.07 L411.00,106.89 L411.30,106.66 L411.60,106.35 L411.90,105.89 L412.20,105.15 L412.50,103.97 L412.80,102.14 L413.10,99.50 L413.40,95.96 L413.70,91.67 L414.00,87.02 L414.30,82.64 L414.60,79.29 L414.90,77.61 L415.20,77.95 L415.50,80.25 L415.80,84.03 L416.10,88.58 L416.40,93.17 L416.70,97.24 L417.00,100.48 L417.30,102.84 L417.60,104.43 L417.90,105.44 L418.20,106.07 L418.50,106.47 L418.80,106.74 L419.10,106.95 L419.40,107.13 L419.70,107.28 L420.00,107.42 L420.30,107.56 L420.60,107.68 L420.90,107.79 L421.20,107.88 L421.50,107.97 L421.80,108.05 L422.10,108.12 L422.40,108.17 L422.70,108.22 L423.00,108.27 L423.30,108.30 L423.60,108.33 L423.90,108.36 L424.20,108.38 L424.50,108.39 L424.80,108.40 L425.10,108.41 L425.40,108.42 L425.70,108.43 L426.00,108.43 L426.30,108.44 L426.60,108.44 L426.90,108.44 L427.20,108.44 L427.50,108.45 L427.80,108.45 L428.10,108.45 L428.40,108.45 L428.70,108.45 L429.00,108.45 L429.30,108.45 L429.60,108.45 L429.90,108.45" stroke="#000" stroke-width="1.0" fill="none" stroke-linejoin="round"/>
<line x1="393.10" y1="75.00" x2="430.50" y2="75.00" stroke="#5a5a5a" stroke-width="0.8"/>
<line x1="430.50" y1="75.00" x2="430.50" y2="109.00" stroke="#5a5a5a" stroke-width="0.8"/>
<line x1="393.10" y1="74.60" x2="393.10" y2="109.40" stroke="#404040" stroke-width="0.9"/>
<line x1="393.10" y1="109.00" x2="430.50" y2="109.00" stroke="#333" stroke-width="0.9"/>
<line x1="391.90" y1="83.50" x2="393.10" y2="83.50" stroke="#777" stroke-width="0.5"/>
<line x1="391.90" y1="92.00" x2="393.10" y2="92.00" stroke="#777" stroke-width="0.5"/>
<line x1="391.90" y1="100.50" x2="393.10" y2="100.50" stroke="#777" stroke-width="0.5"/>
<line x1="393.10" y1="109.00" x2="393.10" y2="110.30" stroke="#555" stroke-width="0.5"/>
<line x1="402.45" y1="109.00" x2="402.45" y2="110.30" stroke="#555" stroke-width="0.5"/>
<line x1="411.80" y1="109.00" x2="411.80" y2="110.30" stroke="#555" stroke-width="0.5"/>
<line x1="421.15" y1="109.00" x2="421.15" y2="110.30" stroke="#555" stroke-width="0.5"/>
<line x1="430.50" y1="109.00" x2="430.50" y2="110.30" stroke="#555" stroke-width="0.5"/>
<text x="390.85" y="74.80" font-size="3.1" text-anchor="middle" fill="#222" transform="rotate(-90 390.85 74.80)" stroke="#222" stroke-width="0.12">400</text>
<text x="390.50" y="108.80" font-size="3.1" text-anchor="middle" fill="#222" transform="rotate(-90 390.50 108.80)" stroke="#222" stroke-width="0.15">0</text>
<text x="386.45" y="93.00" font-size="3.9" text-anchor="middle" fill="#444" transform="rotate(-90 386.45 93.00)" stroke="#444" stroke-width="0.15">Counts</text>
<text x="392.80" y="116.10" font-size="3.6" text-anchor="middle" fill="#111" stroke="#111" stroke-width="0.15">10</text>
<text x="395.50" y="113.90" font-size="2.6" text-anchor="middle" fill="#111" stroke="#111" stroke-width="0.1">0</text>
<text x="402.15" y="116.10" font-size="3.6" text-anchor="middle" fill="#111" stroke="#111" stroke-width="0.15">10</text>
<text x="404.85" y="113.90" font-size="2.6" text-anchor="middle" fill="#111" stroke="#111" stroke-width="0.1">1</text>
<text x="411.50" y="116.10" font-size="3.6" text-anchor="middle" fill="#111" stroke="#111" stroke-width="0.15">10</text>
<text x="414.20" y="113.90" font-size="2.6" text-anchor="middle" fill="#111" stroke="#111" stroke-width="0.1">2</text>
<text x="420.85" y="116.10" font-size="3.6" text-anchor="middle" fill="#111" stroke="#111" stroke-width="0.15">10</text>
<text x="423.55" y="113.90" font-size="2.6" text-anchor="middle" fill="#111" stroke="#111" stroke-width="0.1">3</text>
<text x="430.20" y="116.10" font-size="3.6" text-anchor="middle" fill="#111" stroke="#111" stroke-width="0.15">10</text>
<text x="432.90" y="113.90" font-size="2.6" text-anchor="middle" fill="#111" stroke="#111" stroke-width="0.1">4</text>
<text x="411.50" y="120.00" font-size="3.3" text-anchor="middle" fill="#333" stroke="#333" stroke-width="0.1" textLength="18.8" lengthAdjust="spacingAndGlyphs">CytochromeC</text>
<path d="M445.70,108.70 L446.00,108.70 L446.30,108.70 L446.60,108.70 L446.90,108.70 L447.20,108.70 L447.50,108.70 L447.80,108.70 L448.10,108.70 L448.40,108.70 L448.70,108.70 L449.00,108.70 L449.30,108.70 L449.60,108.70 L449.90,108.70 L450.20,108.70 L450.50,108.70 L450.80,108.70 L451.10,108.70 L451.40,108.70 L451.70,108.70 L452.00,108.70 L452.30,108.70 L452.60,108.70 L452.90,108.70 L453.20,108.70 L453.50,108.70 L453.80,108.70 L454.10,108.70 L454.40,108.70 L454.70,108.70 L455.00,108.70 L455.30,108.70 L455.60,108.70 L455.90,108.70 L456.20,108.70 L456.50,108.70 L456.80,108.70 L457.10,108.70 L457.40,108.70 L457.70,108.70 L458.00,108.70 L458.30,108.70 L458.60,108.70 L458.90,108.70 L459.20,108.70 L459.50,108.70 L459.80,108.70 L460.10,108.70 L460.40,108.70 L460.70,108.70 L461.00,108.70 L461.30,108.70 L461.60,108.70 L461.90,108.70 L462.20,108.69 L462.50,108.67 L462.80,108.64 L463.10,108.55 L463.40,108.38 L463.70,108.04 L464.00,107.43 L464.30,106.39 L464.60,104.78 L464.90,102.43 L465.20,99.29 L465.50,95.43 L465.80,91.12 L466.10,86.82 L466.40,83.12 L466.70,80.61 L467.00,79.72 L467.30,80.61 L467.60,83.12 L467.90,86.82 L468.20,91.12 L468.50,95.43 L468.80,99.29 L469.10,102.43 L469.40,104.78 L469.70,106.39 L470.00,107.43 L470.30,108.04 L470.60,108.38 L470.90,108.55 L471.20,108.64 L471.50,108.67 L471.80,108.69 L472.10,108.70 L472.40,108.70 L472.70,108.70 L473.00,108.70 L473.30,108.70 L473.60,108.70 L473.90,108.70 L474.20,108.70 L474.50,108.70 L474.80,108.70 L475.10,108.70 L475.40,108.70 L475.70,108.70 L476.00,108.70 L476.30,108.70 L476.60,108.70 L476.90,108.70 L477.20,108.70 L477.50,108.70 L477.80,108.70 L478.10,108.70 L478.40,108.70 L478.70,108.70 L479.00,108.70 L479.30,108.70 L479.60,108.70 L479.90,108.70 L480.20,108.70 L480.50,108.70 L480.80,108.70 L481.10,108.70 L481.40,108.70 L481.70,108.70 L482.00,108.70 L482.30,108.70" stroke="#959595" stroke-width="0.55" fill="none"/>
<path d="M445.70,108.45 L446.00,108.45 L446.30,108.45 L446.60,108.45 L446.90,108.45 L447.20,108.45 L447.50,108.45 L447.80,108.45 L448.10,108.45 L448.40,108.45 L448.70,108.45 L449.00,108.45 L449.30,108.45 L449.60,108.45 L449.90,108.45 L450.20,108.45 L450.50,108.45 L450.80,108.45 L451.10,108.45 L451.40,108.45 L451.70,108.45 L452.00,108.45 L452.30,108.45 L452.60,108.45 L452.90,108.45 L453.20,108.45 L453.50,108.45 L453.80,108.45 L454.10,108.45 L454.40,108.45 L454.70,108.44 L455.00,108.44 L455.30,108.44 L455.60,108.44 L455.90,108.44 L456.20,108.43 L456.50,108.43 L456.80,108.42 L457.10,108.41 L457.40,108.40 L457.70,108.39 L458.00,108.37 L458.30,108.35 L458.60,108.32 L458.90,108.29 L459.20,108.25 L459.50,108.21 L459.80,108.16 L460.10,108.10 L460.40,108.03 L460.70,107.95 L461.00,107.86 L461.30,107.76 L461.60,107.65 L461.90,107.53 L462.20,107.40 L462.50,107.26 L462.80,107.10 L463.10,106.92 L463.40,106.69 L463.70,106.37 L464.00,105.86 L464.30,105.05 L464.60,103.77 L464.90,101.82 L465.20,99.07 L465.50,95.51 L465.80,91.33 L466.10,86.99 L466.40,83.14 L466.70,80.47 L467.00,79.51 L467.30,80.47 L467.60,83.14 L467.90,86.99 L468.20,91.33 L468.50,95.51 L468.80,99.07 L469.10,101.82 L469.40,103.77 L469.70,105.05 L470.00,105.86 L470.30,106.37 L470.60,106.69 L470.90,106.92 L471.20,107.10 L471.50,107.26 L471.80,107.40 L472.10,107.53 L472.40,107.65 L472.70,107.76 L473.00,107.86 L473.30,107.95 L473.60,108.03 L473.90,108.10 L474.20,108.16 L474.50,108.21 L474.80,108.25 L475.10,108.29 L475.40,108.32 L475.70,108.35 L476.00,108.37 L476.30,108.39 L476.60,108.40 L476.90,108.41 L477.20,108.42 L477.50,108.43 L477.80,108.43 L478.10,108.44 L478.40,108.44 L478.70,108.44 L479.00,108.44 L479.30,108.44 L479.60,108.45 L479.90,108.45 L480.20,108.45 L480.50,108.45 L480.80,108.45 L481.10,108.45 L481.40,108.45 L481.70,108.45 L482.00,108.45 L482.30,108.45" stroke="#000" stroke-width="1.0" fill="none" stroke-linejoin="round"/>
<line x1="445.20" y1="75.00" x2="482.80" y2="75.00" stroke="#5a5a5a" stroke-width="0.8"/>
<line x1="482.80" y1="75.00" x2="482.80" y2="109.00" stroke="#5a5a5a" stroke-width="0.8"/>
<line x1="445.20" y1="74.60" x2="445.20" y2="109.40" stroke="#404040" stroke-width="0.9"/>
<line x1="445.20" y1="109.00" x2="482.80" y2="109.00" stroke="#333" stroke-width="0.9"/>
<line x1="444.00" y1="83.50" x2="445.20" y2="83.50" stroke="#777" stroke-width="0.5"/>
<line x1="444.00" y1="92.00" x2="445.20" y2="92.00" stroke="#777" stroke-width="0.5"/>
<line x1="444.00" y1="100.50" x2="445.20" y2="100.50" stroke="#777" stroke-width="0.5"/>
<line x1="445.20" y1="109.00" x2="445.20" y2="110.30" stroke="#555" stroke-width="0.5"/>
<line x1="454.60" y1="109.00" x2="454.60" y2="110.30" stroke="#555" stroke-width="0.5"/>
<line x1="464.00" y1="109.00" x2="464.00" y2="110.30" stroke="#555" stroke-width="0.5"/>
<line x1="473.40" y1="109.00" x2="473.40" y2="110.30" stroke="#555" stroke-width="0.5"/>
<line x1="482.80" y1="109.00" x2="482.80" y2="110.30" stroke="#555" stroke-width="0.5"/>
<text x="442.95" y="74.80" font-size="3.1" text-anchor="middle" fill="#222" transform="rotate(-90 442.95 74.80)" stroke="#222" stroke-width="0.12">400</text>
<text x="442.60" y="108.80" font-size="3.1" text-anchor="middle" fill="#222" transform="rotate(-90 442.60 108.80)" stroke="#222" stroke-width="0.15">0</text>
<text x="438.55" y="93.00" font-size="3.9" text-anchor="middle" fill="#444" transform="rotate(-90 438.55 93.00)" stroke="#444" stroke-width="0.15">Counts</text>
<text x="444.90" y="116.10" font-size="3.6" text-anchor="middle" fill="#111" stroke="#111" stroke-width="0.15">10</text>
<text x="447.60" y="113.90" font-size="2.6" text-anchor="middle" fill="#111" stroke="#111" stroke-width="0.1">0</text>
<text x="454.30" y="116.10" font-size="3.6" text-anchor="middle" fill="#111" stroke="#111" stroke-width="0.15">10</text>
<text x="457.00" y="113.90" font-size="2.6" text-anchor="middle" fill="#111" stroke="#111" stroke-width="0.1">1</text>
<text x="463.70" y="116.10" font-size="3.6" text-anchor="middle" fill="#111" stroke="#111" stroke-width="0.15">10</text>
<text x="466.40" y="113.90" font-size="2.6" text-anchor="middle" fill="#111" stroke="#111" stroke-width="0.1">2</text>
<text x="473.10" y="116.10" font-size="3.6" text-anchor="middle" fill="#111" stroke="#111" stroke-width="0.15">10</text>
<text x="475.80" y="113.90" font-size="2.6" text-anchor="middle" fill="#111" stroke="#111" stroke-width="0.1">3</text>
<text x="482.50" y="116.10" font-size="3.6" text-anchor="middle" fill="#111" stroke="#111" stroke-width="0.15">10</text>
<text x="485.20" y="113.90" font-size="2.6" text-anchor="middle" fill="#111" stroke="#111" stroke-width="0.1">4</text>
<text x="463.70" y="120.00" font-size="3.3" text-anchor="middle" fill="#333" stroke="#333" stroke-width="0.1" textLength="18.8" lengthAdjust="spacingAndGlyphs">CytochromeC</text>
<path d="M286.50,159.90 L286.80,159.90 L287.10,159.90 L287.40,159.90 L287.70,159.90 L288.00,159.90 L288.30,159.90 L288.60,159.90 L288.90,159.90 L289.20,159.90 L289.50,159.90 L289.80,159.90 L290.10,159.90 L290.40,159.90 L290.70,159.90 L291.00,159.90 L291.30,159.90 L291.60,159.90 L291.90,159.90 L292.20,159.90 L292.50,159.90 L292.80,159.90 L293.10,159.90 L293.40,159.90 L293.70,159.90 L294.00,159.90 L294.30,159.90 L294.60,159.90 L294.90,159.90 L295.20,159.90 L295.50,159.90 L295.80,159.90 L296.10,159.90 L296.40,159.90 L296.70,159.90 L297.00,159.90 L297.30,159.90 L297.60,159.90 L297.90,159.90 L298.20,159.90 L298.50,159.90 L298.80,159.90 L299.10,159.90 L299.40,159.90 L299.70,159.90 L300.00,159.90 L300.30,159.90 L300.60,159.90 L300.90,159.90 L301.20,159.90 L301.50,159.90 L301.80,159.90 L302.10,159.90 L302.40,159.90 L302.70,159.90 L303.00,159.90 L303.30,159.90 L303.60,159.89 L303.90,159.89 L304.20,159.86 L304.50,159.81 L304.80,159.69 L305.10,159.45 L305.40,159.00 L305.70,158.19 L306.00,156.87 L306.30,154.85 L306.60,152.00 L306.90,148.29 L307.20,143.86 L307.50,139.09 L307.80,134.53 L308.10,130.85 L308.40,128.66 L308.70,128.33 L309.00,129.93 L309.30,133.18 L309.60,137.51 L309.90,142.28 L310.20,146.88 L310.50,150.85 L310.80,154.00 L311.10,156.28 L311.40,157.82 L311.70,158.77 L312.00,159.33 L312.30,159.63 L312.60,159.78 L312.90,159.85 L313.20,159.88 L313.50,159.89 L313.80,159.90 L314.10,159.90 L314.40,159.90 L314.70,159.90 L315.00,159.90 L315.30,159.90 L315.60,159.90 L315.90,159.90 L316.20,159.90 L316.50,159.90 L316.80,159.90 L317.10,159.90 L317.40,159.90 L317.70,159.90 L318.00,159.90 L318.30,159.90 L318.60,159.90 L318.90,159.90 L319.20,159.90 L319.50,159.90 L319.80,159.90 L320.10,159.90 L320.40,159.90 L320.70,159.90 L321.00,159.90 L321.30,159.90 L321.60,159.90 L321.90,159.90 L322.20,159.90 L322.50,159.90 L322.80,159.90" stroke="#959595" stroke-width="0.55" fill="none"/>
<path d="M286.50,159.65 L286.80,159.65 L287.10,159.65 L287.40,159.65 L287.70,159.65 L288.00,159.65 L288.30,159.65 L288.60,159.65 L288.90,159.65 L289.20,159.65 L289.50,159.65 L289.80,159.65 L290.10,159.65 L290.40,159.65 L290.70,159.65 L291.00,159.65 L291.30,159.65 L291.60,159.65 L291.90,159.65 L292.20,159.65 L292.50,159.65 L292.80,159.65 L293.10,159.65 L293.40,159.65 L293.70,159.65 L294.00,159.65 L294.30,159.65 L294.60,159.65 L294.90,159.65 L295.20,159.65 L295.50,159.65 L295.80,159.65 L296.10,159.65 L296.40,159.65 L296.70,159.65 L297.00,159.64 L297.30,159.64 L297.60,159.64 L297.90,159.63 L298.20,159.63 L298.50,159.62 L298.80,159.61 L299.10,159.59 L299.40,159.58 L299.70,159.56 L300.00,159.53 L300.30,159.50 L300.60,159.47 L300.90,159.42 L301.20,159.37 L301.50,159.31 L301.80,159.24 L302.10,159.17 L302.40,159.08 L302.70,158.98 L303.00,158.86 L303.30,158.74 L303.60,158.61 L303.90,158.46 L304.20,158.30 L304.50,158.12 L304.80,157.91 L305.10,157.63 L305.40,157.22 L305.70,156.58 L306.00,155.54 L306.30,153.92 L306.60,151.51 L306.90,148.20 L307.20,144.04 L307.50,139.35 L307.80,134.70 L308.10,130.84 L308.40,128.49 L308.70,128.14 L309.00,129.86 L309.30,133.29 L309.60,137.76 L309.90,142.51 L310.20,146.90 L310.50,150.51 L310.80,153.21 L311.10,155.08 L311.40,156.29 L311.70,157.04 L312.00,157.51 L312.30,157.83 L312.60,158.06 L312.90,158.24 L313.20,158.41 L313.50,158.56 L313.80,158.70 L314.10,158.82 L314.40,158.94 L314.70,159.04 L315.00,159.14 L315.30,159.22 L315.60,159.29 L315.90,159.35 L316.20,159.41 L316.50,159.45 L316.80,159.49 L317.10,159.52 L317.40,159.55 L317.70,159.57 L318.00,159.59 L318.30,159.60 L318.60,159.61 L318.90,159.62 L319.20,159.63 L319.50,159.64 L319.80,159.64 L320.10,159.64 L320.40,159.65 L320.70,159.65 L321.00,159.65 L321.30,159.65 L321.60,159.65 L321.90,159.65 L322.20,159.65 L322.50,159.65 L322.80,159.65" stroke="#000" stroke-width="1.0" fill="none" stroke-linejoin="round"/>
<line x1="286.00" y1="126.90" x2="323.40" y2="126.90" stroke="#5a5a5a" stroke-width="0.8"/>
<line x1="323.40" y1="126.90" x2="323.40" y2="160.20" stroke="#5a5a5a" stroke-width="0.8"/>
<line x1="286.00" y1="126.50" x2="286.00" y2="160.60" stroke="#404040" stroke-width="0.9"/>
<line x1="286.00" y1="160.20" x2="323.40" y2="160.20" stroke="#333" stroke-width="0.9"/>
<line x1="284.80" y1="135.22" x2="286.00" y2="135.22" stroke="#777" stroke-width="0.5"/>
<line x1="284.80" y1="143.55" x2="286.00" y2="143.55" stroke="#777" stroke-width="0.5"/>
<line x1="284.80" y1="151.88" x2="286.00" y2="151.88" stroke="#777" stroke-width="0.5"/>
<line x1="286.00" y1="160.20" x2="286.00" y2="161.50" stroke="#555" stroke-width="0.5"/>
<line x1="295.35" y1="160.20" x2="295.35" y2="161.50" stroke="#555" stroke-width="0.5"/>
<line x1="304.70" y1="160.20" x2="304.70" y2="161.50" stroke="#555" stroke-width="0.5"/>
<line x1="314.05" y1="160.20" x2="314.05" y2="161.50" stroke="#555" stroke-width="0.5"/>
<line x1="323.40" y1="160.20" x2="323.40" y2="161.50" stroke="#555" stroke-width="0.5"/>
<text x="283.75" y="126.70" font-size="3.1" text-anchor="middle" fill="#222" transform="rotate(-90 283.75 126.70)" stroke="#222" stroke-width="0.12">400</text>
<text x="283.40" y="160.00" font-size="3.1" text-anchor="middle" fill="#222" transform="rotate(-90 283.40 160.00)" stroke="#222" stroke-width="0.15">0</text>
<text x="285.70" y="167.30" font-size="3.6" text-anchor="middle" fill="#111" stroke="#111" stroke-width="0.15">10</text>
<text x="288.40" y="165.10" font-size="2.6" text-anchor="middle" fill="#111" stroke="#111" stroke-width="0.1">0</text>
<text x="295.05" y="167.30" font-size="3.6" text-anchor="middle" fill="#111" stroke="#111" stroke-width="0.15">10</text>
<text x="297.75" y="165.10" font-size="2.6" text-anchor="middle" fill="#111" stroke="#111" stroke-width="0.1">1</text>
<text x="304.40" y="167.30" font-size="3.6" text-anchor="middle" fill="#111" stroke="#111" stroke-width="0.15">10</text>
<text x="307.10" y="165.10" font-size="2.6" text-anchor="middle" fill="#111" stroke="#111" stroke-width="0.1">2</text>
<text x="313.75" y="167.30" font-size="3.6" text-anchor="middle" fill="#111" stroke="#111" stroke-width="0.15">10</text>
<text x="316.45" y="165.10" font-size="2.6" text-anchor="middle" fill="#111" stroke="#111" stroke-width="0.1">3</text>
<text x="323.10" y="167.30" font-size="3.6" text-anchor="middle" fill="#111" stroke="#111" stroke-width="0.15">10</text>
<text x="325.80" y="165.10" font-size="2.6" text-anchor="middle" fill="#111" stroke="#111" stroke-width="0.1">4</text>
<text x="304.40" y="171.20" font-size="3.3" text-anchor="middle" fill="#333" stroke="#333" stroke-width="0.1" textLength="18.8" lengthAdjust="spacingAndGlyphs">CytochromeC</text>
<path d="M340.00,159.90 L340.30,159.90 L340.60,159.90 L340.90,159.90 L341.20,159.90 L341.50,159.90 L341.80,159.90 L342.10,159.90 L342.40,159.90 L342.70,159.90 L343.00,159.90 L343.30,159.90 L343.60,159.90 L343.90,159.90 L344.20,159.90 L344.50,159.90 L344.80,159.90 L345.10,159.90 L345.40,159.90 L345.70,159.90 L346.00,159.90 L346.30,159.90 L346.60,159.90 L346.90,159.90 L347.20,159.90 L347.50,159.90 L347.80,159.90 L348.10,159.90 L348.40,159.90 L348.70,159.90 L349.00,159.90 L349.30,159.90 L349.60,159.90 L349.90,159.90 L350.20,159.90 L350.50,159.90 L350.80,159.90 L351.10,159.90 L351.40,159.90 L351.70,159.90 L352.00,159.90 L352.30,159.90 L352.60,159.90 L352.90,159.90 L353.20,159.90 L353.50,159.90 L353.80,159.90 L354.10,159.90 L354.40,159.90 L354.70,159.90 L355.00,159.90 L355.30,159.90 L355.60,159.90 L355.90,159.90 L356.20,159.90 L356.50,159.89 L356.80,159.87 L357.10,159.83 L357.40,159.74 L357.70,159.55 L358.00,159.19 L358.30,158.52 L358.60,157.41 L358.90,155.66 L359.20,153.12 L359.50,149.72 L359.80,145.55 L360.10,140.89 L360.40,136.24 L360.70,132.23 L361.00,129.51 L361.30,128.55 L361.60,129.51 L361.90,132.23 L362.20,136.24 L362.50,140.89 L362.80,145.55 L363.10,149.72 L363.40,153.12 L363.70,155.66 L364.00,157.41 L364.30,158.52 L364.60,159.19 L364.90,159.55 L365.20,159.74 L365.50,159.83 L365.80,159.87 L366.10,159.89 L366.40,159.90 L366.70,159.90 L367.00,159.90 L367.30,159.90 L367.60,159.90 L367.90,159.90 L368.20,159.90 L368.50,159.90 L368.80,159.90 L369.10,159.90 L369.40,159.90 L369.70,159.90 L370.00,159.90 L370.30,159.90 L370.60,159.90 L370.90,159.90 L371.20,159.90 L371.50,159.90 L371.80,159.90 L372.10,159.90 L372.40,159.90 L372.70,159.90 L373.00,159.90 L373.30,159.90 L373.60,159.90 L373.90,159.90 L374.20,159.90 L374.50,159.90 L374.80,159.90 L375.10,159.90 L375.40,159.90 L375.70,159.90 L376.00,159.90" stroke="#959595" stroke-width="0.55" fill="none"/>
<path d="M340.00,159.65 L340.30,159.65 L340.60,159.65 L340.90,159.65 L341.20,159.65 L341.50,159.65 L341.80,159.65 L342.10,159.65 L342.40,159.65 L342.70,159.65 L343.00,159.65 L343.30,159.65 L343.60,159.65 L343.90,159.65 L344.20,159.65 L344.50,159.65 L344.80,159.65 L345.10,159.65 L345.40,159.65 L345.70,159.65 L346.00,159.65 L346.30,159.65 L346.60,159.65 L346.90,159.65 L347.20,159.65 L347.50,159.65 L347.80,159.65 L348.10,159.65 L348.40,159.65 L348.70,159.65 L349.00,159.65 L349.30,159.65 L349.60,159.65 L349.90,159.64 L350.20,159.64 L350.50,159.63 L350.80,159.63 L351.10,159.62 L351.40,159.61 L351.70,159.60 L352.00,159.58 L352.30,159.57 L352.60,159.54 L352.90,159.51 L353.20,159.48 L353.50,159.44 L353.80,159.39 L354.10,159.34 L354.40,159.27 L354.70,159.20 L355.00,159.11 L355.30,159.02 L355.60,158.91 L355.90,158.79 L356.20,158.66 L356.50,158.52 L356.80,158.37 L357.10,158.20 L357.40,158.00 L357.70,157.75 L358.00,157.40 L358.30,156.86 L358.60,155.98 L358.90,154.59 L359.20,152.49 L359.50,149.51 L359.80,145.65 L360.10,141.14 L360.40,136.44 L360.70,132.28 L361.00,129.39 L361.30,128.35 L361.60,129.39 L361.90,132.28 L362.20,136.44 L362.50,141.14 L362.80,145.65 L363.10,149.51 L363.40,152.49 L363.70,154.59 L364.00,155.98 L364.30,156.86 L364.60,157.40 L364.90,157.75 L365.20,158.00 L365.50,158.20 L365.80,158.37 L366.10,158.52 L366.40,158.66 L366.70,158.79 L367.00,158.91 L367.30,159.02 L367.60,159.11 L367.90,159.20 L368.20,159.27 L368.50,159.34 L368.80,159.39 L369.10,159.44 L369.40,159.48 L369.70,159.51 L370.00,159.54 L370.30,159.57 L370.60,159.58 L370.90,159.60 L371.20,159.61 L371.50,159.62 L371.80,159.63 L372.10,159.63 L372.40,159.64 L372.70,159.64 L373.00,159.65 L373.30,159.65 L373.60,159.65 L373.90,159.65 L374.20,159.65 L374.50,159.65 L374.80,159.65 L375.10,159.65 L375.40,159.65 L375.70,159.65 L376.00,159.65" stroke="#000" stroke-width="1.0" fill="none" stroke-linejoin="round"/>
<line x1="339.50" y1="126.90" x2="376.60" y2="126.90" stroke="#5a5a5a" stroke-width="0.8"/>
<line x1="376.60" y1="126.90" x2="376.60" y2="160.20" stroke="#5a5a5a" stroke-width="0.8"/>
<line x1="339.50" y1="126.50" x2="339.50" y2="160.60" stroke="#404040" stroke-width="0.9"/>
<line x1="339.50" y1="160.20" x2="376.60" y2="160.20" stroke="#333" stroke-width="0.9"/>
<line x1="338.30" y1="135.22" x2="339.50" y2="135.22" stroke="#777" stroke-width="0.5"/>
<line x1="338.30" y1="143.55" x2="339.50" y2="143.55" stroke="#777" stroke-width="0.5"/>
<line x1="338.30" y1="151.88" x2="339.50" y2="151.88" stroke="#777" stroke-width="0.5"/>
<line x1="339.50" y1="160.20" x2="339.50" y2="161.50" stroke="#555" stroke-width="0.5"/>
<line x1="348.77" y1="160.20" x2="348.77" y2="161.50" stroke="#555" stroke-width="0.5"/>
<line x1="358.05" y1="160.20" x2="358.05" y2="161.50" stroke="#555" stroke-width="0.5"/>
<line x1="367.33" y1="160.20" x2="367.33" y2="161.50" stroke="#555" stroke-width="0.5"/>
<line x1="376.60" y1="160.20" x2="376.60" y2="161.50" stroke="#555" stroke-width="0.5"/>
<text x="337.25" y="126.70" font-size="3.1" text-anchor="middle" fill="#222" transform="rotate(-90 337.25 126.70)" stroke="#222" stroke-width="0.12">400</text>
<text x="336.90" y="160.00" font-size="3.1" text-anchor="middle" fill="#222" transform="rotate(-90 336.90 160.00)" stroke="#222" stroke-width="0.15">0</text>
<text x="332.85" y="144.55" font-size="3.9" text-anchor="middle" fill="#444" transform="rotate(-90 332.85 144.55)" stroke="#444" stroke-width="0.15">Counts</text>
<text x="339.20" y="167.30" font-size="3.6" text-anchor="middle" fill="#111" stroke="#111" stroke-width="0.15">10</text>
<text x="341.90" y="165.10" font-size="2.6" text-anchor="middle" fill="#111" stroke="#111" stroke-width="0.1">0</text>
<text x="348.47" y="167.30" font-size="3.6" text-anchor="middle" fill="#111" stroke="#111" stroke-width="0.15">10</text>
<text x="351.17" y="165.10" font-size="2.6" text-anchor="middle" fill="#111" stroke="#111" stroke-width="0.1">1</text>
<text x="357.75" y="167.30" font-size="3.6" text-anchor="middle" fill="#111" stroke="#111" stroke-width="0.15">10</text>
<text x="360.45" y="165.10" font-size="2.6" text-anchor="middle" fill="#111" stroke="#111" stroke-width="0.1">2</text>
<text x="367.03" y="167.30" font-size="3.6" text-anchor="middle" fill="#111" stroke="#111" stroke-width="0.15">10</text>
<text x="369.73" y="165.10" font-size="2.6" text-anchor="middle" fill="#111" stroke="#111" stroke-width="0.1">3</text>
<text x="376.30" y="167.30" font-size="3.6" text-anchor="middle" fill="#111" stroke="#111" stroke-width="0.15">10</text>
<text x="379.00" y="165.10" font-size="2.6" text-anchor="middle" fill="#111" stroke="#111" stroke-width="0.1">4</text>
<text x="357.75" y="171.20" font-size="3.3" text-anchor="middle" fill="#333" stroke="#333" stroke-width="0.1" textLength="18.8" lengthAdjust="spacingAndGlyphs">CytochromeC</text>
<path d="M393.60,159.90 L393.90,159.90 L394.20,159.90 L394.50,159.90 L394.80,159.90 L395.10,159.90 L395.40,159.90 L395.70,159.90 L396.00,159.90 L396.30,159.90 L396.60,159.90 L396.90,159.90 L397.20,159.90 L397.50,159.90 L397.80,159.90 L398.10,159.90 L398.40,159.90 L398.70,159.90 L399.00,159.90 L399.30,159.90 L399.60,159.90 L399.90,159.90 L400.20,159.90 L400.50,159.90 L400.80,159.90 L401.10,159.90 L401.40,159.90 L401.70,159.90 L402.00,159.90 L402.30,159.90 L402.60,159.90 L402.90,159.90 L403.20,159.90 L403.50,159.90 L403.80,159.90 L404.10,159.90 L404.40,159.90 L404.70,159.90 L405.00,159.90 L405.30,159.90 L405.60,159.90 L405.90,159.90 L406.20,159.90 L406.50,159.90 L406.80,159.90 L407.10,159.90 L407.40,159.90 L407.70,159.90 L408.00,159.90 L408.30,159.90 L408.60,159.90 L408.90,159.90 L409.20,159.90 L409.50,159.90 L409.80,159.89 L410.10,159.89 L410.40,159.86 L410.70,159.81 L411.00,159.70 L411.30,159.47 L411.60,159.03 L411.90,158.26 L412.20,157.00 L412.50,155.06 L412.80,152.33 L413.10,148.77 L413.40,144.53 L413.70,139.95 L414.00,135.59 L414.30,132.06 L414.60,129.96 L414.90,129.65 L415.20,131.18 L415.50,134.29 L415.80,138.45 L416.10,143.02 L416.40,147.42 L416.70,151.23 L417.00,154.24 L417.30,156.43 L417.60,157.90 L417.90,158.82 L418.20,159.35 L418.50,159.64 L418.80,159.78 L419.10,159.85 L419.40,159.88 L419.70,159.89 L420.00,159.90 L420.30,159.90 L420.60,159.90 L420.90,159.90 L421.20,159.90 L421.50,159.90 L421.80,159.90 L422.10,159.90 L422.40,159.90 L422.70,159.90 L423.00,159.90 L423.30,159.90 L423.60,159.90 L423.90,159.90 L424.20,159.90 L424.50,159.90 L424.80,159.90 L425.10,159.90 L425.40,159.90 L425.70,159.90 L426.00,159.90 L426.30,159.90 L426.60,159.90 L426.90,159.90 L427.20,159.90 L427.50,159.90 L427.80,159.90 L428.10,159.90 L428.40,159.90 L428.70,159.90 L429.00,159.90 L429.30,159.90 L429.60,159.90 L429.90,159.90" stroke="#959595" stroke-width="0.55" fill="none"/>
<path d="M393.60,159.65 L393.90,159.65 L394.20,159.65 L394.50,159.65 L394.80,159.65 L395.10,159.65 L395.40,159.65 L395.70,159.65 L396.00,159.65 L396.30,159.65 L396.60,159.65 L396.90,159.65 L397.20,159.65 L397.50,159.65 L397.80,159.65 L398.10,159.65 L398.40,159.65 L398.70,159.65 L399.00,159.65 L399.30,159.65 L399.60,159.65 L399.90,159.65 L400.20,159.65 L400.50,159.65 L400.80,159.65 L401.10,159.65 L401.40,159.65 L401.70,159.65 L402.00,159.65 L402.30,159.65 L402.60,159.65 L402.90,159.65 L403.20,159.65 L403.50,159.65 L403.80,159.65 L404.10,159.65 L404.40,159.64 L404.70,159.64 L405.00,159.64 L405.30,159.63 L405.60,159.62 L405.90,159.61 L406.20,159.60 L406.50,159.59 L406.80,159.57 L407.10,159.55 L407.40,159.53 L407.70,159.50 L408.00,159.46 L408.30,159.42 L408.60,159.37 L408.90,159.31 L409.20,159.25 L409.50,159.17 L409.80,159.09 L410.10,158.99 L410.40,158.89 L410.70,158.78 L411.00,158.66 L411.30,158.53 L411.60,158.38 L411.90,158.20 L412.20,157.97 L412.50,157.63 L412.80,157.09 L413.10,156.23 L413.40,154.87 L413.70,152.87 L414.00,150.11 L414.30,146.64 L414.60,142.73 L414.90,138.86 L415.20,135.64 L415.50,133.68 L415.80,133.39 L416.10,134.82 L416.40,137.68 L416.70,141.41 L417.00,145.37 L417.30,149.02 L417.60,152.03 L417.90,154.28 L418.20,155.84 L418.50,156.85 L418.80,157.47 L419.10,157.87 L419.40,158.13 L419.70,158.32 L420.00,158.48 L420.30,158.62 L420.60,158.74 L420.90,158.86 L421.20,158.96 L421.50,159.06 L421.80,159.15 L422.10,159.22 L422.40,159.29 L422.70,159.35 L423.00,159.40 L423.30,159.45 L423.60,159.49 L423.90,159.52 L424.20,159.54 L424.50,159.57 L424.80,159.58 L425.10,159.60 L425.40,159.61 L425.70,159.62 L426.00,159.63 L426.30,159.63 L426.60,159.64 L426.90,159.64 L427.20,159.64 L427.50,159.65 L427.80,159.65 L428.10,159.65 L428.40,159.65 L428.70,159.65 L429.00,159.65 L429.30,159.65 L429.60,159.65 L429.90,159.65" stroke="#000" stroke-width="1.0" fill="none" stroke-linejoin="round"/>
<line x1="393.10" y1="126.90" x2="430.50" y2="126.90" stroke="#5a5a5a" stroke-width="0.8"/>
<line x1="430.50" y1="126.90" x2="430.50" y2="160.20" stroke="#5a5a5a" stroke-width="0.8"/>
<line x1="393.10" y1="126.50" x2="393.10" y2="160.60" stroke="#404040" stroke-width="0.9"/>
<line x1="393.10" y1="160.20" x2="430.50" y2="160.20" stroke="#333" stroke-width="0.9"/>
<line x1="391.90" y1="135.22" x2="393.10" y2="135.22" stroke="#777" stroke-width="0.5"/>
<line x1="391.90" y1="143.55" x2="393.10" y2="143.55" stroke="#777" stroke-width="0.5"/>
<line x1="391.90" y1="151.88" x2="393.10" y2="151.88" stroke="#777" stroke-width="0.5"/>
<line x1="393.10" y1="160.20" x2="393.10" y2="161.50" stroke="#555" stroke-width="0.5"/>
<line x1="402.45" y1="160.20" x2="402.45" y2="161.50" stroke="#555" stroke-width="0.5"/>
<line x1="411.80" y1="160.20" x2="411.80" y2="161.50" stroke="#555" stroke-width="0.5"/>
<line x1="421.15" y1="160.20" x2="421.15" y2="161.50" stroke="#555" stroke-width="0.5"/>
<line x1="430.50" y1="160.20" x2="430.50" y2="161.50" stroke="#555" stroke-width="0.5"/>
<text x="390.85" y="126.70" font-size="3.1" text-anchor="middle" fill="#222" transform="rotate(-90 390.85 126.70)" stroke="#222" stroke-width="0.12">400</text>
<text x="390.50" y="160.00" font-size="3.1" text-anchor="middle" fill="#222" transform="rotate(-90 390.50 160.00)" stroke="#222" stroke-width="0.15">0</text>
<text x="386.45" y="144.55" font-size="3.9" text-anchor="middle" fill="#444" transform="rotate(-90 386.45 144.55)" stroke="#444" stroke-width="0.15">Counts</text>
<text x="392.80" y="167.30" font-size="3.6" text-anchor="middle" fill="#111" stroke="#111" stroke-width="0.15">10</text>
<text x="395.50" y="165.10" font-size="2.6" text-anchor="middle" fill="#111" stroke="#111" stroke-width="0.1">0</text>
<text x="402.15" y="167.30" font-size="3.6" text-anchor="middle" fill="#111" stroke="#111" stroke-width="0.15">10</text>
<text x="404.85" y="165.10" font-size="2.6" text-anchor="middle" fill="#111" stroke="#111" stroke-width="0.1">1</text>
<text x="411.50" y="167.30" font-size="3.6" text-anchor="middle" fill="#111" stroke="#111" stroke-width="0.15">10</text>
<text x="414.20" y="165.10" font-size="2.6" text-anchor="middle" fill="#111" stroke="#111" stroke-width="0.1">2</text>
<text x="420.85" y="167.30" font-size="3.6" text-anchor="middle" fill="#111" stroke="#111" stroke-width="0.15">10</text>
<text x="423.55" y="165.10" font-size="2.6" text-anchor="middle" fill="#111" stroke="#111" stroke-width="0.1">3</text>
<text x="430.20" y="167.30" font-size="3.6" text-anchor="middle" fill="#111" stroke="#111" stroke-width="0.15">10</text>
<text x="432.90" y="165.10" font-size="2.6" text-anchor="middle" fill="#111" stroke="#111" stroke-width="0.1">4</text>
<text x="411.50" y="171.20" font-size="3.3" text-anchor="middle" fill="#333" stroke="#333" stroke-width="0.1" textLength="18.8" lengthAdjust="spacingAndGlyphs">CytochromeC</text>
<path d="M445.70,159.90 L446.00,159.90 L446.30,159.90 L446.60,159.90 L446.90,159.90 L447.20,159.90 L447.50,159.90 L447.80,159.90 L448.10,159.90 L448.40,159.90 L448.70,159.90 L449.00,159.90 L449.30,159.90 L449.60,159.90 L449.90,159.90 L450.20,159.90 L450.50,159.90 L450.80,159.90 L451.10,159.90 L451.40,159.90 L451.70,159.90 L452.00,159.90 L452.30,159.90 L452.60,159.90 L452.90,159.90 L453.20,159.90 L453.50,159.90 L453.80,159.90 L454.10,159.90 L454.40,159.90 L454.70,159.90 L455.00,159.90 L455.30,159.90 L455.60,159.90 L455.90,159.90 L456.20,159.90 L456.50,159.90 L456.80,159.90 L457.10,159.90 L457.40,159.90 L457.70,159.90 L458.00,159.90 L458.30,159.90 L458.60,159.90 L458.90,159.90 L459.20,159.90 L459.50,159.90 L459.80,159.90 L460.10,159.90 L460.40,159.90 L460.70,159.90 L461.00,159.90 L461.30,159.90 L461.60,159.89 L461.90,159.87 L462.20,159.81 L462.50,159.68 L462.80,159.40 L463.10,158.83 L463.40,157.78 L463.70,156.01 L464.00,153.26 L464.30,149.40 L464.60,144.48 L464.90,138.88 L465.20,133.30 L465.50,128.65 L465.80,126.90 L466.10,126.90 L466.40,127.47 L466.70,131.60 L467.00,136.98 L467.30,142.66 L467.60,147.87 L467.90,152.10 L468.20,155.21 L468.50,157.28 L468.80,158.54 L469.10,159.25 L469.40,159.61 L469.70,159.78 L470.00,159.85 L470.30,159.88 L470.60,159.89 L470.90,159.90 L471.20,159.90 L471.50,159.90 L471.80,159.90 L472.10,159.90 L472.40,159.90 L472.70,159.90 L473.00,159.90 L473.30,159.90 L473.60,159.90 L473.90,159.90 L474.20,159.90 L474.50,159.90 L474.80,159.90 L475.10,159.90 L475.40,159.90 L475.70,159.90 L476.00,159.90 L476.30,159.90 L476.60,159.90 L476.90,159.90 L477.20,159.90 L477.50,159.90 L477.80,159.90 L478.10,159.90 L478.40,159.90 L478.70,159.90 L479.00,159.90 L479.30,159.90 L479.60,159.90 L479.90,159.90 L480.20,159.90 L480.50,159.90 L480.80,159.90 L481.10,159.90 L481.40,159.90 L481.70,159.90 L482.00,159.90 L482.30,159.90" stroke="#959595" stroke-width="0.55" fill="none"/>
<path d="M445.70,159.65 L446.00,159.65 L446.30,159.65 L446.60,159.65 L446.90,159.65 L447.20,159.65 L447.50,159.65 L447.80,159.65 L448.10,159.65 L448.40,159.65 L448.70,159.65 L449.00,159.65 L449.30,159.65 L449.60,159.65 L449.90,159.65 L450.20,159.65 L450.50,159.65 L450.80,159.65 L451.10,159.65 L451.40,159.65 L451.70,159.65 L452.00,159.65 L452.30,159.65 L452.60,159.65 L452.90,159.65 L453.20,159.65 L453.50,159.65 L453.80,159.65 L454.10,159.65 L454.40,159.65 L454.70,159.65 L455.00,159.64 L455.30,159.64 L455.60,159.64 L455.90,159.63 L456.20,159.63 L456.50,159.62 L456.80,159.61 L457.10,159.59 L457.40,159.58 L457.70,159.56 L458.00,159.53 L458.30,159.50 L458.60,159.47 L458.90,159.43 L459.20,159.38 L459.50,159.32 L459.80,159.26 L460.10,159.18 L460.40,159.10 L460.70,159.00 L461.00,158.90 L461.30,158.79 L461.60,158.66 L461.90,158.53 L462.20,158.38 L462.50,158.21 L462.80,157.99 L463.10,157.68 L463.40,157.21 L463.70,156.45 L464.00,155.23 L464.30,153.39 L464.60,150.79 L464.90,147.42 L465.20,143.47 L465.50,139.37 L465.80,135.73 L466.10,133.21 L466.40,132.30 L466.70,133.21 L467.00,135.73 L467.30,139.37 L467.60,143.47 L467.90,147.42 L468.20,150.79 L468.50,153.39 L468.80,155.23 L469.10,156.45 L469.40,157.21 L469.70,157.68 L470.00,157.99 L470.30,158.21 L470.60,158.38 L470.90,158.53 L471.20,158.66 L471.50,158.79 L471.80,158.90 L472.10,159.00 L472.40,159.10 L472.70,159.18 L473.00,159.26 L473.30,159.32 L473.60,159.38 L473.90,159.43 L474.20,159.47 L474.50,159.50 L474.80,159.53 L475.10,159.56 L475.40,159.58 L475.70,159.59 L476.00,159.61 L476.30,159.62 L476.60,159.63 L476.90,159.63 L477.20,159.64 L477.50,159.64 L477.80,159.64 L478.10,159.65 L478.40,159.65 L478.70,159.65 L479.00,159.65 L479.30,159.65 L479.60,159.65 L479.90,159.65 L480.20,159.65 L480.50,159.65 L480.80,159.65 L481.10,159.65 L481.40,159.65 L481.70,159.65 L482.00,159.65 L482.30,159.65" stroke="#000" stroke-width="1.0" fill="none" stroke-linejoin="round"/>
<line x1="445.20" y1="126.90" x2="482.80" y2="126.90" stroke="#5a5a5a" stroke-width="0.8"/>
<line x1="482.80" y1="126.90" x2="482.80" y2="160.20" stroke="#5a5a5a" stroke-width="0.8"/>
<line x1="445.20" y1="126.50" x2="445.20" y2="160.60" stroke="#404040" stroke-width="0.9"/>
<line x1="445.20" y1="160.20" x2="482.80" y2="160.20" stroke="#333" stroke-width="0.9"/>
<line x1="444.00" y1="135.22" x2="445.20" y2="135.22" stroke="#777" stroke-width="0.5"/>
<line x1="444.00" y1="143.55" x2="445.20" y2="143.55" stroke="#777" stroke-width="0.5"/>
<line x1="444.00" y1="151.88" x2="445.20" y2="151.88" stroke="#777" stroke-width="0.5"/>
<line x1="445.20" y1="160.20" x2="445.20" y2="161.50" stroke="#555" stroke-width="0.5"/>
<line x1="454.60" y1="160.20" x2="454.60" y2="161.50" stroke="#555" stroke-width="0.5"/>
<line x1="464.00" y1="160.20" x2="464.00" y2="161.50" stroke="#555" stroke-width="0.5"/>
<line x1="473.40" y1="160.20" x2="473.40" y2="161.50" stroke="#555" stroke-width="0.5"/>
<line x1="482.80" y1="160.20" x2="482.80" y2="161.50" stroke="#555" stroke-width="0.5"/>
<text x="442.95" y="126.70" font-size="3.1" text-anchor="middle" fill="#222" transform="rotate(-90 442.95 126.70)" stroke="#222" stroke-width="0.12">400</text>
<text x="442.60" y="160.00" font-size="3.1" text-anchor="middle" fill="#222" transform="rotate(-90 442.60 160.00)" stroke="#222" stroke-width="0.15">0</text>
<text x="438.55" y="144.55" font-size="3.9" text-anchor="middle" fill="#444" transform="rotate(-90 438.55 144.55)" stroke="#444" stroke-width="0.15">Counts</text>
<text x="444.90" y="167.30" font-size="3.6" text-anchor="middle" fill="#111" stroke="#111" stroke-width="0.15">10</text>
<text x="447.60" y="165.10" font-size="2.6" text-anchor="middle" fill="#111" stroke="#111" stroke-width="0.1">0</text>
<text x="454.30" y="167.30" font-size="3.6" text-anchor="middle" fill="#111" stroke="#111" stroke-width="0.15">10</text>
<text x="457.00" y="165.10" font-size="2.6" text-anchor="middle" fill="#111" stroke="#111" stroke-width="0.1">1</text>
<text x="463.70" y="167.30" font-size="3.6" text-anchor="middle" fill="#111" stroke="#111" stroke-width="0.15">10</text>
<text x="466.40" y="165.10" font-size="2.6" text-anchor="middle" fill="#111" stroke="#111" stroke-width="0.1">2</text>
<text x="473.10" y="167.30" font-size="3.6" text-anchor="middle" fill="#111" stroke="#111" stroke-width="0.15">10</text>
<text x="475.80" y="165.10" font-size="2.6" text-anchor="middle" fill="#111" stroke="#111" stroke-width="0.1">3</text>
<text x="482.50" y="167.30" font-size="3.6" text-anchor="middle" fill="#111" stroke="#111" stroke-width="0.15">10</text>
<text x="485.20" y="165.10" font-size="2.6" text-anchor="middle" fill="#111" stroke="#111" stroke-width="0.1">4</text>
<text x="463.70" y="171.20" font-size="3.3" text-anchor="middle" fill="#333" stroke="#333" stroke-width="0.1" textLength="18.8" lengthAdjust="spacingAndGlyphs">CytochromeC</text>
<text x="41.00" y="18.40" font-size="6.1" text-anchor="middle" fill="#000" stroke="#000" stroke-width="0.14">Medium</text>
<text x="91.50" y="18.40" font-size="6.1" text-anchor="middle" fill="#000" stroke="#000" stroke-width="0.14">DMSO</text>
<text x="144.50" y="18.40" font-size="6.1" text-anchor="middle" fill="#000" stroke="#000" stroke-width="0.14">XIAP inh.2</text>
<text x="198.50" y="18.40" font-size="6.1" text-anchor="middle" fill="#000" stroke="#000" stroke-width="0.14">control</text>
<text x="306.70" y="19.00" font-size="6.1" text-anchor="middle" fill="#000" stroke="#000" stroke-width="0.14">Medium</text>
<text x="357.10" y="19.00" font-size="6.1" text-anchor="middle" fill="#000" stroke="#000" stroke-width="0.14">DMSO</text>
<text x="410.40" y="19.00" font-size="6.1" text-anchor="middle" fill="#000" stroke="#000" stroke-width="0.14">XIAP inh.2</text>
<text x="464.80" y="19.00" font-size="6.1" text-anchor="middle" fill="#000" stroke="#000" stroke-width="0.14">control</text>
<text x="228.90" y="34.80" font-size="6.0" text-anchor="start" fill="#000" stroke="#000" stroke-width="0.14">DMSO</text>
<text x="224.00" y="82.80" font-size="6.3" text-anchor="start" fill="#000" stroke="#000" stroke-width="0.14">zVAD.fmk</text>
<text x="221.80" y="135.70" font-size="6.25" text-anchor="start" fill="#000" stroke="#000" stroke-width="0.14">zDEVD.fmk</text>
<text x="495.10" y="32.80" font-size="6.0" text-anchor="start" fill="#000" stroke="#000" stroke-width="0.14">DMSO</text>
<text x="491.10" y="83.70" font-size="6.0" text-anchor="start" fill="#000" stroke="#000" stroke-width="0.14">zVAD.fmk</text>
<text x="487.60" y="136.50" font-size="6.3" text-anchor="start" fill="#000" stroke="#000" stroke-width="0.14">zDEVD.fmk</text>
<line x1="9.50" y1="20.70" x2="9.50" y2="173.00" stroke="#888" stroke-width="0.9"/>
<line x1="9.50" y1="173.00" x2="222.70" y2="173.00" stroke="#888" stroke-width="0.9"/>
<path d="M7.80,21.30 L9.50,17.70 L11.20,21.30 Z" fill="#000"/>
<path d="M222.20,171.30 L226.20,173.00 L222.20,174.70 Z" fill="#000"/>
<line x1="275.40" y1="21.50" x2="275.40" y2="173.80" stroke="#888" stroke-width="0.9"/>
<line x1="275.40" y1="173.80" x2="488.80" y2="173.80" stroke="#888" stroke-width="0.9"/>
<path d="M273.70,22.10 L275.40,18.50 L277.10,22.10 Z" fill="#000"/>
<path d="M488.30,172.10 L492.30,173.80 L488.30,175.50 Z" fill="#000"/>
<text x="4.80" y="90.50" font-size="6.1" text-anchor="middle" fill="#000" font-weight="bold" transform="rotate(-90 4.80 90.50)" stroke="#000" stroke-width="0.14">counts</text>
<text x="270.90" y="92.40" font-size="6.1" text-anchor="middle" fill="#000" font-weight="bold" transform="rotate(-90 270.90 92.40)" stroke="#000" stroke-width="0.14">counts</text>
<text x="121.15" y="182.70" font-size="6.5" text-anchor="middle" fill="#000" font-weight="bold" textLength="65.4" lengthAdjust="spacingAndGlyphs" stroke="#000" stroke-width="0.14">fluorescence intensity</text>
<text x="387.15" y="183.70" font-size="6.5" text-anchor="middle" fill="#000" font-weight="bold" textLength="65.4" lengthAdjust="spacingAndGlyphs" stroke="#000" stroke-width="0.14">fluorescence intensity</text>
<line x1="32.70" y1="202.90" x2="32.70" y2="299.90" stroke="#aaa" stroke-width="0.8"/>
<line x1="32.70" y1="299.90" x2="223.80" y2="299.90" stroke="#aaa" stroke-width="0.8"/>
<line x1="31.20" y1="299.90" x2="32.70" y2="299.90" stroke="#999" stroke-width="0.6"/>
<text x="29.00" y="301.80" font-size="5.6" text-anchor="end" fill="#333" stroke="#333" stroke-width="0.14">0</text>
<line x1="31.20" y1="280.70" x2="32.70" y2="280.70" stroke="#999" stroke-width="0.6"/>
<text x="29.00" y="282.60" font-size="5.6" text-anchor="end" fill="#333" stroke="#333" stroke-width="0.14">10</text>
<line x1="31.20" y1="261.50" x2="32.70" y2="261.50" stroke="#999" stroke-width="0.6"/>
<text x="29.00" y="263.40" font-size="5.6" text-anchor="end" fill="#333" stroke="#333" stroke-width="0.14">20</text>
<line x1="31.20" y1="242.30" x2="32.70" y2="242.30" stroke="#999" stroke-width="0.6"/>
<text x="29.00" y="244.20" font-size="5.6" text-anchor="end" fill="#333" stroke="#333" stroke-width="0.14">30</text>
<line x1="31.20" y1="223.10" x2="32.70" y2="223.10" stroke="#999" stroke-width="0.6"/>
<text x="29.00" y="225.00" font-size="5.6" text-anchor="end" fill="#333" stroke="#333" stroke-width="0.14">40</text>
<line x1="31.20" y1="203.90" x2="32.70" y2="203.90" stroke="#999" stroke-width="0.6"/>
<text x="29.00" y="205.80" font-size="5.6" text-anchor="end" fill="#333" stroke="#333" stroke-width="0.14">50</text>
<line x1="39.70" y1="289.72" x2="39.70" y2="290.30" stroke="#555" stroke-width="0.6"/>
<line x1="38.50" y1="289.72" x2="40.90" y2="289.72" stroke="#333" stroke-width="0.7"/>
<rect x="36.40" y="290.30" width="6.60" height="9.60" fill="#fff" stroke="none" stroke-width="0"/>
<line x1="36.75" y1="290.30" x2="36.75" y2="299.90" stroke="#777" stroke-width="0.65"/>
<line x1="42.65" y1="290.30" x2="42.65" y2="299.90" stroke="#777" stroke-width="0.65"/>
<line x1="36.75" y1="290.60" x2="42.65" y2="290.60" stroke="#666" stroke-width="0.65"/>
<line x1="46.45" y1="272.64" x2="46.45" y2="275.32" stroke="#555" stroke-width="0.6"/>
<line x1="45.25" y1="272.64" x2="47.65" y2="272.64" stroke="#333" stroke-width="0.7"/>
<rect x="43.00" y="275.32" width="6.90" height="24.58" fill="#000" stroke="none" stroke-width="0"/>
<line x1="53.15" y1="286.27" x2="53.15" y2="286.84" stroke="#555" stroke-width="0.6"/>
<line x1="51.95" y1="286.27" x2="54.35" y2="286.27" stroke="#333" stroke-width="0.7"/>
<rect x="50.20" y="286.84" width="5.90" height="13.06" fill="#fff" stroke="none" stroke-width="0"/>
<line x1="50.55" y1="286.84" x2="50.55" y2="299.90" stroke="#777" stroke-width="0.65"/>
<line x1="55.75" y1="286.84" x2="55.75" y2="299.90" stroke="#777" stroke-width="0.65"/>
<line x1="50.55" y1="287.14" x2="55.75" y2="287.14" stroke="#666" stroke-width="0.65"/>
<line x1="59.30" y1="284.54" x2="59.30" y2="287.23" stroke="#555" stroke-width="0.6"/>
<line x1="58.10" y1="284.54" x2="60.50" y2="284.54" stroke="#333" stroke-width="0.7"/>
<rect x="56.10" y="287.23" width="6.40" height="12.67" fill="#000" stroke="none" stroke-width="0"/>
<line x1="66.00" y1="289.15" x2="66.00" y2="291.84" stroke="#555" stroke-width="0.6"/>
<line x1="64.80" y1="289.15" x2="67.20" y2="289.15" stroke="#333" stroke-width="0.7"/>
<rect x="63.40" y="291.84" width="5.20" height="8.06" fill="#fff" stroke="none" stroke-width="0"/>
<line x1="63.75" y1="291.84" x2="63.75" y2="299.90" stroke="#777" stroke-width="0.65"/>
<line x1="68.25" y1="291.84" x2="68.25" y2="299.90" stroke="#777" stroke-width="0.65"/>
<line x1="63.75" y1="292.14" x2="68.25" y2="292.14" stroke="#666" stroke-width="0.65"/>
<line x1="72.00" y1="286.08" x2="72.00" y2="287.23" stroke="#555" stroke-width="0.6"/>
<line x1="70.80" y1="286.08" x2="73.20" y2="286.08" stroke="#333" stroke-width="0.7"/>
<rect x="69.00" y="287.23" width="6.00" height="12.67" fill="#000" stroke="none" stroke-width="0"/>
<line x1="87.60" y1="289.53" x2="87.60" y2="291.64" stroke="#555" stroke-width="0.6"/>
<line x1="86.40" y1="289.53" x2="88.80" y2="289.53" stroke="#333" stroke-width="0.7"/>
<rect x="84.40" y="291.64" width="6.40" height="8.26" fill="#fff" stroke="none" stroke-width="0"/>
<line x1="84.75" y1="291.64" x2="84.75" y2="299.90" stroke="#777" stroke-width="0.65"/>
<line x1="90.45" y1="291.64" x2="90.45" y2="299.90" stroke="#777" stroke-width="0.65"/>
<line x1="84.75" y1="291.94" x2="90.45" y2="291.94" stroke="#666" stroke-width="0.65"/>
<line x1="94.35" y1="273.79" x2="94.35" y2="277.24" stroke="#555" stroke-width="0.6"/>
<line x1="93.15" y1="273.79" x2="95.55" y2="273.79" stroke="#333" stroke-width="0.7"/>
<rect x="91.40" y="277.24" width="5.90" height="22.66" fill="#000" stroke="none" stroke-width="0"/>
<line x1="100.65" y1="284.73" x2="100.65" y2="285.88" stroke="#555" stroke-width="0.6"/>
<line x1="99.45" y1="284.73" x2="101.85" y2="284.73" stroke="#333" stroke-width="0.7"/>
<rect x="98.00" y="285.88" width="5.30" height="14.02" fill="#fff" stroke="none" stroke-width="0"/>
<line x1="98.35" y1="285.88" x2="98.35" y2="299.90" stroke="#777" stroke-width="0.65"/>
<line x1="102.95" y1="285.88" x2="102.95" y2="299.90" stroke="#777" stroke-width="0.65"/>
<line x1="98.35" y1="286.18" x2="102.95" y2="286.18" stroke="#666" stroke-width="0.65"/>
<line x1="106.75" y1="287.61" x2="106.75" y2="288.38" stroke="#555" stroke-width="0.6"/>
<line x1="105.55" y1="287.61" x2="107.95" y2="287.61" stroke="#333" stroke-width="0.7"/>
<rect x="103.60" y="288.38" width="6.30" height="11.52" fill="#000" stroke="none" stroke-width="0"/>
<line x1="113.65" y1="288.76" x2="113.65" y2="289.92" stroke="#555" stroke-width="0.6"/>
<line x1="112.45" y1="288.76" x2="114.85" y2="288.76" stroke="#333" stroke-width="0.7"/>
<rect x="111.10" y="289.92" width="5.10" height="9.98" fill="#fff" stroke="none" stroke-width="0"/>
<line x1="111.45" y1="289.92" x2="111.45" y2="299.90" stroke="#777" stroke-width="0.65"/>
<line x1="115.85" y1="289.92" x2="115.85" y2="299.90" stroke="#777" stroke-width="0.65"/>
<line x1="111.45" y1="290.22" x2="115.85" y2="290.22" stroke="#666" stroke-width="0.65"/>
<line x1="119.60" y1="285.31" x2="119.60" y2="285.88" stroke="#555" stroke-width="0.6"/>
<line x1="118.40" y1="285.31" x2="120.80" y2="285.31" stroke="#333" stroke-width="0.7"/>
<rect x="116.20" y="285.88" width="6.80" height="14.02" fill="#000" stroke="none" stroke-width="0"/>
<line x1="135.50" y1="288.57" x2="135.50" y2="289.34" stroke="#555" stroke-width="0.6"/>
<line x1="134.30" y1="288.57" x2="136.70" y2="288.57" stroke="#333" stroke-width="0.7"/>
<rect x="132.10" y="289.34" width="6.80" height="10.56" fill="#fff" stroke="none" stroke-width="0"/>
<line x1="132.45" y1="289.34" x2="132.45" y2="299.90" stroke="#777" stroke-width="0.65"/>
<line x1="138.55" y1="289.34" x2="138.55" y2="299.90" stroke="#777" stroke-width="0.65"/>
<line x1="132.45" y1="289.64" x2="138.55" y2="289.64" stroke="#666" stroke-width="0.65"/>
<line x1="142.45" y1="221.56" x2="142.45" y2="231.93" stroke="#555" stroke-width="0.6"/>
<line x1="141.25" y1="221.56" x2="143.65" y2="221.56" stroke="#333" stroke-width="0.7"/>
<rect x="139.20" y="231.93" width="6.50" height="67.97" fill="#000" stroke="none" stroke-width="0"/>
<line x1="148.80" y1="285.69" x2="148.80" y2="287.42" stroke="#555" stroke-width="0.6"/>
<line x1="147.60" y1="285.69" x2="150.00" y2="285.69" stroke="#333" stroke-width="0.7"/>
<rect x="145.80" y="287.42" width="6.00" height="12.48" fill="#fff" stroke="none" stroke-width="0"/>
<line x1="146.15" y1="287.42" x2="146.15" y2="299.90" stroke="#777" stroke-width="0.65"/>
<line x1="151.45" y1="287.42" x2="151.45" y2="299.90" stroke="#777" stroke-width="0.65"/>
<line x1="146.15" y1="287.72" x2="151.45" y2="287.72" stroke="#666" stroke-width="0.65"/>
<line x1="155.00" y1="281.47" x2="155.00" y2="282.04" stroke="#555" stroke-width="0.6"/>
<line x1="153.80" y1="281.47" x2="156.20" y2="281.47" stroke="#333" stroke-width="0.7"/>
<rect x="151.80" y="282.04" width="6.40" height="17.86" fill="#000" stroke="none" stroke-width="0"/>
<line x1="161.25" y1="289.53" x2="161.25" y2="290.30" stroke="#555" stroke-width="0.6"/>
<line x1="160.05" y1="289.53" x2="162.45" y2="289.53" stroke="#333" stroke-width="0.7"/>
<rect x="158.30" y="290.30" width="5.90" height="9.60" fill="#fff" stroke="none" stroke-width="0"/>
<line x1="158.65" y1="290.30" x2="158.65" y2="299.90" stroke="#777" stroke-width="0.65"/>
<line x1="163.85" y1="290.30" x2="163.85" y2="299.90" stroke="#777" stroke-width="0.65"/>
<line x1="158.65" y1="290.60" x2="163.85" y2="290.60" stroke="#666" stroke-width="0.65"/>
<line x1="167.65" y1="265.72" x2="167.65" y2="269.76" stroke="#555" stroke-width="0.6"/>
<line x1="166.45" y1="265.72" x2="168.85" y2="265.72" stroke="#333" stroke-width="0.7"/>
<rect x="164.40" y="269.76" width="6.50" height="30.14" fill="#000" stroke="none" stroke-width="0"/>
<line x1="183.50" y1="290.68" x2="183.50" y2="291.45" stroke="#555" stroke-width="0.6"/>
<line x1="182.30" y1="290.68" x2="184.70" y2="290.68" stroke="#333" stroke-width="0.7"/>
<rect x="180.10" y="291.45" width="6.80" height="8.45" fill="#fff" stroke="none" stroke-width="0"/>
<line x1="180.45" y1="291.45" x2="180.45" y2="299.90" stroke="#777" stroke-width="0.65"/>
<line x1="186.55" y1="291.45" x2="186.55" y2="299.90" stroke="#777" stroke-width="0.65"/>
<line x1="180.45" y1="291.75" x2="186.55" y2="291.75" stroke="#666" stroke-width="0.65"/>
<line x1="190.15" y1="266.11" x2="190.15" y2="269.37" stroke="#555" stroke-width="0.6"/>
<line x1="188.95" y1="266.11" x2="191.35" y2="266.11" stroke="#333" stroke-width="0.7"/>
<rect x="186.90" y="269.37" width="6.50" height="30.53" fill="#000" stroke="none" stroke-width="0"/>
<line x1="196.55" y1="287.61" x2="196.55" y2="288.38" stroke="#555" stroke-width="0.6"/>
<line x1="195.35" y1="287.61" x2="197.75" y2="287.61" stroke="#333" stroke-width="0.7"/>
<rect x="193.60" y="288.38" width="5.90" height="11.52" fill="#fff" stroke="none" stroke-width="0"/>
<line x1="193.95" y1="288.38" x2="193.95" y2="299.90" stroke="#777" stroke-width="0.65"/>
<line x1="199.15" y1="288.38" x2="199.15" y2="299.90" stroke="#777" stroke-width="0.65"/>
<line x1="193.95" y1="288.68" x2="199.15" y2="288.68" stroke="#666" stroke-width="0.65"/>
<line x1="202.70" y1="286.08" x2="202.70" y2="287.23" stroke="#555" stroke-width="0.6"/>
<line x1="201.50" y1="286.08" x2="203.90" y2="286.08" stroke="#333" stroke-width="0.7"/>
<rect x="199.50" y="287.23" width="6.40" height="12.67" fill="#000" stroke="none" stroke-width="0"/>
<line x1="209.10" y1="288.76" x2="209.10" y2="289.53" stroke="#555" stroke-width="0.6"/>
<line x1="207.90" y1="288.76" x2="210.30" y2="288.76" stroke="#333" stroke-width="0.7"/>
<rect x="206.30" y="289.53" width="5.60" height="10.37" fill="#fff" stroke="none" stroke-width="0"/>
<line x1="206.65" y1="289.53" x2="206.65" y2="299.90" stroke="#777" stroke-width="0.65"/>
<line x1="211.55" y1="289.53" x2="211.55" y2="299.90" stroke="#777" stroke-width="0.65"/>
<line x1="206.65" y1="289.83" x2="211.55" y2="289.83" stroke="#666" stroke-width="0.65"/>
<line x1="215.55" y1="283.20" x2="215.55" y2="284.35" stroke="#555" stroke-width="0.6"/>
<line x1="214.35" y1="283.20" x2="216.75" y2="283.20" stroke="#333" stroke-width="0.7"/>
<rect x="212.10" y="284.35" width="6.90" height="15.55" fill="#000" stroke="none" stroke-width="0"/>
<text x="19.60" y="253.30" font-size="5.9" text-anchor="middle" fill="#000" font-weight="bold" transform="rotate(-90 19.60 253.30)" style="white-space:pre" stroke="#000" stroke-width="0.22">% loss of MMP</text>
<line x1="293.40" y1="203.90" x2="293.40" y2="300.30" stroke="#aaa" stroke-width="0.8"/>
<line x1="293.40" y1="300.30" x2="485.80" y2="300.30" stroke="#aaa" stroke-width="0.8"/>
<line x1="291.90" y1="300.30" x2="293.40" y2="300.30" stroke="#999" stroke-width="0.6"/>
<text x="290.00" y="302.20" font-size="5.9" text-anchor="end" fill="#333" stroke="#333" stroke-width="0.14">0</text>
<line x1="291.90" y1="284.40" x2="293.40" y2="284.40" stroke="#999" stroke-width="0.6"/>
<text x="290.00" y="286.30" font-size="5.9" text-anchor="end" fill="#333" stroke="#333" stroke-width="0.14">10</text>
<line x1="291.90" y1="268.50" x2="293.40" y2="268.50" stroke="#999" stroke-width="0.6"/>
<text x="290.00" y="270.40" font-size="5.9" text-anchor="end" fill="#333" stroke="#333" stroke-width="0.14">20</text>
<line x1="291.90" y1="252.60" x2="293.40" y2="252.60" stroke="#999" stroke-width="0.6"/>
<text x="290.00" y="254.50" font-size="5.9" text-anchor="end" fill="#333" stroke="#333" stroke-width="0.14">30</text>
<line x1="291.90" y1="236.70" x2="293.40" y2="236.70" stroke="#999" stroke-width="0.6"/>
<text x="290.00" y="238.60" font-size="5.9" text-anchor="end" fill="#333" stroke="#333" stroke-width="0.14">40</text>
<line x1="291.90" y1="220.80" x2="293.40" y2="220.80" stroke="#999" stroke-width="0.6"/>
<text x="290.00" y="222.70" font-size="5.9" text-anchor="end" fill="#333" stroke="#333" stroke-width="0.14">50</text>
<line x1="291.90" y1="204.90" x2="293.40" y2="204.90" stroke="#999" stroke-width="0.6"/>
<text x="290.00" y="206.80" font-size="5.9" text-anchor="end" fill="#333" stroke="#333" stroke-width="0.14">60</text>
<line x1="301.55" y1="294.81" x2="301.55" y2="296.09" stroke="#555" stroke-width="0.6"/>
<line x1="300.35" y1="294.81" x2="302.75" y2="294.81" stroke="#333" stroke-width="0.7"/>
<rect x="298.20" y="296.09" width="6.70" height="4.21" fill="#fff" stroke="none" stroke-width="0"/>
<line x1="298.55" y1="296.09" x2="298.55" y2="300.30" stroke="#bbb" stroke-width="0.65"/>
<line x1="304.55" y1="296.09" x2="304.55" y2="300.30" stroke="#bbb" stroke-width="0.65"/>
<line x1="298.55" y1="296.39" x2="304.55" y2="296.39" stroke="#888" stroke-width="0.65"/>
<line x1="308.00" y1="280.35" x2="308.00" y2="281.86" stroke="#555" stroke-width="0.6"/>
<line x1="306.80" y1="280.35" x2="309.20" y2="280.35" stroke="#333" stroke-width="0.7"/>
<rect x="304.90" y="281.86" width="6.20" height="18.44" fill="#000" stroke="none" stroke-width="0"/>
<line x1="314.75" y1="292.59" x2="314.75" y2="293.78" stroke="#555" stroke-width="0.6"/>
<line x1="313.55" y1="292.59" x2="315.95" y2="292.59" stroke="#333" stroke-width="0.7"/>
<rect x="311.70" y="293.78" width="6.10" height="6.52" fill="#fff" stroke="none" stroke-width="0"/>
<line x1="312.05" y1="293.78" x2="312.05" y2="300.30" stroke="#bbb" stroke-width="0.65"/>
<line x1="317.45" y1="293.78" x2="317.45" y2="300.30" stroke="#bbb" stroke-width="0.65"/>
<line x1="312.05" y1="294.08" x2="317.45" y2="294.08" stroke="#888" stroke-width="0.65"/>
<line x1="321.00" y1="293.15" x2="321.00" y2="293.62" stroke="#555" stroke-width="0.6"/>
<line x1="319.80" y1="293.15" x2="322.20" y2="293.15" stroke="#333" stroke-width="0.7"/>
<rect x="317.80" y="293.62" width="6.40" height="6.68" fill="#000" stroke="none" stroke-width="0"/>
<line x1="327.25" y1="293.30" x2="327.25" y2="293.78" stroke="#555" stroke-width="0.6"/>
<line x1="326.05" y1="293.30" x2="328.45" y2="293.30" stroke="#333" stroke-width="0.7"/>
<rect x="324.30" y="293.78" width="5.90" height="6.52" fill="#fff" stroke="none" stroke-width="0"/>
<line x1="324.65" y1="293.78" x2="324.65" y2="300.30" stroke="#bbb" stroke-width="0.65"/>
<line x1="329.85" y1="293.78" x2="329.85" y2="300.30" stroke="#bbb" stroke-width="0.65"/>
<line x1="324.65" y1="294.08" x2="329.85" y2="294.08" stroke="#888" stroke-width="0.65"/>
<line x1="333.65" y1="292.99" x2="333.65" y2="293.62" stroke="#555" stroke-width="0.6"/>
<line x1="332.45" y1="292.99" x2="334.85" y2="292.99" stroke="#333" stroke-width="0.7"/>
<rect x="330.40" y="293.62" width="6.50" height="6.68" fill="#000" stroke="none" stroke-width="0"/>
<line x1="349.25" y1="295.93" x2="349.25" y2="296.56" stroke="#555" stroke-width="0.6"/>
<line x1="348.05" y1="295.93" x2="350.45" y2="295.93" stroke="#333" stroke-width="0.7"/>
<rect x="346.20" y="296.56" width="6.10" height="3.74" fill="#fff" stroke="none" stroke-width="0"/>
<line x1="346.55" y1="296.56" x2="346.55" y2="300.30" stroke="#bbb" stroke-width="0.65"/>
<line x1="351.95" y1="296.56" x2="351.95" y2="300.30" stroke="#bbb" stroke-width="0.65"/>
<line x1="346.55" y1="296.86" x2="351.95" y2="296.86" stroke="#888" stroke-width="0.65"/>
<line x1="355.70" y1="276.45" x2="355.70" y2="280.27" stroke="#555" stroke-width="0.6"/>
<line x1="354.50" y1="276.45" x2="356.90" y2="276.45" stroke="#333" stroke-width="0.7"/>
<rect x="352.30" y="280.27" width="6.80" height="20.03" fill="#000" stroke="none" stroke-width="0"/>
<line x1="362.45" y1="293.78" x2="362.45" y2="294.10" stroke="#555" stroke-width="0.6"/>
<line x1="361.25" y1="293.78" x2="363.65" y2="293.78" stroke="#333" stroke-width="0.7"/>
<rect x="359.70" y="294.10" width="5.50" height="6.20" fill="#fff" stroke="none" stroke-width="0"/>
<line x1="360.05" y1="294.10" x2="360.05" y2="300.30" stroke="#bbb" stroke-width="0.65"/>
<line x1="364.85" y1="294.10" x2="364.85" y2="300.30" stroke="#bbb" stroke-width="0.65"/>
<line x1="360.05" y1="294.40" x2="364.85" y2="294.40" stroke="#888" stroke-width="0.65"/>
<line x1="368.50" y1="293.62" x2="368.50" y2="293.94" stroke="#555" stroke-width="0.6"/>
<line x1="367.30" y1="293.62" x2="369.70" y2="293.62" stroke="#333" stroke-width="0.7"/>
<rect x="365.20" y="293.94" width="6.60" height="6.36" fill="#000" stroke="none" stroke-width="0"/>
<line x1="375.05" y1="294.26" x2="375.05" y2="294.58" stroke="#555" stroke-width="0.6"/>
<line x1="373.85" y1="294.26" x2="376.25" y2="294.26" stroke="#333" stroke-width="0.7"/>
<rect x="372.20" y="294.58" width="5.70" height="5.72" fill="#fff" stroke="none" stroke-width="0"/>
<line x1="372.55" y1="294.58" x2="372.55" y2="300.30" stroke="#bbb" stroke-width="0.65"/>
<line x1="377.55" y1="294.58" x2="377.55" y2="300.30" stroke="#bbb" stroke-width="0.65"/>
<line x1="372.55" y1="294.88" x2="377.55" y2="294.88" stroke="#888" stroke-width="0.65"/>
<line x1="381.40" y1="293.30" x2="381.40" y2="293.62" stroke="#555" stroke-width="0.6"/>
<line x1="380.20" y1="293.30" x2="382.60" y2="293.30" stroke="#333" stroke-width="0.7"/>
<rect x="378.20" y="293.62" width="6.40" height="6.68" fill="#000" stroke="none" stroke-width="0"/>
<line x1="396.80" y1="292.03" x2="396.80" y2="292.99" stroke="#555" stroke-width="0.6"/>
<line x1="395.60" y1="292.03" x2="398.00" y2="292.03" stroke="#333" stroke-width="0.7"/>
<rect x="393.40" y="292.99" width="6.80" height="7.31" fill="#fff" stroke="none" stroke-width="0"/>
<line x1="393.75" y1="292.99" x2="393.75" y2="300.30" stroke="#bbb" stroke-width="0.65"/>
<line x1="399.85" y1="292.99" x2="399.85" y2="300.30" stroke="#bbb" stroke-width="0.65"/>
<line x1="393.75" y1="293.29" x2="399.85" y2="293.29" stroke="#888" stroke-width="0.65"/>
<line x1="403.50" y1="216.35" x2="403.50" y2="220.80" stroke="#555" stroke-width="0.6"/>
<line x1="402.30" y1="216.35" x2="404.70" y2="216.35" stroke="#333" stroke-width="0.7"/>
<rect x="400.10" y="220.80" width="6.80" height="79.50" fill="#000" stroke="none" stroke-width="0"/>
<line x1="410.35" y1="291.71" x2="410.35" y2="292.03" stroke="#555" stroke-width="0.6"/>
<line x1="409.15" y1="291.71" x2="411.55" y2="291.71" stroke="#333" stroke-width="0.7"/>
<rect x="407.70" y="292.03" width="5.30" height="8.27" fill="#fff" stroke="none" stroke-width="0"/>
<line x1="408.05" y1="292.03" x2="408.05" y2="300.30" stroke="#bbb" stroke-width="0.65"/>
<line x1="412.65" y1="292.03" x2="412.65" y2="300.30" stroke="#bbb" stroke-width="0.65"/>
<line x1="408.05" y1="292.33" x2="412.65" y2="292.33" stroke="#888" stroke-width="0.65"/>
<line x1="416.20" y1="291.40" x2="416.20" y2="292.03" stroke="#555" stroke-width="0.6"/>
<line x1="415.00" y1="291.40" x2="417.40" y2="291.40" stroke="#333" stroke-width="0.7"/>
<rect x="413.00" y="292.03" width="6.40" height="8.27" fill="#000" stroke="none" stroke-width="0"/>
<line x1="423.10" y1="292.19" x2="423.10" y2="292.67" stroke="#555" stroke-width="0.6"/>
<line x1="421.90" y1="292.19" x2="424.30" y2="292.19" stroke="#333" stroke-width="0.7"/>
<rect x="420.20" y="292.67" width="5.80" height="7.63" fill="#fff" stroke="none" stroke-width="0"/>
<line x1="420.55" y1="292.67" x2="420.55" y2="300.30" stroke="#bbb" stroke-width="0.65"/>
<line x1="425.65" y1="292.67" x2="425.65" y2="300.30" stroke="#bbb" stroke-width="0.65"/>
<line x1="420.55" y1="292.97" x2="425.65" y2="292.97" stroke="#888" stroke-width="0.65"/>
<line x1="429.25" y1="278.36" x2="429.25" y2="282.81" stroke="#555" stroke-width="0.6"/>
<line x1="428.05" y1="278.36" x2="430.45" y2="278.36" stroke="#333" stroke-width="0.7"/>
<rect x="426.20" y="282.81" width="6.10" height="17.49" fill="#000" stroke="none" stroke-width="0"/>
<rect x="441.50" y="296.64" width="6.20" height="3.66" fill="#fff" stroke="none" stroke-width="0"/>
<line x1="441.85" y1="296.64" x2="441.85" y2="300.30" stroke="#bbb" stroke-width="0.65"/>
<line x1="447.35" y1="296.64" x2="447.35" y2="300.30" stroke="#bbb" stroke-width="0.65"/>
<line x1="441.85" y1="296.94" x2="447.35" y2="296.94" stroke="#888" stroke-width="0.65"/>
<line x1="451.40" y1="267.71" x2="451.40" y2="274.06" stroke="#555" stroke-width="0.6"/>
<line x1="450.20" y1="267.71" x2="452.60" y2="267.71" stroke="#333" stroke-width="0.7"/>
<rect x="448.10" y="274.06" width="6.60" height="26.24" fill="#000" stroke="none" stroke-width="0"/>
<line x1="457.85" y1="291.71" x2="457.85" y2="293.46" stroke="#555" stroke-width="0.6"/>
<line x1="456.65" y1="291.71" x2="459.05" y2="291.71" stroke="#333" stroke-width="0.7"/>
<rect x="455.10" y="293.46" width="5.50" height="6.84" fill="#fff" stroke="none" stroke-width="0"/>
<line x1="455.45" y1="293.46" x2="455.45" y2="300.30" stroke="#bbb" stroke-width="0.65"/>
<line x1="460.25" y1="293.46" x2="460.25" y2="300.30" stroke="#bbb" stroke-width="0.65"/>
<line x1="455.45" y1="293.76" x2="460.25" y2="293.76" stroke="#888" stroke-width="0.65"/>
<line x1="463.90" y1="292.83" x2="463.90" y2="293.30" stroke="#555" stroke-width="0.6"/>
<line x1="462.70" y1="292.83" x2="465.10" y2="292.83" stroke="#333" stroke-width="0.7"/>
<rect x="461.00" y="293.30" width="5.80" height="7.00" fill="#000" stroke="none" stroke-width="0"/>
<line x1="470.30" y1="292.19" x2="470.30" y2="292.83" stroke="#555" stroke-width="0.6"/>
<line x1="469.10" y1="292.19" x2="471.50" y2="292.19" stroke="#333" stroke-width="0.7"/>
<rect x="467.40" y="292.83" width="5.80" height="7.47" fill="#fff" stroke="none" stroke-width="0"/>
<line x1="467.75" y1="292.83" x2="467.75" y2="300.30" stroke="#bbb" stroke-width="0.65"/>
<line x1="472.85" y1="292.83" x2="472.85" y2="300.30" stroke="#bbb" stroke-width="0.65"/>
<line x1="467.75" y1="293.13" x2="472.85" y2="293.13" stroke="#888" stroke-width="0.65"/>
<line x1="476.60" y1="291.40" x2="476.60" y2="291.87" stroke="#555" stroke-width="0.6"/>
<line x1="475.40" y1="291.40" x2="477.80" y2="291.40" stroke="#333" stroke-width="0.7"/>
<rect x="473.50" y="291.87" width="6.20" height="8.43" fill="#000" stroke="none" stroke-width="0"/>
<text x="280.50" y="252.90" font-size="6.3" text-anchor="middle" fill="#000" font-weight="bold" transform="rotate(-90 280.50 252.90)" style="white-space:pre" stroke="#000" stroke-width="0.22" textLength="73.6" lengthAdjust="spacingAndGlyphs">% cytochrome c  release</text>
<path d="M141.60,218.40 Q141.60,216.20 143.60,216.20 L152.20,216.20 Q154.20,216.20 154.20,218.40" stroke="#8a8a8a" stroke-width="0.65" fill="none"/>
<text x="148.40" y="217.20" font-size="5.5" text-anchor="middle" fill="#222" stroke="#222" stroke-width="0.14">*</text>
<path d="M141.60,213.10 Q141.60,210.90 143.60,210.90 L165.60,210.90 Q167.60,210.90 167.60,213.10" stroke="#8a8a8a" stroke-width="0.65" fill="none"/>
<text x="154.80" y="212.30" font-size="5.5" text-anchor="middle" fill="#222" stroke="#222" stroke-width="0.14">*</text>
<path d="M141.60,208.80 Q141.60,206.60 143.60,206.60 L187.10,206.60 Q189.10,206.60 189.10,208.80" stroke="#8a8a8a" stroke-width="0.65" fill="none"/>
<text x="166.00" y="207.30" font-size="5.5" text-anchor="middle" fill="#222" stroke="#222" stroke-width="0.14">*</text>
<path d="M403.10,214.80 Q403.10,212.60 405.10,212.60 L415.20,212.60 Q417.20,212.60 417.20,214.80" stroke="#8a8a8a" stroke-width="0.65" fill="none"/>
<text x="410.20" y="213.40" font-size="5.5" text-anchor="middle" fill="#222" stroke="#222" stroke-width="0.14">*</text>
<path d="M403.10,209.80 Q403.10,207.60 405.10,207.60 L426.30,207.60 Q428.30,207.60 428.30,209.80" stroke="#8a8a8a" stroke-width="0.65" fill="none"/>
<text x="417.00" y="208.30" font-size="5.5" text-anchor="middle" fill="#222" stroke="#222" stroke-width="0.14">*</text>
<path d="M403.10,204.80 Q403.10,202.60 405.10,202.60 L449.70,202.60 Q451.70,202.60 451.70,204.80" stroke="#8a8a8a" stroke-width="0.65" fill="none"/>
<text x="427.30" y="203.30" font-size="5.5" text-anchor="middle" fill="#222" stroke="#222" stroke-width="0.14">*</text>
<text x="19.50" y="308.20" font-size="5.0" text-anchor="start" fill="#111" stroke="#111" stroke-width="0.14">TRAIL</text>
<line x1="38.00" y1="306.20" x2="39.20" y2="306.20" stroke="#777" stroke-width="0.75"/>
<line x1="44.55" y1="305.70" x2="46.25" y2="305.70" stroke="#111" stroke-width="0.65"/>
<line x1="45.40" y1="304.85" x2="45.40" y2="306.55" stroke="#111" stroke-width="0.65"/>
<line x1="35.80" y1="309.30" x2="47.60" y2="309.30" stroke="#777" stroke-width="0.6"/>
<line x1="52.20" y1="306.20" x2="53.40" y2="306.20" stroke="#777" stroke-width="0.75"/>
<line x1="58.65" y1="305.70" x2="60.35" y2="305.70" stroke="#111" stroke-width="0.65"/>
<line x1="59.50" y1="304.85" x2="59.50" y2="306.55" stroke="#111" stroke-width="0.65"/>
<line x1="49.95" y1="309.30" x2="61.75" y2="309.30" stroke="#777" stroke-width="0.6"/>
<line x1="66.30" y1="306.20" x2="67.50" y2="306.20" stroke="#777" stroke-width="0.75"/>
<line x1="72.45" y1="305.70" x2="74.15" y2="305.70" stroke="#111" stroke-width="0.65"/>
<line x1="73.30" y1="304.85" x2="73.30" y2="306.55" stroke="#111" stroke-width="0.65"/>
<line x1="63.90" y1="309.30" x2="75.70" y2="309.30" stroke="#777" stroke-width="0.6"/>
<text x="41.00" y="314.70" font-size="4.7" text-anchor="middle" fill="#111" stroke="#111" stroke-width="0.14">DMSO</text>
<text x="56.30" y="314.70" font-size="4.7" text-anchor="middle" fill="#111" stroke="#111" stroke-width="0.14">zVAD</text>
<text x="70.50" y="314.70" font-size="4.7" text-anchor="middle" fill="#111" stroke="#111" stroke-width="0.14">zDEVD</text>
<line x1="34.30" y1="318.40" x2="77.50" y2="318.40" stroke="#666" stroke-width="0.6"/>
<text x="57.05" y="326.20" font-size="5.65" text-anchor="middle" fill="#111" stroke="#111" stroke-width="0.14">Medium</text>
<line x1="87.00" y1="306.20" x2="88.20" y2="306.20" stroke="#777" stroke-width="0.75"/>
<line x1="93.55" y1="305.70" x2="95.25" y2="305.70" stroke="#111" stroke-width="0.65"/>
<line x1="94.40" y1="304.85" x2="94.40" y2="306.55" stroke="#111" stroke-width="0.65"/>
<line x1="84.80" y1="309.30" x2="96.60" y2="309.30" stroke="#777" stroke-width="0.6"/>
<line x1="100.00" y1="306.20" x2="101.20" y2="306.20" stroke="#777" stroke-width="0.75"/>
<line x1="105.95" y1="305.70" x2="107.65" y2="305.70" stroke="#111" stroke-width="0.65"/>
<line x1="106.80" y1="304.85" x2="106.80" y2="306.55" stroke="#111" stroke-width="0.65"/>
<line x1="97.50" y1="309.30" x2="109.30" y2="309.30" stroke="#777" stroke-width="0.6"/>
<line x1="113.00" y1="306.20" x2="114.20" y2="306.20" stroke="#777" stroke-width="0.75"/>
<line x1="119.15" y1="305.70" x2="120.85" y2="305.70" stroke="#111" stroke-width="0.65"/>
<line x1="120.00" y1="304.85" x2="120.00" y2="306.55" stroke="#111" stroke-width="0.65"/>
<line x1="110.60" y1="309.30" x2="122.40" y2="309.30" stroke="#777" stroke-width="0.6"/>
<text x="90.10" y="314.70" font-size="4.7" text-anchor="middle" fill="#111" stroke="#111" stroke-width="0.14">DMSO</text>
<text x="105.20" y="314.70" font-size="4.7" text-anchor="middle" fill="#111" stroke="#111" stroke-width="0.14">zVAD</text>
<text x="119.70" y="314.70" font-size="4.7" text-anchor="middle" fill="#111" stroke="#111" stroke-width="0.14">zDEVD</text>
<line x1="82.90" y1="318.40" x2="127.80" y2="318.40" stroke="#666" stroke-width="0.6"/>
<text x="106.50" y="326.20" font-size="5.65" text-anchor="middle" fill="#111" stroke="#111" stroke-width="0.14">DMSO</text>
<line x1="134.90" y1="306.20" x2="136.10" y2="306.20" stroke="#777" stroke-width="0.75"/>
<line x1="141.65" y1="305.70" x2="143.35" y2="305.70" stroke="#111" stroke-width="0.65"/>
<line x1="142.50" y1="304.85" x2="142.50" y2="306.55" stroke="#111" stroke-width="0.65"/>
<line x1="132.80" y1="309.30" x2="144.60" y2="309.30" stroke="#777" stroke-width="0.6"/>
<line x1="148.70" y1="306.20" x2="149.90" y2="306.20" stroke="#777" stroke-width="0.75"/>
<line x1="154.15" y1="305.70" x2="155.85" y2="305.70" stroke="#111" stroke-width="0.65"/>
<line x1="155.00" y1="304.85" x2="155.00" y2="306.55" stroke="#111" stroke-width="0.65"/>
<line x1="145.95" y1="309.30" x2="157.75" y2="309.30" stroke="#777" stroke-width="0.6"/>
<line x1="161.20" y1="306.20" x2="162.40" y2="306.20" stroke="#777" stroke-width="0.75"/>
<line x1="167.15" y1="305.70" x2="168.85" y2="305.70" stroke="#111" stroke-width="0.65"/>
<line x1="168.00" y1="304.85" x2="168.00" y2="306.55" stroke="#111" stroke-width="0.65"/>
<line x1="158.70" y1="309.30" x2="170.50" y2="309.30" stroke="#777" stroke-width="0.6"/>
<text x="138.10" y="314.70" font-size="4.7" text-anchor="middle" fill="#111" stroke="#111" stroke-width="0.14">DMSO</text>
<text x="153.00" y="314.70" font-size="4.7" text-anchor="middle" fill="#111" stroke="#111" stroke-width="0.14">zVAD</text>
<text x="167.80" y="314.70" font-size="4.7" text-anchor="middle" fill="#111" stroke="#111" stroke-width="0.14">zDEVD</text>
<line x1="130.90" y1="318.40" x2="175.80" y2="318.40" stroke="#666" stroke-width="0.6"/>
<text x="154.00" y="326.20" font-size="5.65" text-anchor="middle" fill="#111" stroke="#111" stroke-width="0.14">XIAP inh.2</text>
<line x1="182.90" y1="306.20" x2="184.10" y2="306.20" stroke="#777" stroke-width="0.75"/>
<line x1="189.15" y1="305.70" x2="190.85" y2="305.70" stroke="#111" stroke-width="0.65"/>
<line x1="190.00" y1="304.85" x2="190.00" y2="306.55" stroke="#111" stroke-width="0.65"/>
<line x1="180.55" y1="309.30" x2="192.35" y2="309.30" stroke="#777" stroke-width="0.6"/>
<line x1="196.10" y1="306.20" x2="197.30" y2="306.20" stroke="#777" stroke-width="0.75"/>
<line x1="201.55" y1="305.70" x2="203.25" y2="305.70" stroke="#111" stroke-width="0.65"/>
<line x1="202.40" y1="304.85" x2="202.40" y2="306.55" stroke="#111" stroke-width="0.65"/>
<line x1="193.35" y1="309.30" x2="205.15" y2="309.30" stroke="#777" stroke-width="0.6"/>
<line x1="208.40" y1="306.20" x2="209.60" y2="306.20" stroke="#777" stroke-width="0.75"/>
<line x1="214.35" y1="305.70" x2="216.05" y2="305.70" stroke="#111" stroke-width="0.65"/>
<line x1="215.20" y1="304.85" x2="215.20" y2="306.55" stroke="#111" stroke-width="0.65"/>
<line x1="205.90" y1="309.30" x2="217.70" y2="309.30" stroke="#777" stroke-width="0.6"/>
<text x="186.80" y="314.70" font-size="4.7" text-anchor="middle" fill="#111" stroke="#111" stroke-width="0.14">DMSO</text>
<text x="202.10" y="314.70" font-size="4.7" text-anchor="middle" fill="#111" stroke="#111" stroke-width="0.14">zVAD</text>
<text x="216.90" y="314.70" font-size="4.7" text-anchor="middle" fill="#111" stroke="#111" stroke-width="0.14">zDEVD</text>
<line x1="179.50" y1="318.40" x2="223.80" y2="318.40" stroke="#666" stroke-width="0.6"/>
<text x="202.60" y="326.20" font-size="5.65" text-anchor="middle" fill="#111" stroke="#111" stroke-width="0.14">control</text>
<text x="281.40" y="308.80" font-size="5.0" text-anchor="start" fill="#111" stroke="#111" stroke-width="0.14">TRAIL</text>
<line x1="300.70" y1="306.20" x2="301.90" y2="306.20" stroke="#777" stroke-width="0.75"/>
<line x1="306.95" y1="305.70" x2="308.65" y2="305.70" stroke="#111" stroke-width="0.65"/>
<line x1="307.80" y1="304.85" x2="307.80" y2="306.55" stroke="#111" stroke-width="0.65"/>
<line x1="298.35" y1="309.50" x2="310.15" y2="309.50" stroke="#999" stroke-width="0.6"/>
<line x1="314.40" y1="306.20" x2="315.60" y2="306.20" stroke="#777" stroke-width="0.75"/>
<line x1="320.15" y1="305.70" x2="321.85" y2="305.70" stroke="#111" stroke-width="0.65"/>
<line x1="321.00" y1="304.85" x2="321.00" y2="306.55" stroke="#111" stroke-width="0.65"/>
<line x1="311.80" y1="309.50" x2="323.60" y2="309.50" stroke="#999" stroke-width="0.6"/>
<line x1="327.10" y1="306.20" x2="328.30" y2="306.20" stroke="#777" stroke-width="0.75"/>
<line x1="332.95" y1="305.70" x2="334.65" y2="305.70" stroke="#111" stroke-width="0.65"/>
<line x1="333.80" y1="304.85" x2="333.80" y2="306.55" stroke="#111" stroke-width="0.65"/>
<line x1="324.55" y1="309.50" x2="336.35" y2="309.50" stroke="#999" stroke-width="0.6"/>
<text x="302.95" y="315.10" font-size="4.5" text-anchor="middle" fill="#111" stroke="#111" stroke-width="0.14">DMSO</text>
<text x="318.05" y="315.10" font-size="4.5" text-anchor="middle" fill="#111" stroke="#111" stroke-width="0.14">zVAD</text>
<text x="332.60" y="315.10" font-size="4.5" text-anchor="middle" fill="#111" stroke="#111" stroke-width="0.14">zDEVD</text>
<line x1="296.20" y1="318.60" x2="338.00" y2="318.60" stroke="#666" stroke-width="0.6"/>
<text x="318.95" y="326.10" font-size="5.65" text-anchor="middle" fill="#111" stroke="#111" stroke-width="0.14">Medium</text>
<line x1="348.70" y1="306.20" x2="349.90" y2="306.20" stroke="#777" stroke-width="0.75"/>
<line x1="354.95" y1="305.70" x2="356.65" y2="305.70" stroke="#111" stroke-width="0.65"/>
<line x1="355.80" y1="304.85" x2="355.80" y2="306.55" stroke="#111" stroke-width="0.65"/>
<line x1="346.35" y1="309.50" x2="358.15" y2="309.50" stroke="#999" stroke-width="0.6"/>
<line x1="362.20" y1="306.20" x2="363.40" y2="306.20" stroke="#777" stroke-width="0.75"/>
<line x1="367.95" y1="305.70" x2="369.65" y2="305.70" stroke="#111" stroke-width="0.65"/>
<line x1="368.80" y1="304.85" x2="368.80" y2="306.55" stroke="#111" stroke-width="0.65"/>
<line x1="359.60" y1="309.50" x2="371.40" y2="309.50" stroke="#999" stroke-width="0.6"/>
<line x1="374.80" y1="306.20" x2="376.00" y2="306.20" stroke="#777" stroke-width="0.75"/>
<line x1="380.75" y1="305.70" x2="382.45" y2="305.70" stroke="#111" stroke-width="0.65"/>
<line x1="381.60" y1="304.85" x2="381.60" y2="306.55" stroke="#111" stroke-width="0.65"/>
<line x1="372.30" y1="309.50" x2="384.10" y2="309.50" stroke="#999" stroke-width="0.6"/>
<text x="352.00" y="315.10" font-size="4.5" text-anchor="middle" fill="#111" stroke="#111" stroke-width="0.14">DMSO</text>
<text x="367.30" y="315.10" font-size="4.5" text-anchor="middle" fill="#111" stroke="#111" stroke-width="0.14">zVAD</text>
<text x="382.10" y="315.10" font-size="4.5" text-anchor="middle" fill="#111" stroke="#111" stroke-width="0.14">zDEVD</text>
<line x1="345.20" y1="318.60" x2="389.50" y2="318.60" stroke="#666" stroke-width="0.6"/>
<text x="368.30" y="326.10" font-size="5.65" text-anchor="middle" fill="#111" stroke="#111" stroke-width="0.14">DMSO</text>
<line x1="396.10" y1="306.20" x2="397.30" y2="306.20" stroke="#777" stroke-width="0.75"/>
<line x1="402.65" y1="305.70" x2="404.35" y2="305.70" stroke="#111" stroke-width="0.65"/>
<line x1="403.50" y1="304.85" x2="403.50" y2="306.55" stroke="#111" stroke-width="0.65"/>
<line x1="393.90" y1="309.50" x2="405.70" y2="309.50" stroke="#999" stroke-width="0.6"/>
<line x1="409.90" y1="306.20" x2="411.10" y2="306.20" stroke="#777" stroke-width="0.75"/>
<line x1="415.65" y1="305.70" x2="417.35" y2="305.70" stroke="#111" stroke-width="0.65"/>
<line x1="416.50" y1="304.85" x2="416.50" y2="306.55" stroke="#111" stroke-width="0.65"/>
<line x1="407.30" y1="309.50" x2="419.10" y2="309.50" stroke="#999" stroke-width="0.6"/>
<line x1="422.40" y1="306.20" x2="423.60" y2="306.20" stroke="#777" stroke-width="0.75"/>
<line x1="428.15" y1="305.70" x2="429.85" y2="305.70" stroke="#111" stroke-width="0.65"/>
<line x1="429.00" y1="304.85" x2="429.00" y2="306.55" stroke="#111" stroke-width="0.65"/>
<line x1="419.80" y1="309.50" x2="431.60" y2="309.50" stroke="#999" stroke-width="0.6"/>
<text x="400.10" y="315.10" font-size="4.5" text-anchor="middle" fill="#111" stroke="#111" stroke-width="0.14">DMSO</text>
<text x="415.70" y="315.10" font-size="4.5" text-anchor="middle" fill="#111" stroke="#111" stroke-width="0.14">zVAD</text>
<text x="430.30" y="315.10" font-size="4.5" text-anchor="middle" fill="#111" stroke="#111" stroke-width="0.14">zDEVD</text>
<line x1="393.40" y1="318.60" x2="437.70" y2="318.60" stroke="#666" stroke-width="0.6"/>
<text x="416.45" y="326.10" font-size="5.65" text-anchor="middle" fill="#111" stroke="#111" stroke-width="0.14">XIAP inh.2</text>
<line x1="444.20" y1="306.20" x2="445.40" y2="306.20" stroke="#777" stroke-width="0.75"/>
<line x1="450.55" y1="305.70" x2="452.25" y2="305.70" stroke="#111" stroke-width="0.65"/>
<line x1="451.40" y1="304.85" x2="451.40" y2="306.55" stroke="#111" stroke-width="0.65"/>
<line x1="441.90" y1="309.50" x2="453.70" y2="309.50" stroke="#999" stroke-width="0.6"/>
<line x1="457.40" y1="306.20" x2="458.60" y2="306.20" stroke="#777" stroke-width="0.75"/>
<line x1="463.15" y1="305.70" x2="464.85" y2="305.70" stroke="#111" stroke-width="0.65"/>
<line x1="464.00" y1="304.85" x2="464.00" y2="306.55" stroke="#111" stroke-width="0.65"/>
<line x1="454.80" y1="309.50" x2="466.60" y2="309.50" stroke="#999" stroke-width="0.6"/>
<line x1="470.40" y1="306.20" x2="471.60" y2="306.20" stroke="#777" stroke-width="0.75"/>
<line x1="476.15" y1="305.70" x2="477.85" y2="305.70" stroke="#111" stroke-width="0.65"/>
<line x1="477.00" y1="304.85" x2="477.00" y2="306.55" stroke="#111" stroke-width="0.65"/>
<line x1="467.80" y1="309.50" x2="479.60" y2="309.50" stroke="#999" stroke-width="0.6"/>
<text x="448.80" y="315.10" font-size="4.5" text-anchor="middle" fill="#111" stroke="#111" stroke-width="0.14">DMSO</text>
<text x="464.60" y="315.10" font-size="4.5" text-anchor="middle" fill="#111" stroke="#111" stroke-width="0.14">zVAD</text>
<text x="479.10" y="315.10" font-size="4.5" text-anchor="middle" fill="#111" stroke="#111" stroke-width="0.14">zDEVD</text>
<line x1="441.90" y1="318.60" x2="485.80" y2="318.60" stroke="#666" stroke-width="0.6"/>
<text x="464.60" y="326.10" font-size="5.65" text-anchor="middle" fill="#111" stroke="#111" stroke-width="0.14">control</text>
</svg></div>
</body></html>
